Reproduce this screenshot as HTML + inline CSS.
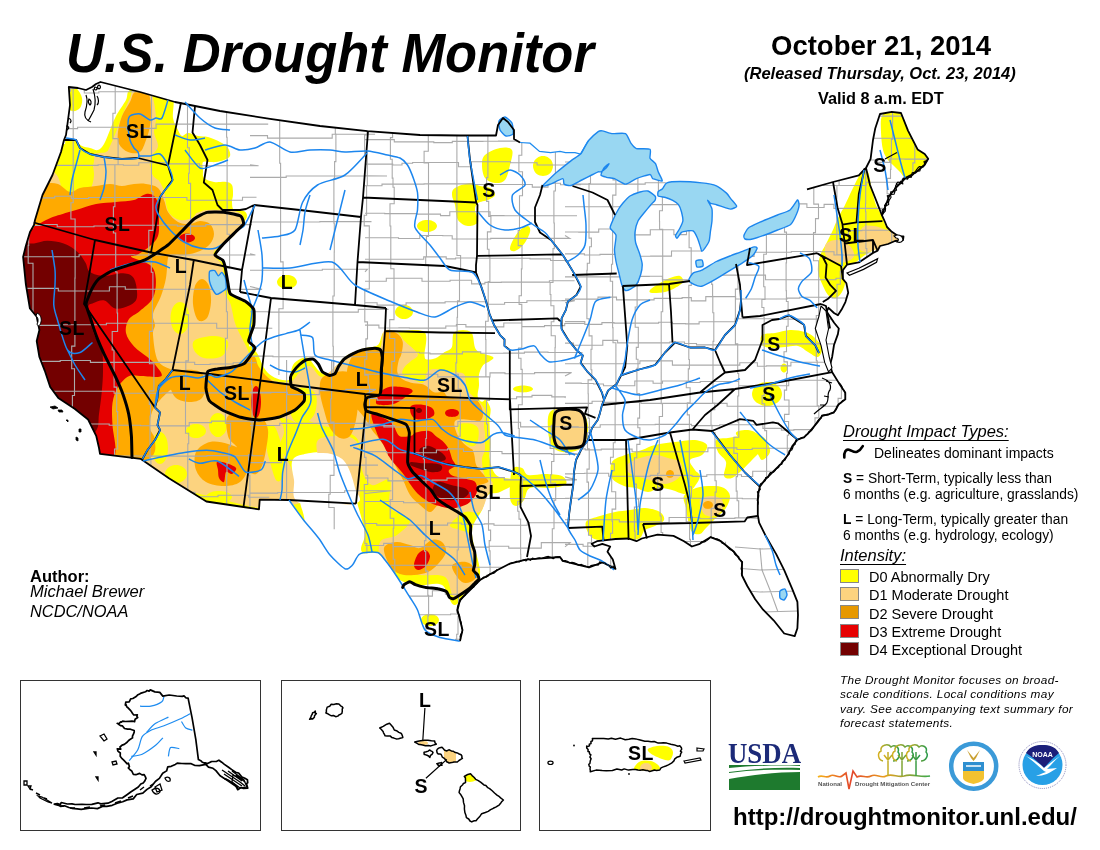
<!DOCTYPE html>
<html><head><meta charset="utf-8">
<style>
html,body{margin:0;padding:0;background:#fff;}
body{width:1100px;height:850px;position:relative;overflow:hidden;font-family:"Liberation Sans",Arial,sans-serif;color:#000;}
.map{position:absolute;left:0;top:0;}
.a{position:absolute;white-space:nowrap;}
#title{left:66px;top:24px;font-size:52.5px;font-weight:bold;font-style:italic;line-height:60px;transform:scaleY(1.064);transform-origin:0 48px;}
#date{left:771px;top:30px;font-size:27.5px;font-weight:bold;line-height:32px;}
#rel{left:744px;top:63px;font-size:16.5px;font-weight:bold;font-style:italic;line-height:20px;}
#valid{left:818px;top:88px;font-size:16.3px;font-weight:bold;line-height:20px;}
#author{left:30px;top:566px;font-size:14px;line-height:19px;}
#url{left:733px;top:802px;font-size:24px;font-weight:bold;line-height:30px;}
.box{position:absolute;border:1.5px solid #333;box-sizing:border-box;}
.lg{position:absolute;font-size:13.8px;line-height:16px;}
.sw{position:absolute;left:840px;width:19px;height:14px;box-sizing:border-box;border:1px solid #888;}
.it{font-size:14.5px;}
.pp{font-size:11.8px;line-height:14.3px;font-style:italic;letter-spacing:0.35px;}
</style></head><body>
<svg class="map" width="1100" height="850" viewBox="0 0 1100 850">
<defs><clipPath id="us"><path d="M68.8,87 78,88 86,90 92,87 96,84 100.5,82 140,92 175,102 220,111 270,118.8 320,126 367.5,131.2 420,135 460,135.5 496,135.5 498,125 503,118 508,122 514,130 514,139 520,142.5 530,143.2 539.5,151.4 550.5,152.7 560,151.4 565.5,152.7 575,152.7 580.5,154.1 584.5,147.3 588.6,140.5 598.2,131.6 602.3,130.9 611.8,133.6 625.5,133.6 630.9,143.2 636.4,148.6 650,149.3 650,158.2 655.5,163.6 658.2,171.8 660.9,177.3 665,180 666.4,184.1 666.9,182.9 680,181.5 701.8,182.9 716.4,185.8 726.5,193.1 730.9,198.9 736.7,206.2 730.9,209.1 725.1,207.6 716.4,204.7 710.5,203.3 707.6,200.4 712,209.1 712,220.7 710.5,230.9 709.1,241.1 704.7,248.4 701.8,251.3 700,258 698,265 693.1,273.1 701.8,270.2 716.4,261.5 730.9,255.6 742.5,251.3 754.2,246.9 757.1,248.4 752,243 745,239 744,235.3 748.4,228 760,222.2 777.5,215 790,210 797.5,200 800,195 805,188 807,189.4 833,182 858.8,175.3 862,172 866,168 870.6,158.8 873,140 875.3,128.2 880,114 891.8,111.8 901,113 908,130.6 917.6,149.4 924.7,154 928.2,158.8 924.7,164.7 915,173 906,177.6 896.5,187 889,196.5 884.7,208.2 882,215.3 885,222 887,227 891.8,231.8 898.8,236.5 903.5,236.5 903,240 895,241 888,244 880,246 877.6,250.6 873,253 858.8,262.4 847,264.7 843,270 842.6,278.6 846.4,283.3 848.2,292.7 845.4,302.1 841.6,309.6 837.9,315.3 834,313 828.5,307.8 826.6,311.5 834.1,322.8 838.8,328.5 837.9,334.1 834,345 832.2,356.7 830,365 832.2,372.2 838.8,382.9 845.3,392.8 845.3,399.4 838.8,404.3 833.8,412.6 828.9,414.2 822.3,415.8 817.4,422.4 809.1,432.3 804.2,437.2 797.6,439.7 792.7,445.5 787.7,455.3 781.2,463.6 772.9,471.8 764.7,480 759.8,486.6 758,495 757.8,505 757.8,514.8 759.1,522.7 765.7,535.9 776.3,554.4 784.2,570.2 792.1,588.6 797.4,601.8 798,615 797.4,628.2 794.7,636.1 784.2,633.5 773.6,620.3 763.1,609.7 755.2,599.2 747.3,586 742,575.5 742,562.3 734,551.7 720.9,541.2 710.4,537.2 699.8,543.8 691.9,546.5 684,541.2 673.5,535.9 657.6,534.6 641.8,538.5 636.5,541.2 628.6,538.5 615.5,539 597,541.2 591.7,543.8 594.4,546.5 602.3,543.8 610.2,546.5 607.5,551.7 612.8,559.6 615.5,568.9 602.3,562.3 589,567.5 578.5,564.9 562.7,561 560,557 541.6,558.3 525.8,559.6 510,563.6 497.5,570 480,580 470,590 460,600 457.5,610 462.5,630 460,641 440,637.5 425,630 417.5,610 410,597.5 397.5,577.5 385,560 377.5,552.5 360,553.8 352.5,565 345,568.8 330,555 320,540 312,530 304.3,521 296.6,510.6 289,500 259.7,499.6 259,509.3 243.5,507 206.4,501.5 169.3,478.5 140.9,458.9 100,453.8 99,448 96.2,435.8 88.1,419.5 74.6,408.7 58.3,397.9 50.2,387 44.8,370.8 39.4,357 36.7,341 39.4,330 36.7,316.7 29.9,308.5 25.8,284 23.1,257 25.8,246 30,232 34,225 35,220 42.5,195 52.5,175 61,152 64,140 66,135 70,105Z"/></clipPath></defs>
<path d="M68.8,87 78,88 86,90 92,87 96,84 100.5,82 140,92 175,102 220,111 270,118.8 320,126 367.5,131.2 420,135 460,135.5 496,135.5 498,125 503,118 508,122 514,130 514,139 520,142.5 530,143.2 539.5,151.4 550.5,152.7 560,151.4 565.5,152.7 575,152.7 580.5,154.1 584.5,147.3 588.6,140.5 598.2,131.6 602.3,130.9 611.8,133.6 625.5,133.6 630.9,143.2 636.4,148.6 650,149.3 650,158.2 655.5,163.6 658.2,171.8 660.9,177.3 665,180 666.4,184.1 666.9,182.9 680,181.5 701.8,182.9 716.4,185.8 726.5,193.1 730.9,198.9 736.7,206.2 730.9,209.1 725.1,207.6 716.4,204.7 710.5,203.3 707.6,200.4 712,209.1 712,220.7 710.5,230.9 709.1,241.1 704.7,248.4 701.8,251.3 700,258 698,265 693.1,273.1 701.8,270.2 716.4,261.5 730.9,255.6 742.5,251.3 754.2,246.9 757.1,248.4 752,243 745,239 744,235.3 748.4,228 760,222.2 777.5,215 790,210 797.5,200 800,195 805,188 807,189.4 833,182 858.8,175.3 862,172 866,168 870.6,158.8 873,140 875.3,128.2 880,114 891.8,111.8 901,113 908,130.6 917.6,149.4 924.7,154 928.2,158.8 924.7,164.7 915,173 906,177.6 896.5,187 889,196.5 884.7,208.2 882,215.3 885,222 887,227 891.8,231.8 898.8,236.5 903.5,236.5 903,240 895,241 888,244 880,246 877.6,250.6 873,253 858.8,262.4 847,264.7 843,270 842.6,278.6 846.4,283.3 848.2,292.7 845.4,302.1 841.6,309.6 837.9,315.3 834,313 828.5,307.8 826.6,311.5 834.1,322.8 838.8,328.5 837.9,334.1 834,345 832.2,356.7 830,365 832.2,372.2 838.8,382.9 845.3,392.8 845.3,399.4 838.8,404.3 833.8,412.6 828.9,414.2 822.3,415.8 817.4,422.4 809.1,432.3 804.2,437.2 797.6,439.7 792.7,445.5 787.7,455.3 781.2,463.6 772.9,471.8 764.7,480 759.8,486.6 758,495 757.8,505 757.8,514.8 759.1,522.7 765.7,535.9 776.3,554.4 784.2,570.2 792.1,588.6 797.4,601.8 798,615 797.4,628.2 794.7,636.1 784.2,633.5 773.6,620.3 763.1,609.7 755.2,599.2 747.3,586 742,575.5 742,562.3 734,551.7 720.9,541.2 710.4,537.2 699.8,543.8 691.9,546.5 684,541.2 673.5,535.9 657.6,534.6 641.8,538.5 636.5,541.2 628.6,538.5 615.5,539 597,541.2 591.7,543.8 594.4,546.5 602.3,543.8 610.2,546.5 607.5,551.7 612.8,559.6 615.5,568.9 602.3,562.3 589,567.5 578.5,564.9 562.7,561 560,557 541.6,558.3 525.8,559.6 510,563.6 497.5,570 480,580 470,590 460,600 457.5,610 462.5,630 460,641 440,637.5 425,630 417.5,610 410,597.5 397.5,577.5 385,560 377.5,552.5 360,553.8 352.5,565 345,568.8 330,555 320,540 312,530 304.3,521 296.6,510.6 289,500 259.7,499.6 259,509.3 243.5,507 206.4,501.5 169.3,478.5 140.9,458.9 100,453.8 99,448 96.2,435.8 88.1,419.5 74.6,408.7 58.3,397.9 50.2,387 44.8,370.8 39.4,357 36.7,341 39.4,330 36.7,316.7 29.9,308.5 25.8,284 23.1,257 25.8,246 30,232 34,225 35,220 42.5,195 52.5,175 61,152 64,140 66,135 70,105Z" fill="#fff" stroke="none"/>
<g clip-path="url(#us)">
<path d="M58,146C69,146 63.3,141 66,140C68.7,139 71.3,139 74,140C76.7,141 79.3,144.7 82,146C84.7,147.3 87.3,147.3 90,148C92.7,148.7 95.7,150.7 98,150C100.3,149.3 102,147.3 104,144C106,140.7 108,134.7 110,130C112,125.3 113.3,121 116,116C118.7,111 123.7,104.3 126,100C128.3,95.7 126,92 130,90C134,88 143,87.2 150,88C157,88.8 168.2,90 172,95C175.8,100 172,112.2 173,118C174,123.8 176.5,127 178,130C179.5,133 180.3,135.5 182,136C183.7,136.5 185.3,133 188,133C190.7,133 194.7,135.3 198,136C201.3,136.7 204.3,136 208,137C211.7,138 216.7,140.2 220,142C223.3,143.8 226.3,145.7 228,148C229.7,150.3 230.7,154 230,156C229.3,158 226.3,159 224,160C221.7,161 218.3,161.7 216,162C213.7,162.3 212.2,162 210,162C207.8,162 204.2,160.7 203,162C201.8,163.3 202.8,167.3 203,170C203.2,172.7 202.2,176 204,178C205.8,180 210.3,181.3 214,182C217.7,182.7 223,181.5 226,182C229,182.5 230.8,182.8 232,185C233.2,187.2 233,192.2 233,195C233,197.8 231.8,199.5 232,202C232.2,204.5 232,208.5 234,210C236,211.5 241.8,210 244,211C246.2,212 247,214.2 247,216C247,217.8 245.8,219.3 244,222C242.2,224.7 239.5,228.2 236,232C232.5,235.8 226.5,241.2 223,245C219.5,248.8 215.2,252.2 215,255C214.8,257.8 220.2,259.5 222,262C223.8,264.5 224.8,266.2 226,270C227.2,273.8 227.8,280.7 229,285C230.2,289.3 230.2,293 233,296C235.8,299 242.5,300.7 246,303C249.5,305.3 252.7,306.2 254,310C255.3,313.8 254.8,320.2 254,326C253.2,331.8 249.4,341.6 249,345C248.6,348.4 250,344.9 251.5,346.5C253,348.1 256.1,351.4 258,354.7C259.9,357.9 261.1,362.7 263,366C264.9,369.3 266.9,372.3 269.7,374.5C272.4,376.7 276.2,378.6 279.5,379.4C282.8,380.2 287.5,380.8 289.4,379.4C291.3,378 290.2,373.7 291,371C291.8,368.3 292.5,365.2 294.4,363C296.3,360.8 300.2,358.8 302.6,358C305,357.2 307.4,357.2 309,358C310.6,358.8 310.8,360.8 312.5,363C314.2,365.2 316.8,369.1 319,371C321.2,372.9 323.5,374.5 325.7,374.5C327.9,374.5 329.8,372.9 332,371C334.2,369.1 336.6,365.4 338.8,363C341,360.6 342.6,358.3 345.4,356.4C348.1,354.5 352,352.8 355.3,351.4C358.6,350 361.4,349.1 365.2,348C369,346.9 374.9,347.7 378,345C381.1,342.3 380.7,334.3 384,332C387.3,329.7 391.2,331 398,331C404.8,331 420.1,327.9 424.5,332C428.9,336.1 424,350.9 424.5,355.5C425,360.1 425.5,359.1 427.3,359.5C429.1,359.9 432.8,359.3 435.5,358.2C438.2,357.1 440.9,354.5 443.6,352.7C446.3,350.9 450,350.8 451.8,347.3C453.6,343.9 451.3,334.6 454.5,332C457.7,329.4 467.4,329 471,332C474.6,335 472.8,345.9 476.4,350C480,354.1 490.4,355 492.7,356.8C495,358.6 491.6,359.6 490,361C488.4,362.4 485,362.8 483.2,365C481.4,367.2 479.7,371.1 479,374.5C478.3,377.9 479.2,381.9 479,385.5C478.8,389.1 477.2,393.7 477.7,396.4C478.2,399.1 480.4,401.2 481.8,401.8C483.2,402.4 484.6,398.9 486,400C487.4,401.1 489.9,405.1 490.5,408.7C491.1,412.3 489.5,416 489.5,421.8C489.5,427.6 490.5,437.8 490.5,443.6C490.5,449.4 489.1,452.3 489.5,456.7C489.9,461.1 491.2,466.5 492.7,469.8C494.1,473.1 495.5,474.9 498.2,476.4C500.9,477.8 505.4,477.8 509,478.5C512.6,479.2 521.5,478.4 520,480.7C518.5,482.9 505.3,489.6 500,492C494.7,494.4 491,492 488,495C485,498 484.7,503.8 482,510C479.3,516.2 472.3,522 472,532C471.7,542 479.5,562 480,570C480.5,578 479.2,574.2 475,580C470.8,585.8 460.5,604.2 455,605C449.5,605.8 447.8,588.3 442,585C436.2,581.7 427,585.8 420,585C413,584.2 405.8,583.8 400,580C394.2,576.2 391.3,566.7 385,562C378.7,557.3 365.3,556.5 362,552C358.7,547.5 365,540.3 365,535C365,529.7 363.3,525.5 362,520C360.7,514.5 358.2,507.3 357,502C355.8,496.7 356.5,494 355,488C353.5,482 350.7,471.3 348,466C345.3,460.7 343.3,458.3 339,456C334.7,453.7 328.5,452 322,452C315.5,452 304.7,453 300,456C295.3,459 294.8,464.3 294,470C293.2,475.7 294,484.7 295,490C296,495.3 299.2,495.3 300,502C300.8,508.7 310,525.3 300,530C290,534.7 266.7,538.3 240,530C213.3,521.7 165,488.3 140,480C115,471.7 113.3,493.3 90,480C66.7,466.7 15,456.7 0,400C-15,343.3 -9.7,182.3 0,140C9.7,97.7 47,146 58,146Z M66,86C67.7,83.3 73.3,86 76,88C78.7,90 81.3,94.7 82,98C82.7,101.3 81.7,105.8 80,108C78.3,110.2 74.3,111.7 72,111C69.7,110.3 67,108.2 66,104C65,99.8 64.3,88.7 66,86Z M485,155C488,152.2 495.5,148.8 500,148C504.5,147.2 510.3,147.2 512,150C513.7,152.8 511.2,160 510,165C508.8,170 507.5,177 505,180C502.5,183 498.3,183.3 495,183C491.7,182.7 487.2,181 485,178C482.8,175 482,168.8 482,165C482,161.2 482,157.8 485,155Z M455,188C458,186 465.8,183.3 470,183C474.2,182.7 476.7,185.2 480,186C483.3,186.8 487.5,186.5 490,188C492.5,189.5 495.3,193 495,195C494.7,197 490.8,198.7 488,200C485.2,201.3 480.2,201.3 478,203C475.8,204.7 475,206.8 475,210C475,213.2 479.2,219.3 478,222C476.8,224.7 471.3,226.3 468,226C464.7,225.7 460.2,223.5 458,220C455.8,216.5 456,209.2 455,205C454,200.8 452,197.8 452,195C452,192.2 452,190 455,188Z M553,166C553,168 552.2,170.3 551.1,171.9C549.9,173.5 548,174.9 546.1,175.5C544.2,176.1 541.8,176.1 539.9,175.5C538,174.9 536.1,173.5 534.9,171.9C533.8,170.3 533,168 533,166C533,164 533.8,161.7 534.9,160.1C536.1,158.5 538,157.1 539.9,156.5C541.8,155.9 544.2,155.9 546.1,156.5C548,157.1 549.9,158.5 551.1,160.1C552.2,161.7 553,164 553,166Z M437,226C437,227.2 436.2,228.6 435.1,229.5C433.9,230.5 432,231.3 430.1,231.7C428.2,232.1 425.8,232.1 423.9,231.7C422,231.3 420.1,230.5 418.9,229.5C417.8,228.6 417,227.2 417,226C417,224.8 417.8,223.4 418.9,222.5C420.1,221.5 422,220.7 423.9,220.3C425.8,219.9 428.2,219.9 430.1,220.3C432,220.7 433.9,221.5 435.1,222.5C436.2,223.4 437,224.8 437,226Z M513,240C514.7,236.8 517.5,232.3 520,230C522.5,227.7 526.3,225.7 528,226C529.7,226.3 530.7,229 530,232C529.3,235 526.5,240.8 524,244C521.5,247.2 517.3,250.2 515,251C512.7,251.8 510.3,250.8 510,249C509.7,247.2 511.3,243.2 513,240Z M297,282C297,283.4 296.2,285 295.1,286.1C293.9,287.2 292,288.2 290.1,288.7C288.2,289.1 285.8,289.1 283.9,288.7C282,288.2 280.1,287.2 278.9,286.1C277.8,285 277,283.4 277,282C277,280.6 277.8,279 278.9,277.9C280.1,276.8 282,275.8 283.9,275.3C285.8,274.9 288.2,274.9 290.1,275.3C292,275.8 293.9,276.8 295.1,277.9C296.2,279 297,280.6 297,282Z M413,312C413,313.4 412.3,315 411.3,316.1C410.2,317.2 408.5,318.2 406.8,318.7C405.1,319.1 402.9,319.1 401.2,318.7C399.5,318.2 397.8,317.2 396.7,316.1C395.7,315 395,313.4 395,312C395,310.6 395.7,309 396.7,307.9C397.8,306.8 399.5,305.8 401.2,305.3C402.9,304.9 405.1,304.9 406.8,305.3C408.5,305.8 410.2,306.8 411.3,307.9C412.3,309 413,310.6 413,312Z M533,389C533,389.7 532.2,390.5 531.1,391.1C529.9,391.6 528,392.1 526.1,392.3C524.2,392.5 521.8,392.5 519.9,392.3C518,392.1 516.1,391.6 514.9,391.1C513.8,390.5 513,389.7 513,389C513,388.3 513.8,387.5 514.9,386.9C516.1,386.4 518,385.9 519.9,385.7C521.8,385.5 524.2,385.5 526.1,385.7C528,385.9 529.9,386.4 531.1,386.9C532.2,387.5 533,388.3 533,389Z M650,290C651.3,288.3 656.7,285 660,283C663.3,281 666.7,279.2 670,278C673.3,276.8 677.8,275.3 680,276C682.2,276.7 683.8,280 683,282C682.2,284 678,286.3 675,288C672,289.7 668.8,291.2 665,292C661.2,292.8 654.5,293.3 652,293C649.5,292.7 648.7,291.7 650,290Z M882,116C883.8,112.5 888.7,111.5 892,111C895.3,110.5 899,109.5 902,113C905,116.5 907,125.8 910,132C913,138.2 916.7,145.7 920,150C923.3,154.3 929.2,155.3 930,158C930.8,160.7 927.5,163.3 925,166C922.5,168.7 918.2,172 915,174C911.8,176 908.5,178.3 906,178C903.5,177.7 902,174 900,172C898,170 896,168 894,166C892,164 889.8,162.7 888,160C886.2,157.3 884.2,154.7 883,150C881.8,145.3 881.2,137.7 881,132C880.8,126.3 880.2,119.5 882,116Z M862,172C863.7,171 866.3,169 868,172C869.7,175 870.7,184.5 872,190C873.3,195.5 874.3,200.7 876,205C877.7,209.3 880.3,212.5 882,216C883.7,219.5 884,223 886,226C888,229 891,232 894,234C897,236 903.7,236.3 904,238C904.3,239.7 900,242.3 896,244C892,245.7 884.7,246.5 880,248C875.3,249.5 872,250.7 868,253C864,255.3 859.3,259.5 856,262C852.7,264.5 849.7,265 848,268C846.3,271 847,276 846,280C845,284 843.7,289 842,292C840.3,295 838.2,297.3 836,298C833.8,298.7 831,297.7 829,296C827,294.3 825.8,292 824,288C822.2,284 818.7,277.3 818,272C817.3,266.7 818.7,260.7 820,256C821.3,251.3 824,248 826,244C828,240 830,236.3 832,232C834,227.7 835.8,222.5 838,218C840.2,213.5 842.7,209.7 845,205C847.3,200.3 849.8,194.5 852,190C854.2,185.5 856.3,181 858,178C859.7,175 860.3,173 862,172Z M762,335C764.2,333 770.3,333.8 775,333C779.7,332.2 785,330.2 790,330C795,329.8 800.8,330.7 805,332C809.2,333.3 812.2,335.3 815,338C817.8,340.7 821.5,344.8 822,348C822.5,351.2 820.3,356.3 818,357C815.7,357.7 811.3,353.8 808,352C804.7,350.2 801.8,346.8 798,346C794.2,345.2 789.3,346.7 785,347C780.7,347.3 775.8,348.3 772,348C768.2,347.7 763.7,347.2 762,345C760.3,342.8 759.8,337 762,335Z M787.5,368C787.5,368.9 787.2,369.9 786.8,370.6C786.4,371.4 785.7,372 785.1,372.3C784.4,372.6 783.6,372.6 782.9,372.3C782.3,372 781.6,371.4 781.2,370.6C780.8,369.9 780.5,368.9 780.5,368C780.5,367.1 780.8,366.1 781.2,365.4C781.6,364.6 782.3,364 782.9,363.7C783.6,363.4 784.4,363.4 785.1,363.7C785.7,364 786.4,364.6 786.8,365.4C787.2,366.1 787.5,367.1 787.5,368Z M782,394C782,396.4 780.9,399.2 779.1,401.1C777.4,403 774.4,404.7 771.6,405.4C768.8,406.1 765.2,406.1 762.4,405.4C759.6,404.7 756.6,403 754.9,401.1C753.1,399.2 752,396.4 752,394C752,391.6 753.1,388.8 754.9,386.9C756.6,385 759.6,383.3 762.4,382.6C765.2,381.9 768.8,381.9 771.6,382.6C774.4,383.3 777.4,385 779.1,386.9C780.9,388.8 782,391.6 782,394Z M612,462C614.2,458.2 620,457 625,455C630,453 637,451.7 642,450C647,448.3 649.5,446.3 655,445C660.5,443.7 668.3,442.8 675,442C681.7,441.2 689.7,439.5 695,440C700.3,440.5 705.8,442.5 707,445C708.2,447.5 704.8,452.5 702,455C699.2,457.5 691.2,457.5 690,460C688.8,462.5 693.3,467.3 695,470C696.7,472.7 700,473.3 700,476C700,478.7 697.3,483 695,486C692.7,489 689.8,493.3 686,494C682.2,494.7 676.3,491 672,490C667.7,489 664,487.7 660,488C656,488.3 652,492 648,492C644,492 640,489 636,488C632,487 628,487.7 624,486C620,484.3 614,482 612,478C610,474 609.8,465.8 612,462Z M586,522C587.7,518.7 595.2,517.7 600,516C604.8,514.3 610,513 615,512C620,511 625,510.7 630,510C635,509.3 640,507.7 645,508C650,508.3 656.8,510 660,512C663.2,514 664.8,517.7 664,520C663.2,522.3 658.2,524.3 655,526C651.8,527.7 647.5,528 645,530C642.5,532 642.5,536.3 640,538C637.5,539.7 634.2,540 630,540C625.8,540 620,538 615,538C610,538 604.2,540.3 600,540C595.8,539.7 592.3,539 590,536C587.7,533 584.3,525.3 586,522Z M684,496C685.7,492.7 691.3,489.7 696,488C700.7,486.3 707.3,486 712,486C716.7,486 721,486.3 724,488C727,489.7 729.7,492.7 730,496C730.3,499.3 728.3,504.3 726,508C723.7,511.7 719.3,514.7 716,518C712.7,521.3 708.7,525.3 706,528C703.3,530.7 702.3,533.3 700,534C697.7,534.7 694,534.3 692,532C690,529.7 689,524 688,520C687,516 686.7,512 686,508C685.3,504 682.3,499.3 684,496Z M716,440C717.7,437.7 723.7,438.7 728,438C732.3,437.3 737.7,435.7 742,436C746.3,436.3 751,437.7 754,440C757,442.3 760.3,446.7 760,450C759.7,453.3 755,456.7 752,460C749,463.3 745.3,467 742,470C738.7,473 735,477 732,478C729,479 725,478.7 724,476C723,473.3 727,466 726,462C725,458 719.7,455.7 718,452C716.3,448.3 714.3,442.3 716,440Z M736,434C734.7,430.3 744.3,430 748,430C751.7,430 755,432.3 758,434C761,435.7 764,437 766,440C768,443 770.7,448.7 770,452C769.3,455.3 764.3,460 762,460C759.7,460 760.3,456.3 756,452C751.7,447.7 737.3,437.7 736,434Z M550,412C553,408.3 560.7,408 566,408C571.3,408 578.3,409.2 582,412C585.7,414.8 587.3,420.3 588,425C588.7,429.7 587.7,435.8 586,440C584.3,444.2 582,448 578,450C574,452 566.3,452.7 562,452C557.7,451.3 554.3,449.7 552,446C549.7,442.3 548.3,435.7 548,430C547.7,424.3 547,415.7 550,412Z M512,470C514,465 519.3,467.2 522,468C524.7,468.8 524.2,474 528,475C531.8,476 539.3,473.8 545,474C550.7,474.2 558.5,474.3 562,476C565.5,477.7 567.7,482 566,484C564.3,486 558,487.3 552,488C546,488.7 534.7,486 530,488C525.3,490 526.3,497 524,500C521.7,503 518.3,506.3 516,506C513.7,505.7 510.7,504 510,498C509.3,492 510,475 512,470Z" fill="#ffff00"/>
<path d="M20,168C27.5,168.3 39.2,169.2 45,170C50.8,170.8 52.5,171 55,173C57.5,175 58.8,178.3 60,182C61.2,185.7 60.3,192 62,195C63.7,198 67,199.5 70,200C73,200.5 76.7,199.7 80,198C83.3,196.3 87.7,193.8 90,190C92.3,186.2 93.7,180 94,175C94.3,170 92,163.5 92,160C92,156.5 91.7,155.3 94,154C96.3,152.7 103.3,153.3 106,152C108.7,150.7 108.3,149.3 110,146C111.7,142.7 114,137 116,132C118,127 119.7,121.7 122,116C124.3,110.3 128,102.3 130,98C132,93.7 130.7,91 134,90C137.3,89 146.3,87.7 150,92C153.7,96.3 155.3,109.3 156,116C156.7,122.7 153.7,127 154,132C154.3,137 158.3,142 158,146C157.7,150 153.3,152.7 152,156C150.7,159.3 149.3,162.7 150,166C150.7,169.3 154,172.7 156,176C158,179.3 160.5,182.8 162,186C163.5,189.2 164.3,192 165,195C165.7,198 165.2,200.8 166,204C166.8,207.2 167.7,211.3 170,214C172.3,216.7 176.3,219.3 180,220C183.7,220.7 188.7,219.5 192,218C195.3,216.5 194.7,212.3 200,211C205.3,209.7 217.3,209.7 224,210C230.7,210.3 236.7,211 240,213C243.3,215 244.7,218.5 244,222C243.3,225.5 239.3,230.3 236,234C232.7,237.7 227.7,241 224,244C220.3,247 215.3,249.7 214,252C212.7,254.3 214.7,255.8 216,258C217.3,260.2 220.7,261.3 222,265C223.3,268.7 223.5,275.2 224,280C224.5,284.8 223.9,290 225,294C226.1,298 228.7,298.8 230.5,304C232.3,309.2 233.1,318 235.7,325C238.3,332 243.4,340.5 246,346C248.6,351.5 249.3,354.7 251,358C252.7,361.3 254.2,363.7 256,366C257.8,368.3 259.3,369.7 262,372C264.7,374.3 267.3,378.3 272,380C276.7,381.7 285.3,383.3 290,382C294.7,380.7 296.7,374.7 300,372C303.3,369.3 306.3,365.2 310,366C313.7,366.8 317.5,377.2 322,377C326.5,376.8 332,368.7 337,365C342,361.3 347,357.2 352,355C357,352.8 362.3,353.2 367,352C371.7,350.8 377.2,351.5 380,348C382.8,344.5 381.2,333.7 384,331C386.8,328.3 393.7,330.4 397,332C400.3,333.6 400.6,336.8 404,340.5C407.4,344.2 416.5,350.6 417.7,354C418.9,357.4 413.3,358.7 411,361C408.7,363.3 405.4,365.4 404,367.7C402.6,369.9 401.5,372.7 402.7,374.5C403.9,376.3 407.6,377.2 411,378.6C414.4,380 420.3,383.8 423,382.7C425.7,381.6 425.2,374.1 427.3,371.8C429.4,369.5 432.3,369 435.5,369C438.7,369 441.9,371.1 446.4,371.8C450.9,372.5 459.5,371.8 462.7,373.2C465.9,374.6 464.6,377 465.5,380C466.4,383 466.4,387.8 468.2,391C469.9,394.2 473.9,396.8 476,399C478.1,401.2 479.5,402 481,404C482.5,406 484.5,407.5 485,411C485.5,414.5 484,418.8 484,425C484,431.2 485.3,442.2 485,448C484.7,453.8 482,455.3 482,460C482,464.7 483.2,472.6 485,476.4C486.8,480.2 492.4,479.6 492.7,483C493,486.4 489.1,492.2 487,497C484.9,501.8 483.7,509.5 480,512C476.3,514.5 470,509.8 465,512C460,514.2 450.8,522 450,525C449.2,528 456.7,528.3 460,530C463.3,531.7 467.5,530.5 470,535C472.5,539.5 473.8,549.5 475,557C476.2,564.5 480.3,573.3 477,580C473.7,586.7 460.3,597.5 455,597C449.7,596.5 450.8,580.7 445,577C439.2,573.3 427.5,576.2 420,575C412.5,573.8 406.3,571.7 400,570C393.7,568.3 385.3,569.7 382,565C378.7,560.3 377.5,547 380,542C382.5,537 392,538.7 397,535C402,531.3 411.2,524.7 410,520C408.8,515.3 393.3,513.7 390,507C386.7,500.3 393,483.7 390,480C387,476.3 376.7,486.7 372,485C367.3,483.3 364.3,477.5 362,470C359.7,462.5 361.7,446.7 358,440C354.3,433.3 346.3,432.5 340,430C333.7,427.5 326.7,426.7 320,425C313.3,423.3 305,417.5 300,420C295,422.5 292.5,431.7 290,440C287.5,448.3 287.5,460.8 285,470C282.5,479.2 277.5,488.3 275,495C272.5,501.7 292.5,512.5 270,510C247.5,507.5 170,485 140,480C110,475 113.3,493.3 90,480C66.7,466.7 15,452 0,400C-15,348 -3.3,206.7 0,168C3.3,129.3 12.5,167.7 20,168Z M555,410C557.5,407.2 563.5,407.8 568,408C572.5,408.2 579,408.3 582,411C585,413.7 585.5,419.2 586,424C586.5,428.8 586.5,436.2 585,440C583.5,443.8 581.2,445.7 577,447C572.8,448.3 563.8,449.2 560,448C556.2,446.8 555.2,443.8 554,440C552.8,436.2 552.8,430 553,425C553.2,420 552.5,412.8 555,410Z M628,464C630,461.7 635.5,459.5 640,458C644.5,456.5 650.3,455 655,455C659.7,455 663.8,456.8 668,458C672.2,459.2 677.7,459.7 680,462C682.3,464.3 682.7,469 682,472C681.3,475 679,478 676,480C673,482 668.3,484 664,484C659.7,484 654.7,481.3 650,480C645.3,478.7 639.7,477.3 636,476C632.3,474.7 629.3,474 628,472C626.7,470 626,466.3 628,464Z M700,500C701.3,497 708.3,496 712,496C715.7,496 720.3,497.7 722,500C723.7,502.3 723.3,507.3 722,510C720.7,512.7 717,515.3 714,516C711,516.7 706.3,516.7 704,514C701.7,511.3 698.7,503 700,500Z M862,228C864.7,224.7 870,225.7 874,226C878,226.3 882,228.2 886,230C890,231.8 896.7,234.7 898,237C899.3,239.3 897,242.2 894,244C891,245.8 884.7,246.7 880,248C875.3,249.3 869.7,252.3 866,252C862.3,251.7 858.7,250 858,246C857.3,242 859.3,231.3 862,228Z M826,244C828,241.3 834,239.7 838,240C842,240.3 847.3,243.3 850,246C852.7,248.7 854.7,253.3 854,256C853.3,258.7 849.3,261 846,262C842.7,263 837.3,263 834,262C830.7,261 827.3,259 826,256C824.7,253 824,246.7 826,244Z" fill="#fcd37f"/>
<path d="M62,146C63.7,142 68,145.3 72,146C76,146.7 82.3,148.3 86,150C89.7,151.7 93,152.7 94,156C95,159.3 93,165.2 92,170C91,174.8 90,180.8 88,185C86,189.2 83,193.2 80,195C77,196.8 72.7,197.2 70,196C67.3,194.8 65.3,192.3 64,188C62.7,183.7 62.3,177 62,170C61.7,163 60.3,150 62,146Z M169,168C169,170.4 168.3,173.2 167.3,175.1C166.2,177 164.5,178.7 162.8,179.4C161.1,180.1 158.9,180.1 157.2,179.4C155.5,178.7 153.8,177 152.7,175.1C151.7,173.2 151,170.4 151,168C151,165.6 151.7,162.8 152.7,160.9C153.8,159 155.5,157.3 157.2,156.6C158.9,155.9 161.1,155.9 162.8,156.6C164.5,157.3 166.2,159 167.3,160.9C168.3,162.8 169,165.6 169,168Z M170,188C172.5,185.7 180,185.7 185,186C190,186.3 195.8,187.7 200,190C204.2,192.3 209.3,196.7 210,200C210.7,203.3 207.3,207.7 204,210C200.7,212.3 194.7,213.7 190,214C185.3,214.3 179.3,214.3 176,212C172.7,209.7 171,204 170,200C169,196 167.5,190.3 170,188Z M189.5,318C189.5,321.1 188.8,324.9 187.7,327.4C186.6,329.9 184.7,332.2 182.9,333.2C181.2,334.2 178.8,334.2 177.1,333.2C175.3,332.2 173.4,329.9 172.3,327.4C171.2,324.9 170.5,321.1 170.5,318C170.5,314.9 171.2,311.1 172.3,308.6C173.4,306.1 175.3,303.8 177.1,302.8C178.8,301.8 181.2,301.8 182.9,302.8C184.7,303.8 186.6,306.1 187.7,308.6C188.8,311.1 189.5,314.9 189.5,318Z M195,340C198.5,337.7 209.5,335.7 215,336C220.5,336.3 226.8,338.7 228,342C229.2,345.3 226,353.3 222,356C218,358.7 208.7,359 204,358C199.3,357 195.5,353 194,350C192.5,347 191.5,342.3 195,340Z M227,425C227,427.4 226.3,430.2 225.3,432.1C224.2,434 222.5,435.7 220.8,436.4C219.1,437.1 216.9,437.1 215.2,436.4C213.5,435.7 211.8,434 210.7,432.1C209.7,430.2 209,427.4 209,425C209,422.6 209.7,419.8 210.7,417.9C211.8,416 213.5,414.3 215.2,413.6C216.9,412.9 219.1,412.9 220.8,413.6C222.5,414.3 224.2,416 225.3,417.9C226.3,419.8 227,422.6 227,425Z M206,431C206,432.4 205.2,434 204.1,435.1C202.9,436.2 201,437.2 199.1,437.7C197.2,438.1 194.8,438.1 192.9,437.7C191,437.2 189.1,436.2 187.9,435.1C186.8,434 186,432.4 186,431C186,429.6 186.8,428 187.9,426.9C189.1,425.8 191,424.8 192.9,424.3C194.8,423.9 197.2,423.9 199.1,424.3C201,424.8 202.9,425.8 204.1,426.9C205.2,428 206,429.6 206,431Z M168,448C168,451.1 167.4,454.9 166.5,457.4C165.6,459.9 164,462.2 162.5,463.2C161,464.2 159,464.2 157.5,463.2C156,462.2 154.4,459.9 153.5,457.4C152.6,454.9 152,451.1 152,448C152,444.9 152.6,441.1 153.5,438.6C154.4,436.1 156,433.8 157.5,432.8C159,431.8 161,431.8 162.5,432.8C164,433.8 165.6,436.1 166.5,438.6C167.4,441.1 168,444.9 168,448Z M187,474C187,475.8 186.2,477.9 184.9,479.3C183.6,480.7 181.4,482 179.4,482.6C177.3,483.1 174.7,483.1 172.6,482.6C170.6,482 168.4,480.7 167.1,479.3C165.8,477.9 165,475.8 165,474C165,472.2 165.8,470.1 167.1,468.7C168.4,467.3 170.6,466 172.6,465.4C174.7,464.9 177.3,464.9 179.4,465.4C181.4,466 183.6,467.3 184.9,468.7C186.2,470.1 187,472.2 187,474Z M232,497C232,498.2 231,499.6 229.5,500.5C228,501.5 225.4,502.3 223,502.7C220.6,503.1 217.4,503.1 215,502.7C212.6,502.3 210,501.5 208.5,500.5C207,499.6 206,498.2 206,497C206,495.8 207,494.4 208.5,493.5C210,492.5 212.6,491.7 215,491.3C217.4,490.9 220.6,490.9 223,491.3C225.4,491.7 228,492.5 229.5,493.5C231,494.4 232,495.8 232,497Z M262,425C265,419.7 274,418 280,418C286,418 293.8,420.5 298,425C302.2,429.5 304.7,437.5 305,445C305.3,452.5 302.5,462.5 300,470C297.5,477.5 294.2,485.8 290,490C285.8,494.2 279,496.7 275,495C271,493.3 268.2,487.5 266,480C263.8,472.5 262.7,459.2 262,450C261.3,440.8 259,430.3 262,425Z M292,392C294.5,388 301,387.5 305,388C309,388.5 314.5,390.5 316,395C317.5,399.5 316.7,410 314,415C311.3,420 304,425.5 300,425C296,424.5 291.3,417.5 290,412C288.7,406.5 289.5,396 292,392Z M256,382C256,383.8 255.5,385.9 254.9,387.3C254.2,388.7 253,390 251.9,390.6C250.7,391.1 249.3,391.1 248.1,390.6C247,390 245.8,388.7 245.1,387.3C244.5,385.9 244,383.8 244,382C244,380.2 244.5,378.1 245.1,376.7C245.8,375.3 247,374 248.1,373.4C249.3,372.9 250.7,372.9 251.9,373.4C253,374 254.2,375.3 254.9,376.7C255.5,378.1 256,380.2 256,382Z" fill="#ffff00"/>
<path d="M262,418C264.7,414 269,415.7 272,416C275,416.3 278,417.3 280,420C282,422.7 284,427.7 284,432C284,436.3 279.7,441.7 280,446C280.3,450.3 284,454 286,458C288,462 290.3,465.3 292,470C293.7,474.7 294.7,480.5 296,486C297.3,491.5 306.3,500.2 300,503C293.7,505.8 265.3,508.5 258,503C250.7,497.5 256.3,480.5 256,470C255.7,459.5 255,448.7 256,440C257,431.3 259.3,422 262,418Z M318,440C320.8,436.8 329.3,436.3 335,436C340.7,435.7 347.8,435.7 352,438C356.2,440.3 358.7,443.3 360,450C361.3,456.7 360.7,469.2 360,478C359.3,486.8 362.3,499.3 356,503C349.7,506.7 326.3,503.8 322,500C317.7,496.2 329.3,485.8 330,480C330.7,474.2 328,469.2 326,465C324,460.8 319.3,459.2 318,455C316.7,450.8 315.2,443.2 318,440Z" fill="#fcd37f"/>
<path d="M266,428C267.3,424.8 271.7,424 274,426C276.3,428 278.3,434.3 280,440C281.7,445.7 283.7,453.7 284,460C284.3,466.3 283.3,474.7 282,478C280.7,481.3 278,482.7 276,480C274,477.3 271.7,467.8 270,462C268.3,456.2 266.7,450.7 266,445C265.3,439.3 264.7,431.2 266,428Z" fill="#ffff00"/>
<path d="M294,458C298.7,453.5 314.5,453.2 322,453C329.5,452.8 334.7,454.7 339,457C343.3,459.3 345.3,461.8 348,467C350.7,472.2 353.7,482 355,488C356.3,494 365.2,500.5 356,503C346.8,505.5 310.3,506.8 300,503C289.7,499.2 295,487.5 294,480C293,472.5 289.3,462.5 294,458Z" fill="#ffffff"/>
<path d="M135,92C138,90.5 145.3,90 148,93C150.7,96 150.7,104.5 151,110C151.3,115.5 150.8,121 150,126C149.2,131 147.7,135.7 146,140C144.3,144.3 143,150 140,152C137,154 131.5,153.3 128,152C124.5,150.7 120.7,147.3 119,144C117.3,140.7 117.5,136.7 118,132C118.5,127.3 120,121 122,116C124,111 127.8,106 130,102C132.2,98 132,93.5 135,92Z M20,190C26.3,190.3 33.7,193 38,192C42.3,191 42.7,185.3 46,184C49.3,182.7 54,182.7 58,184C62,185.3 66.3,191.3 70,192C73.7,192.7 75.7,189 80,188C84.3,187 91,186.7 96,186C101,185.3 105.7,184 110,184C114.3,184 118,186 122,186C126,186 130,184.3 134,184C138,183.7 142,183.3 146,184C150,184.7 155,185.3 158,188C161,190.7 162.3,196 164,200C165.7,204 165.7,208.3 168,212C170.3,215.7 174.3,220 178,222C181.7,224 186.3,224.2 190,224C193.7,223.8 196.7,221 200,221C203.3,221 207.7,221.8 210,224C212.3,226.2 214,230.7 214,234C214,237.3 212.3,241.2 210,244C207.7,246.8 204.2,249.2 200,251C195.8,252.8 189.7,254.3 185,255C180.3,255.7 174.8,254.5 172,255C169.2,255.5 169,254.2 168,258C167,261.8 167.2,271.7 166,278C164.8,284.3 163.2,290 161,296C158.8,302 154,309.2 153,314C152,318.8 155,321.5 155,325C155,328.5 152.5,329 153,335C153.5,341 154.7,355 158,361C161.3,367 169.5,367.5 173,371C176.5,374.5 179.8,378.5 179,382C178.2,385.5 171.2,389 168,392C164.8,395 162.7,396.7 160,400C157.3,403.3 153.7,407.3 152,412C150.3,416.7 149.5,423.3 150,428C150.5,432.7 155,435 155,440C155,445 157.5,453 150,458C142.5,463 135,468 110,470C85,472 18.3,516.7 0,470C-18.3,423.3 -3.3,236.7 0,190C3.3,143.3 13.7,189.7 20,190Z M195,286C196.5,281.8 199.7,279 202,279C204.3,279 207.5,282.2 209,286C210.5,289.8 211.3,296.7 211,302C210.7,307.3 209.2,315 207,318C204.8,321 200.3,322.3 198,320C195.7,317.7 193.5,309.7 193,304C192.5,298.3 193.5,290.2 195,286Z M206,376C208.3,372.8 215,370.7 220,369C225,367.3 230.5,368.2 236,366C241.5,363.8 249.2,355.9 253,356C256.8,356.1 256.2,362.8 258.6,366.4C261.1,369.9 264.7,374.6 267.7,377.3C270.7,380 273.2,381.5 276.8,382.7C280.4,383.9 286.3,383.6 289.5,384.5C292.7,385.4 293.6,386.2 296,388C298.4,389.8 302.7,392.8 304,395C305.3,397.2 305.5,398.5 304,401C302.5,403.5 299.2,407.3 295,410C290.8,412.7 284.7,415.6 278.6,417.3C272.5,419 265,420 258.6,420C252.3,420 246.6,419 240.5,417.3C234.4,415.6 227.5,412.7 222.3,410C217.1,407.3 212.2,404.5 209.5,400.9C206.8,397.3 206.5,392.3 205.9,388.2C205.3,384.1 203.7,379.2 206,376Z M196,452C198.3,447.3 204.7,443.3 210,442C215.3,440.7 222.3,442.3 228,444C233.7,445.7 240.7,448 244,452C247.3,456 248.7,463 248,468C247.3,473 244,479 240,482C236,485 229.7,486 224,486C218.3,486 210.7,484.7 206,482C201.3,479.3 197.7,475 196,470C194.3,465 193.7,456.7 196,452Z M170,374C172.3,371.3 179,370.3 184,370C189,369.7 196.3,369.7 200,372C203.7,374.3 205.7,379.7 206,384C206.3,388.3 204.7,395 202,398C199.3,401 194.3,402 190,402C185.7,402 179.3,400.7 176,398C172.7,395.3 171,390 170,386C169,382 167.7,376.7 170,374Z M228,416C231.3,412.3 242.3,413.7 248,414C253.7,414.3 258.7,415.3 262,418C265.3,420.7 267.3,424.7 268,430C268.7,435.3 267,444 266,450C265,456 263.7,462 262,466C260.3,470 258.3,473.3 256,474C253.7,474.7 250,473.2 248,470C246,466.8 246,459 244,455C242,451 238.7,449.2 236,446C233.3,442.8 229.3,441 228,436C226.7,431 224.7,419.7 228,416Z M345,382C346.7,378 346.5,370.7 348,366C349.5,361.3 351.3,356.8 354,354C356.7,351.2 360.7,350 364,349C367.3,348 370.8,347.8 374,348C377.2,348.2 381.1,352.8 383,350C384.9,347.2 383.4,333.7 385.7,331C388,328.3 394.2,331.8 397,333.6C399.8,335.4 402,338.4 402.7,341.8C403.4,345.2 402.1,350.8 401.4,354C400.7,357.2 399.3,358 398.6,361C397.9,364 396.8,368.9 397.3,371.8C397.8,374.7 399.1,376.8 401.4,378.6C403.7,380.4 407.6,381.8 411,382.7C414.4,383.6 419.1,383.3 421.8,384C424.5,384.7 425.3,385.4 427.3,386.8C429.3,388.2 431.3,391.4 434,392.3C436.7,393.2 441.3,391.6 443.6,392.3C445.9,393 445,395.3 447.7,396.4C450.4,397.5 455.2,398.4 460,399C464.8,399.6 472.6,397.7 476.4,400C480.2,402.3 482.6,409.4 483,413C483.4,416.6 482.2,420.3 478.5,421.8C474.8,423.3 464.6,420.7 461,421.8C457.4,422.9 456.7,426.2 456.7,428.4C456.7,430.6 458.8,432.5 461,435C463.2,437.5 467.6,440.4 469.8,443.6C472,446.9 473.1,450.9 474.2,454.5C475.3,458.1 474.6,461.9 476.4,465.5C478.2,469.1 483.1,473.6 485,476.4C486.9,479.1 489.5,480.4 488,482C486.5,483.6 480.7,484.7 476,486C471.3,487.3 464.7,487.7 460,490C455.3,492.3 451.7,497.5 448,500C444.3,502.5 441,503 438,505C435,507 433,512 430,512C427,512 423.3,507.8 420,505C416.7,502.2 412.8,499.2 410,495C407.2,490.8 405.5,485 403,480C400.5,475 397.5,469.7 395,465C392.5,460.3 390.5,456.2 388,452C385.5,447.8 382.7,443.7 380,440C377.3,436.3 374.3,433.3 372,430C369.7,426.7 368.3,423.3 366,420C363.7,416.7 361,413.3 358,410C355,406.7 351.3,403.3 348,400C344.7,396.7 338.5,393 338,390C337.5,387 343.3,386 345,382Z M322,378C324.7,374.7 331.7,373 336,372C340.3,371 344.7,370.7 348,372C351.3,373.3 354.3,375.3 356,380C357.7,384.7 358,393.3 358,400C358,406.7 357.3,414 356,420C354.7,426 352.7,433 350,436C347.3,439 343.3,439.3 340,438C336.7,436.7 332.7,432.7 330,428C327.3,423.3 325.7,416 324,410C322.3,404 320.3,397.3 320,392C319.7,386.7 319.3,381.3 322,378Z M384,548C385,544 391.7,542.5 396,542C400.3,541.5 406,544 410,545C414,546 416.3,548.8 420,548C423.7,547.2 428.3,541 432,540C435.7,539 439.7,540 442,542C444.3,544 446.7,548.3 446,552C445.3,555.7 441,560.7 438,564C435,567.3 432,570.2 428,572C424,573.8 418.7,574.7 414,575C409.3,575.3 404,575.5 400,574C396,572.5 392.7,570.3 390,566C387.3,561.7 383,552 384,548Z M452,566C452.7,562.7 462,561.3 466,562C470,562.7 474.7,567 476,570C477.3,573 476.3,578 474,580C471.7,582 465.7,584.3 462,582C458.3,579.7 451.3,569.3 452,566Z M674,474C674,474.8 673.7,475.7 673.2,476.4C672.8,477 672,477.6 671.2,477.8C670.5,478 669.5,478 668.8,477.8C668,477.6 667.2,477 666.8,476.4C666.3,475.7 666,474.8 666,474C666,473.2 666.3,472.3 666.8,471.6C667.2,471 668,470.4 668.8,470.2C669.5,470 670.5,470 671.2,470.2C672,470.4 672.8,471 673.2,471.6C673.7,472.3 674,473.2 674,474Z M713,505C713,505.8 712.6,506.7 712,507.4C711.5,508 710.5,508.6 709.5,508.8C708.6,509 707.4,509 706.5,508.8C705.5,508.6 704.5,508 704,507.4C703.4,506.7 703,505.8 703,505C703,504.2 703.4,503.3 704,502.6C704.5,502 705.5,501.4 706.5,501.2C707.4,501 708.6,501 709.5,501.2C710.5,501.4 711.5,502 712,502.6C712.6,503.3 713,504.2 713,505Z" fill="#ffaa00"/>
<path d="M455,421C457,418.3 465.5,419.5 470,420C474.5,420.5 479.5,420.7 482,424C484.5,427.3 485.7,435.7 485,440C484.3,444.3 480.8,448.8 478,450C475.2,451.2 471.3,449.3 468,447C464.7,444.7 460.2,440.3 458,436C455.8,431.7 453,423.7 455,421Z" fill="#fcd37f"/>
<path d="M458,425C459.7,422.9 466.7,423 470,423.5C473.3,424 476.7,425.2 478,428C479.3,430.8 478.7,437 478,440C477.3,443 476,445.3 474,446C472,446.7 468.3,445.7 466,444C463.7,442.3 461.3,439.2 460,436C458.7,432.8 456.3,427.1 458,425Z M439,620C439,621.2 438.3,622.6 437.3,623.5C436.2,624.5 434.5,625.3 432.8,625.7C431.1,626.1 428.9,626.1 427.2,625.7C425.5,625.3 423.8,624.5 422.7,623.5C421.7,622.6 421,621.2 421,620C421,618.8 421.7,617.4 422.7,616.5C423.8,615.5 425.5,614.7 427.2,614.3C428.9,613.9 431.1,613.9 432.8,614.3C434.5,614.7 436.2,615.5 437.3,616.5C438.3,617.4 439,618.8 439,620Z" fill="#ffff00"/>
<path d="M0,215C5,176.3 24.2,226.2 30,228C35.8,229.8 32.3,227.3 35,226C37.7,224.7 42.5,221.7 46,220C49.5,218.3 51,217.7 56,216C61,214.3 69.3,212 76,210C82.7,208 89.3,205.3 96,204C102.7,202.7 109.7,202.7 116,202C122.3,201.3 129,201.3 134,200C139,198.7 142.7,194.7 146,194C149.3,193.3 152,194.3 154,196C156,197.7 157.2,200 158,204C158.8,208 159,214.7 159,220C159,225.3 159.5,231.7 158,236C156.5,240.3 153.5,242.8 150,246C146.5,249.2 140.1,253.2 137,255C133.9,256.8 129.2,255.3 131.4,257C133.6,258.7 146.3,261.6 150.4,265.2C154.5,268.8 155.4,273.3 155.8,278.7C156.2,284.1 155.7,292.3 153,297.7C150.3,303.1 143.7,307.6 139.6,311.2C135.5,314.8 131,315.8 128.7,319.4C126.4,323 125.1,328.4 126,332.9C126.9,337.4 130.5,342.3 134.1,346.4C137.7,350.5 144.1,354.1 147.7,357.3C151.3,360.5 153.6,362.2 155.8,365.4C158.1,368.5 163.8,374.4 161.2,376.2C158.6,378 145.4,376 140,376C134.6,376 132.4,374.4 128.7,376.2C125,378 120.7,382.5 118,387C115.3,391.5 113.4,396.7 112.5,403C111.6,409.3 112.1,416.4 112.5,425C112.9,433.6 117.1,447.3 115,454.8C112.9,462.3 119.2,469.1 100,470C80.8,470.9 16.7,502.5 0,460C-16.7,417.5 -5,253.7 0,215Z M195,238C195,238.9 194.4,239.9 193.5,240.6C192.6,241.4 191,242 189.5,242.3C188,242.6 186,242.6 184.5,242.3C183,242 181.4,241.4 180.5,240.6C179.6,239.9 179,238.9 179,238C179,237.1 179.6,236.1 180.5,235.4C181.4,234.6 183,234 184.5,233.7C186,233.4 188,233.4 189.5,233.7C191,234 192.6,234.6 193.5,235.4C194.4,236.1 195,237.1 195,238Z M261,402C261,405.1 260.6,408.9 260,411.4C259.5,413.9 258.5,416.2 257.5,417.2C256.6,418.2 255.4,418.2 254.5,417.2C253.5,416.2 252.5,413.9 252,411.4C251.4,408.9 251,405.1 251,402C251,398.9 251.4,395.1 252,392.6C252.5,390.1 253.5,387.8 254.5,386.8C255.4,385.8 256.6,385.8 257.5,386.8C258.5,387.8 259.5,390.1 260,392.6C260.6,395.1 261,398.9 261,402Z M217,462C218.3,460.8 222.8,462 226,463C229.2,464 235,466.2 236,468C237,469.8 233.7,473.3 232,474C230.3,474.7 227.3,470.7 226,472C224.7,473.3 225.2,481 224,482C222.8,483 220,480 219,478C218,476 218.3,472.7 218,470C217.7,467.3 215.7,463.2 217,462Z M383,389.8C385.7,387.6 388.7,386.8 392.8,386.5C396.9,386.2 404.4,387.3 407.7,388.1C411,388.9 412.9,390 412.6,391.4C412.3,392.8 408.2,394.8 406,396.4C403.8,398 401.9,399.9 399.4,401.3C396.9,402.7 394.8,404.1 391.2,404.6C387.6,405.2 380.5,405.4 378,404.6C375.5,403.8 375.6,402.2 376.4,399.7C377.2,397.2 380.3,392 383,389.8Z M371.4,414.5C372.2,411.5 379.4,416.2 383,417.8C386.6,419.4 390.1,421.4 392.8,424.4C395.5,427.4 396.4,434 399.4,435.9C402.4,437.8 408.2,436.4 411,435.9C413.8,435.3 412.9,433.4 415.9,432.6C418.9,431.8 425.8,430.4 429.1,431C432.4,431.6 433.5,434.3 435.7,435.9C437.9,437.5 440.1,438.6 442.3,440.8C444.5,443 447.2,446.1 448.8,449.1C450.4,452.1 451,456.2 452.1,459C453.2,461.8 455.9,463.7 455.4,465.6C454.8,467.5 449.4,468.9 448.8,470.5C448.2,472.1 449.4,474 452.1,475.4C454.9,476.8 461.5,477.6 465.3,478.7C469.1,479.8 473.3,479.8 475.2,482C477.1,484.2 477.4,488.9 476.9,491.9C476.3,494.9 473.8,497.9 471.9,500.1C470,502.3 468.6,503.7 465.3,505.1C462,506.5 457,508.4 452.1,508.4C447.2,508.4 440.1,506.5 435.7,505.1C431.3,503.7 428.8,502 425.8,500.1C422.8,498.2 420,496.1 417.5,493.6C415,491.1 413.2,488.3 411,485.3C408.8,482.3 406.9,478.7 404.4,475.4C401.9,472.1 398.6,468.6 396.1,465.6C393.6,462.6 391.7,460.9 389.5,457.3C387.3,453.7 384.9,447.7 383,444.1C381.1,440.5 379.9,440.8 378,435.9C376.1,431 370.6,417.5 371.4,414.5Z M411,406C412.7,404.4 417.5,404.3 421,404.6C424.5,404.9 429.8,406.3 432,408C434.2,409.7 435,413.2 434,415C433,416.8 429,418.3 426,419C423,419.7 418.5,419.8 416,419C413.5,418.2 411.8,416.2 411,414C410.2,411.8 409.3,407.6 411,406Z M459,413C459,413.8 458.5,414.7 457.7,415.4C456.9,416 455.5,416.6 454.2,416.8C452.9,417 451.1,417 449.8,416.8C448.5,416.6 447.1,416 446.3,415.4C445.5,414.7 445,413.8 445,413C445,412.2 445.5,411.3 446.3,410.6C447.1,410 448.5,409.4 449.8,409.2C451.1,409 452.9,409 454.2,409.2C455.5,409.4 456.9,410 457.7,410.6C458.5,411.3 459,412.2 459,413Z M394.5,453C394.5,453.9 394.2,454.9 393.8,455.6C393.4,456.4 392.7,457 392.1,457.3C391.4,457.6 390.6,457.6 389.9,457.3C389.3,457 388.6,456.4 388.2,455.6C387.8,454.9 387.5,453.9 387.5,453C387.5,452.1 387.8,451.1 388.2,450.4C388.6,449.6 389.3,449 389.9,448.7C390.6,448.4 391.4,448.4 392.1,448.7C392.7,449 393.4,449.6 393.8,450.4C394.2,451.1 394.5,452.1 394.5,453Z M418,554C419.8,551.5 423,549.7 425,550C427,550.3 429.8,553.3 430,556C430.2,558.7 428,563.7 426,566C424,568.3 420,570.2 418,570C416,569.8 414,567.7 414,565C414,562.3 416.2,556.5 418,554Z" fill="#e60000"/>
<path d="M0,243C3.7,213.5 16.3,242.9 22,243C27.7,243.1 29.8,243.9 34,243.5C38.2,243.1 42.5,240.8 47.5,240.8C52.5,240.8 58.7,241.7 63.7,243.5C68.7,245.3 73.7,248.5 77.3,251.7C80.9,254.9 83.3,259.1 85.4,262.5C87.5,265.9 86.8,269.8 90,272C93.2,274.2 98.9,275.8 104.4,276C110,276.2 118.3,272.9 123.3,273.3C128.2,273.8 131.8,274.6 134.1,278.7C136.4,282.8 137.8,293.2 136.9,297.7C136,302.2 132.3,304 128.7,305.8C125.1,307.6 119.2,309.4 115.2,308.5C111.2,307.6 108,301.3 104.4,300.4C100.8,299.5 96.2,301.8 93.5,303.1C90.8,304.5 88.1,303.5 88.1,308.5C88.1,313.5 91.2,326.1 93.5,332.9C95.8,339.7 100.1,342.8 101.7,349.1C103.3,355.4 103,363.6 103,370.8C103,378 102.4,385.3 101.7,392.5C101,399.7 99.9,407.7 99,414C98.1,420.3 99.4,426.1 96.2,430.4C93,434.7 96,441.7 80,440C64,438.3 13.3,452.8 0,420C-13.3,387.2 -3.7,272.5 0,243Z M420.7,448C422.2,446.9 425.8,445.6 428.4,445.8C430.9,446 433.5,447.6 436,449C438.5,450.4 442,452.8 443.6,454.5C445.2,456.2 446.2,457.9 445.8,459C445.4,460.1 443.7,461 441.5,461C439.3,461 435.4,459.9 432.7,459C429.9,458.1 427.2,456.7 425,455.6C422.8,454.5 420.3,453.7 419.6,452.4C418.9,451.1 419.2,449.1 420.7,448Z M411,462C412.8,461.6 418.2,463.1 421.8,463.3C425.4,463.5 429.4,462.9 432.7,463.3C436,463.7 440.2,464.2 441.5,465.5C442.8,466.8 442.2,469.9 440.4,471C438.6,472.1 434,472.4 430.5,472C427,471.6 422.9,469.8 419.6,468.7C416.4,467.6 412.4,466.6 411,465.5C409.6,464.4 409.2,462.4 411,462Z M437.3,482C440.6,480.9 447.4,484.2 452.1,485.3C456.8,486.4 462.6,487.2 465.3,488.6C468.1,490 469.2,492 468.6,493.6C468.1,495.2 465.3,497.4 462,498.5C458.7,499.6 452.6,500.4 448.8,500.1C445,499.8 441.7,498.3 439,496.9C436.3,495.5 432.7,494.4 432.4,491.9C432.1,489.4 434,483.1 437.3,482Z M422,410.5C422,411 421.8,411.6 421.4,412C421.1,412.4 420.5,412.7 419.9,412.9C419.4,413 418.6,413 418.1,412.9C417.5,412.7 416.9,412.4 416.6,412C416.2,411.6 416,411 416,410.5C416,410 416.2,409.4 416.6,409C416.9,408.6 417.5,408.3 418.1,408.1C418.6,408 419.4,408 419.9,408.1C420.5,408.3 421.1,408.6 421.4,409C421.8,409.4 422,410 422,410.5Z" fill="#730000"/>
<path d="M10,91 25,91 25,91 38.5,91 38.5,91 57.8,91 57.8,91.1 70.5,91.1 70.5,88.4 84.3,88.4 84.3,93 98.8,93 98.8,91.8 129.8,91.8 129.8,91.8 149.7,91.8 149.7,91.8 162.6,91.8 162.6,91.8 180.4,91.8 180.4,88.7 198.6,88.7 198.6,88.7 214.2,88.7 214.2,88.7 239,88.7 239,91.3 252.2,91.3 250,89.2 M10,126.9 30.6,126.9 30.6,127.4 51.6,127.4 51.6,128.6 77.6,128.6 77.6,127.3 100.1,127.3 100.1,127.3 126.7,127.3 126.7,129.7 141,129.7 141,128.4 156.1,128.4 156.1,124.1 181.5,124.1 181.5,124.1 204.9,124.1 204.9,124.1 223.2,124.1 223.2,124.1 247.1,124.1 247.1,124.1 268.2,124.1 250,124.1 M10,165.4 31.5,165.4 31.5,165.4 44.7,165.4 44.7,165.4 69.6,165.4 69.6,165.4 98.1,165.4 98.1,164.7 123.4,164.7 123.4,165.2 138.8,165.2 138.8,162.7 166.2,162.7 166.2,163.9 186,163.9 186,163.9 199.6,163.9 199.6,165.7 229.3,165.7 229.3,165.7 258.6,165.7 250,164.9 M10,197.9 39.7,197.9 39.7,197.9 54.7,197.9 54.7,196.3 71.4,196.3 71.4,198.5 88.6,198.5 88.6,197.5 108,197.5 108,197.5 139.1,197.5 139.1,197.5 161.4,197.5 161.4,197.5 186.9,197.5 186.9,200.3 214.5,200.3 214.5,200.3 242.5,200.3 242.5,197.3 256.5,197.3 250,197.3 M10,227.5 23.3,227.5 23.3,225.5 42.1,225.5 42.1,224.5 57.2,224.5 57.2,226.7 69.7,226.7 69.7,226.7 94,226.7 94,226 112.9,226 112.9,225.2 141.9,225.2 141.9,225.2 163.2,225.2 163.2,225 177.3,225 177.3,226.1 205.8,226.1 205.8,224.6 236.9,224.6 236.9,224.6 251.8,224.6 250,224.6 M10,256.7 32.6,256.7 32.6,256.7 61.8,256.7 61.8,256.7 79.1,256.7 79.1,254.7 106.5,254.7 106.5,254.7 134.1,254.7 134.1,255 162.3,255 162.3,255 191.4,255 191.4,255 219.7,255 219.7,255 236.3,255 236.3,255 255.4,255 250,253.8 M10,288.4 27.2,288.4 27.2,288.4 58.3,288.4 58.3,291 90.1,291 90.1,291 109.4,291 109.4,286.8 125.3,286.8 125.3,289.2 155.3,289.2 155.3,289.2 176.9,289.2 176.9,289.2 204.9,289.2 204.9,289.4 235.1,289.4 235.1,289.4 262.1,289.4 250,286.5 M10,325.4 28.7,325.4 28.7,325.4 60.1,325.4 60.1,324.8 91,324.8 91,324.8 106.4,324.8 106.4,323.3 136.5,323.3 136.5,323.3 151.4,323.3 151.4,323.3 183,323.3 183,323.3 202.1,323.3 202.1,323.3 216.7,323.3 216.7,328.2 241.7,328.2 241.7,328.2 272.3,328.2 250,327.6 M10,362.7 26.2,362.7 26.2,361.4 43,361.4 43,361.4 60.2,361.4 60.2,360.5 90.4,360.5 90.4,362.4 114.1,362.4 114.1,362.4 134.5,362.4 134.5,362.4 156.5,362.4 156.5,362.4 179,362.4 179,362.3 194.7,362.3 194.7,364.5 210.1,364.5 210.1,364 233.2,364 233.2,362.8 256.3,362.8 250,362.8 M10,392.7 33.2,392.7 33.2,391.3 60.7,391.3 60.7,391.3 83.9,391.3 83.9,391.3 114.1,391.3 114.1,393.3 136.2,393.3 136.2,393.3 162.1,393.3 162.1,392.9 183.7,392.9 183.7,392.9 209.6,392.9 209.6,392.9 240.5,392.9 240.5,393 271.4,393 250,393 M10,423 24.4,423 24.4,420.4 41.2,420.4 41.2,424 68.9,424 68.9,424 84,424 84,424 109.2,424 109.2,425.3 140.6,425.3 140.6,425.7 160.5,425.7 160.5,425.9 189.2,425.9 189.2,422.6 211.5,422.6 211.5,421.1 229.9,421.1 229.9,421.1 242.3,421.1 242.3,421.1 263.1,421.1 250,422 M10,458.2 32.2,458.2 32.2,461.1 60,461.1 60,461.1 74.1,461.1 74.1,455.5 101.7,455.5 101.7,456 122.1,456 122.1,456 150.5,456 150.5,456.1 180.9,456.1 180.9,456.1 206.9,456.1 206.9,455.6 232.7,455.6 232.7,455.7 263.4,455.7 250,455.7 M10,495.3 23.7,495.3 23.7,495.3 37,495.3 37,495.3 58.1,495.3 58.1,495.6 88.6,495.6 88.6,493.1 111.2,493.1 111.2,493 126.4,493 126.4,493.5 144.6,493.5 144.6,496.9 162.4,496.9 162.4,496.9 178,496.9 178,492.4 195,492.4 195,496.7 218,496.7 218,495.2 248.7,495.2 248.7,497.2 269.3,497.2 250,497.3 M30.3,80 30.3,101.9 30.3,101.9 30.3,117.9 30.3,117.9 30.3,140.1 30.3,140.1 30.3,157.2 27.6,157.2 27.6,169.6 31.7,169.6 31.7,184.2 27.8,184.2 27.8,208.7 27.8,208.7 27.8,230.3 28.7,230.3 28.7,245.4 28.2,245.4 28.2,263.2 33,263.2 33,290 33,290 33,304.3 33,304.3 33,319.8 27.3,319.8 27.3,336.5 30.3,336.5 30.3,350.1 30.3,350.1 30.3,360.4 27.8,360.4 27.8,377.4 27.4,377.4 27.4,392.7 30.8,392.7 30.8,411.9 30.8,411.9 30.8,433.3 30.8,433.3 30.8,458.4 29.2,458.4 29.2,485.4 31.6,485.4 31.6,506.5 32.3,506.5 32.3,531.9 32.3,520 M73.1,80 73.1,104 73.2,104 73.2,122.8 73.2,122.8 73.2,146.7 73.2,146.7 73.2,166.8 73.2,166.8 73.2,188.6 73.2,188.6 73.2,202.7 70.9,202.7 70.9,219 75.1,219 75.1,238.7 75.1,238.7 75.1,259.6 75.1,259.6 75.1,278.1 74.9,278.1 74.9,301 74.9,301 74.9,320.3 74.9,320.3 74.9,331.6 74.9,331.6 74.9,346.1 71.7,346.1 71.7,368.7 74.5,368.7 74.5,395.5 72.4,395.5 72.4,413.9 72.4,413.9 72.4,437.1 72.4,437.1 72.4,458.2 71,458.2 71,472.7 71,472.7 71,488.1 71,488.1 71,498.5 71.7,498.5 71.7,520.2 71.7,520 M115.2,80 115.2,95.1 115.2,95.1 115.2,113.2 112.9,113.2 112.9,138.6 118.1,138.6 118.1,164.8 114.9,164.8 114.9,188.9 114.9,188.9 114.9,206.7 113.4,206.7 113.4,233 115.7,233 115.7,245.6 115.7,245.6 115.7,272 117.1,272 117.1,290.9 117.1,290.9 117.1,313 117.6,313 117.6,331.5 112.2,331.5 112.2,350 114,350 114,362.6 114.1,362.6 114.1,387.1 116.7,387.1 116.7,411.6 117.7,411.6 117.7,433.9 117.7,433.9 117.7,449 114.5,449 114.5,476.2 114.5,476.2 114.5,492.5 113.8,492.5 113.8,503.6 117.2,503.6 117.2,518.6 117.2,518.6 117.2,533.1 115.2,520 M151.5,80 151.5,96.5 151.5,96.5 151.5,121.8 151.5,121.8 151.5,142.7 151.5,142.7 151.5,168.9 151.5,168.9 151.5,191.3 152.9,191.3 152.9,209.2 152.9,209.2 152.9,230.4 148.8,230.4 148.8,256.3 151.3,256.3 151.3,272.3 152.9,272.3 152.9,299.1 152.4,299.1 152.4,314.5 152.4,314.5 152.4,331.4 149.4,331.4 149.4,345.1 149.4,345.1 149.4,363.7 153.9,363.7 153.9,390.9 149.3,390.9 149.3,404.4 150.5,404.4 150.5,416.1 150,416.1 150,436 150,436 150,458.9 150.9,458.9 150.9,478 150.5,478 150.5,489.3 154.3,489.3 154.3,501.6 154.3,501.6 154.3,522.5 154.3,520 M188.1,80 188.1,94.8 187.5,94.8 187.5,112.6 187.5,112.6 187.5,137.2 187.5,137.2 187.5,147.8 189.3,147.8 189.3,173.2 188.6,173.2 188.6,183.4 190.6,183.4 190.6,207.7 190.6,207.7 190.6,234.4 185.7,234.4 185.7,247.2 185.7,247.2 185.7,269 185.7,269 185.7,291.5 185.7,291.5 185.7,314.7 188.4,314.7 188.4,325.5 188.4,325.5 188.4,339.7 188.4,339.7 188.4,360.9 185.8,360.9 185.8,375.3 185.8,375.3 185.8,397.4 185.5,397.4 185.5,416.5 185.5,416.5 185.5,433.3 188.7,433.3 188.7,443.7 187.8,443.7 187.8,470.2 187.8,470.2 187.8,495.4 186.5,495.4 186.5,509.8 186.5,509.8 186.5,532 185.2,520 M228,80 228,101.7 226.6,101.7 226.6,123.2 226.6,123.2 226.6,137.3 227.1,137.3 227.1,154.6 227.1,154.6 227.1,168.2 227.1,168.2 227.1,190.9 227.1,190.9 227.1,204.6 227.1,204.6 227.1,220.1 227.1,220.1 227.1,234.3 229.6,234.3 229.6,249.5 229.6,249.5 229.6,268.1 226.4,268.1 226.4,285.4 226.4,285.4 226.4,311.7 227.4,311.7 227.4,325.5 227.4,325.5 227.4,338.2 225.4,338.2 225.4,355 225.4,355 225.4,380.3 225.4,380.3 225.4,407.4 225.4,407.4 225.4,423.2 230.6,423.2 230.6,446.1 229,446.1 229,462.7 227,462.7 227,475.8 226.7,475.8 226.7,492 226.7,492 226.7,504.3 226.7,504.3 226.7,518 230,518 230,542.2 225.3,520 M250,96.8 291.8,96.8 291.8,96 333,96 333,96.2 371.8,96.2 365,96.2 M250,135.6 267.5,135.6 267.5,138.1 291,138.1 291,138.1 332.2,138.1 332.2,134.2 375.1,134.2 365,134.2 M250,177.4 286.2,177.4 286.2,176 302.8,176 302.8,176 344.5,176 344.5,176 387,176 365,175.8 M250,222 292.8,222 292.8,222 319.9,222 319.9,221.6 350,221.6 350,221.6 371.5,221.6 365,221.6 M250,270.2 289.1,270.2 289.1,270.2 322.3,270.2 322.3,269.2 348.8,269.2 348.8,269.2 367.4,269.2 365,271.8 M250,311.8 268.3,311.8 268.3,312.1 293.7,312.1 293.7,312.1 334.5,312.1 334.5,312.1 358.3,312.1 358.3,309.4 388.5,309.4 365,309.4 M250,356.1 272.9,356.1 272.9,356.8 308,356.8 308,356.8 347.8,356.8 347.8,356.8 367.6,356.8 365,356.8 M281.2,80 281.2,101.9 281.2,101.9 281.2,119.9 279.7,119.9 279.7,136.8 279.7,136.8 279.7,163.3 280.6,163.3 280.6,199.2 280.6,199.2 280.6,217.9 280.6,217.9 280.6,246.1 280.6,246.1 280.6,261.9 283.1,261.9 283.1,294.3 283.1,294.3 283.1,308.7 278.9,308.7 278.9,326.5 278.9,326.5 278.9,353.1 278.9,353.1 278.9,375 278.9,360 M335.3,80 335.3,99.3 335.3,99.3 335.3,134.1 335.9,134.1 335.9,161.6 334.6,161.6 334.6,178.3 333.9,178.3 333.9,205.2 333.9,205.2 333.9,223.3 334.3,223.3 334.3,252.1 334.2,252.1 334.2,270.2 334.2,270.2 334.2,296 332.9,296 332.9,318.4 332.9,318.4 332.9,346.3 333.3,346.3 333.3,375.4 334,360 M250,392.4 268.2,392.4 268.2,392.4 287.4,392.4 287.4,394.6 319.3,394.6 319.3,390.6 345.9,390.6 345.9,389.4 375.9,389.4 365,394.3 M250,425.5 279.7,425.5 279.7,423.4 292,423.4 292,423.4 316.8,423.4 316.8,423.4 330.5,423.4 330.5,423.4 350,423.4 350,423.4 364.9,423.4 364.9,425.6 395.4,425.6 365,425.4 M250,462.6 281.3,462.6 281.3,460.3 312.2,460.3 312.2,460.3 333.9,460.3 333.9,465.1 353.6,465.1 353.6,465.1 378,465.1 365,465.1 M250,493.1 277.7,493.1 277.7,492.5 306.6,492.5 306.6,492.5 322.3,492.5 322.3,492.5 344.7,492.5 344.7,490.8 361.6,490.8 361.6,490.8 391.5,490.8 365,493.5 M251.5,360 251.5,384.4 252.1,384.4 252.1,404 252.1,404 252.1,419.4 252,419.4 252,436.8 252,436.8 252,454.6 248.7,454.6 248.7,475.4 249.9,475.4 249.9,498.5 249.9,498.5 249.9,516.5 251.4,516.5 251.4,528.6 251.1,520 M286.6,360 286.6,377.7 286.6,377.7 286.6,388.6 286.6,388.6 286.6,400.2 286.6,400.2 286.6,423.6 286.6,423.6 286.6,434.7 286.6,434.7 286.6,451.4 286.6,451.4 286.6,463.9 286.6,463.9 286.6,491 286.6,491 286.6,515.1 289.5,515.1 289.5,533.6 289.5,520 M331.6,360 331.6,373 331.6,373 331.6,399 330.7,399 330.7,422.1 334,422.1 334,437 334,437 334,449.6 334,449.6 334,475.4 330.2,475.4 330.2,494.2 328.8,494.2 328.8,507.5 334.2,507.5 334.2,529.3 334.2,520 M365,139.6 375.7,139.6 375.7,139.6 394.3,139.6 394.3,141.9 411.6,141.9 411.6,141.9 433.8,141.9 433.8,142.6 452.3,142.6 452.3,141.4 465.3,141.4 465.3,141.4 482.9,141.4 482.9,141.2 498.5,141.2 498.5,141.1 508.3,141.1 508.3,141.1 521.1,141.1 521.1,141.1 544.8,141.1 544.8,141.1 563.8,141.1 563.8,136.6 573.3,136.6 565,140.3 M365,164.1 381.7,164.1 381.7,164.1 392.7,164.1 392.7,165 402,165 402,163.2 412.6,163.2 412.6,162.5 430.4,162.5 430.4,162.5 442.4,162.5 442.4,162.5 458.5,162.5 458.5,166.7 471.2,166.7 471.2,161.7 489.8,161.7 489.8,161.7 510.5,161.7 510.5,162.7 519.7,162.7 519.7,162.7 537.1,162.7 537.1,165 552.8,165 552.8,165 572.8,165 565,166.5 M365,185.7 382,185.7 382,184.1 391.8,184.1 391.8,184.1 401,184.1 401,184.1 424.1,184.1 424.1,183.9 442.3,183.9 442.3,183.9 460.9,183.9 460.9,183.9 472.5,183.9 472.5,184.5 482.2,184.5 482.2,184.5 503,184.5 503,184.5 512.1,184.5 512.1,184.5 532.3,184.5 532.3,187.1 548,187.1 548,183.3 560.5,183.3 560.5,184.7 580.8,184.7 565,184.7 M365,213.3 384.7,213.3 384.7,213.6 400.2,213.6 400.2,213.6 417.1,213.6 417.1,214.1 440.5,214.1 440.5,215.6 449.8,215.6 449.8,211.7 469.9,211.7 469.9,211.7 490.1,211.7 490.1,215.6 504,215.6 504,215.7 522.5,215.7 522.5,215.7 541.5,215.7 541.5,215.7 557.5,215.7 557.5,215.7 577,215.7 565,215.7 M365,237.8 384.9,237.8 384.9,237.8 398.5,237.8 398.5,238.5 408.7,238.5 408.7,238.5 419.8,238.5 419.8,235.5 442.8,235.5 442.8,235.7 452.2,235.7 452.2,239 470.7,239 470.7,239 490.7,239 490.7,238.4 505.2,238.4 505.2,238.4 526.5,238.4 526.5,238.4 536.5,238.4 536.5,238.4 559.2,238.4 559.2,238.4 569.8,238.4 565,235.5 M365,259.3 386.7,259.3 386.7,259.3 405.2,259.3 405.2,259.3 423.7,259.3 423.7,256.9 434.2,256.9 434.2,256.9 446.2,256.9 446.2,258.9 455.6,258.9 455.6,258 475.3,258 475.3,258.2 498.8,258.2 498.8,258.2 520.5,258.2 520.5,258.2 530,258.2 530,258.9 550.6,258.9 550.6,260.5 567.7,260.5 565,261.5 M365,281.3 386.3,281.3 386.3,278.3 398.3,278.3 398.3,278.3 422,278.3 422,281.2 438.4,281.2 438.4,281.2 450.1,281.2 450.1,280.3 471.6,280.3 471.6,283.9 484.9,283.9 484.9,282.4 501.3,282.4 501.3,282.1 511.6,282.1 511.6,282.1 531,282.1 531,282.1 549.4,282.1 549.4,280.7 564.4,280.7 564.4,280.7 574.6,280.7 565,280.7 M365,302.7 377.1,302.7 377.1,305.1 393.6,305.1 393.6,305 406.1,305 406.1,302.9 426.4,302.9 426.4,302.9 445.1,302.9 445.1,301.7 456.5,301.7 456.5,301.7 475.4,301.7 475.4,301.7 486.9,301.7 486.9,304.3 504.6,304.3 504.6,302.5 526.9,302.5 526.9,300.8 540.4,300.8 540.4,300.8 562.1,300.8 562.1,300.6 574.8,300.6 565,302.8 M365,325.1 378.9,325.1 378.9,328 398.9,328 398.9,327.9 409.4,327.9 409.4,328.1 430.3,328.1 430.3,328.1 445.8,328.1 445.8,326 456.4,326 456.4,324.5 465.9,324.5 465.9,326.9 485.3,326.9 485.3,326.9 503.8,326.9 503.8,323 521.9,323 521.9,326.6 544.5,326.6 544.5,325.6 564.7,325.6 564.7,323.5 584.6,323.5 565,323.5 M365,352.2 384.5,352.2 384.5,352.2 403.7,352.2 403.7,352.2 419.5,352.2 419.5,353 430,353 430,353.9 449.7,353.9 449.7,353.9 462.4,353.9 462.4,351.9 480.7,351.9 480.7,353.3 503.7,353.3 503.7,353.1 524.4,353.1 524.4,352.1 548,352.1 548,352.5 559.4,352.5 559.4,352.5 582.5,352.5 565,352.5 M365,374.2 382.6,374.2 382.6,374.2 402.4,374.2 402.4,374.2 421,374.2 421,374.2 437.8,374.2 437.8,376.9 449.9,376.9 449.9,376.9 464.8,376.9 464.8,376.9 475.7,376.9 475.7,376.9 490,376.9 490,372.9 505,372.9 505,373.7 520.3,373.7 520.3,373.7 534.6,373.7 534.6,372.6 554.7,372.6 554.7,372.6 571.6,372.6 565,376 M365,398.4 377.2,398.4 377.2,400.1 398.3,400.1 398.3,400.1 414.4,400.1 414.4,400.1 426.8,400.1 426.8,400.1 441,400.1 441,400.1 462.3,400.1 462.3,400.1 478.4,400.1 478.4,398.7 489.2,398.7 489.2,398.7 503.5,398.7 503.5,398.7 516.6,398.7 516.6,396.9 532,396.9 532,395.4 551.8,395.4 551.8,396.9 565.3,396.9 565,398 M365,424.4 383.9,424.4 383.9,427 405.7,427 405.7,426.4 428.3,426.4 428.3,426.4 439.4,426.4 439.4,426.4 457.9,426.4 457.9,421.5 481.2,421.5 481.2,421.5 493.9,421.5 493.9,422.3 506.4,422.3 506.4,422.3 520.6,422.3 520.6,426.9 541.5,426.9 541.5,426.8 559.6,426.8 559.6,426.8 578.7,426.8 565,426.8 M365,451.6 386.6,451.6 386.6,452.7 403.5,452.7 403.5,452.7 419.1,452.7 419.1,452.7 436.4,452.7 436.4,450 447.5,450 447.5,448.9 463.5,448.9 463.5,451.5 480,451.5 480,451.5 502,451.5 502,453.6 518,453.6 518,453.6 537,453.6 537,453.6 551.6,453.6 551.6,454.4 561.7,454.4 561.7,454.4 580.3,454.4 565,452.2 M365,478 388,478 388,480.9 404.6,480.9 404.6,480.3 414.1,480.3 414.1,480.3 432.5,480.3 432.5,480.1 447,480.1 447,478.1 467.6,478.1 467.6,477.6 482.9,477.6 482.9,477.6 504.3,477.6 504.3,479.9 519.4,479.9 519.4,479.9 532.4,479.9 532.4,479.9 556.1,479.9 556.1,479.9 576.9,479.9 565,476.9 M365,501.5 382.8,501.5 382.8,501.5 403.6,501.5 403.6,502.8 425.8,502.8 425.8,502.8 435.6,502.8 435.6,498.5 447.4,498.5 447.4,498.5 465.6,498.5 465.6,498.5 486.4,498.5 486.4,498.5 504.6,498.5 504.6,498.5 523,498.5 523,498.5 540.9,498.5 540.9,498.5 553.1,498.5 553.1,498.5 569,498.5 565,498.5 M365,523.5 376.7,523.5 376.7,525.1 399.4,525.1 399.4,525.1 414,525.1 414,525.1 434.8,525.1 434.8,525.1 447.6,525.1 447.6,523 461.4,523 461.4,524.3 484.4,524.3 484.4,523.9 494,523.9 494,525.3 511.6,525.3 511.6,525.3 527.3,525.3 527.3,522.8 545.2,522.8 545.2,522.8 568.9,522.8 565,522.9 M365,545.5 383.7,545.5 383.7,543.4 392.9,543.4 392.9,546.6 403.7,546.6 403.7,546.6 414,546.6 414,546.6 425,546.6 425,546.8 437.6,546.8 437.6,546.8 449.4,546.8 449.4,547.1 469.1,547.1 469.1,547.1 489.1,547.1 489.1,546.3 508.7,546.3 508.7,548.1 521.5,548.1 521.5,548.1 541.3,548.1 541.3,542.6 560,542.6 560,542.6 570.2,542.6 565,546.9 M365,568 386.9,568 386.9,565.3 401.4,565.3 401.4,565.3 417,565.3 417,565.3 428.2,565.3 428.2,565.3 442.6,565.3 442.6,565.3 461.1,565.3 461.1,567.3 481.9,567.3 481.9,567.3 502.6,567.3 502.6,567.3 516,567.3 516,570.8 535.6,570.8 535.6,570.8 549.6,570.8 549.6,570.8 573.2,570.8 565,570.8 M365,593.7 378.6,593.7 378.6,596.1 393.3,596.1 393.3,596.1 411.3,596.1 411.3,596.1 432.4,596.1 432.4,590.7 445.4,590.7 445.4,594.3 466.6,594.3 466.6,594.3 476.2,594.3 476.2,594.3 497.4,594.3 497.4,594.3 515,594.3 515,595.8 536.1,595.8 536.1,595.8 558.8,595.8 558.8,591.2 576.1,591.2 565,591.2 M365,616.5 385.3,616.5 385.3,616.5 397.8,616.5 397.8,616.5 416.9,616.5 416.9,614.7 429.7,614.7 429.7,614.7 450.6,614.7 450.6,614 471.7,614 471.7,614 484.2,614 484.2,614 506.7,614 506.7,614 523.5,614 523.5,617 535.3,617 535.3,614.6 554.9,614.6 554.9,616.9 569.9,616.9 565,616.9 M365,638.9 374.7,638.9 374.7,638.9 389.3,638.9 389.3,639.7 410.1,639.7 410.1,639.4 424.3,639.4 424.3,639.4 433.6,639.4 433.6,641.8 455.6,641.8 455.6,639.3 468.5,639.3 468.5,639.3 483.9,639.3 483.9,639.3 504.4,639.3 504.4,639.3 527.8,639.3 527.8,636.1 539.9,636.1 539.9,636.4 549.6,636.4 549.6,636.4 571.7,636.4 565,641.5 M366.9,120 366.9,135 364.6,135 364.6,154.5 367.3,154.5 367.3,170 367.3,170 367.3,185.8 366.6,185.8 366.6,195.3 366.6,195.3 366.6,215.2 364.2,215.2 364.2,225.9 369.3,225.9 369.3,244.7 369.3,244.7 369.3,252.8 369.3,252.8 369.3,269.2 369.3,269.2 369.3,289 364.8,289 364.8,306 364.8,306 364.8,321.9 367.5,321.9 367.5,338.9 365.9,338.9 365.9,349.6 366.8,349.6 366.8,359.2 364.8,359.2 364.8,375.2 368.2,375.2 368.2,385.1 369.5,385.1 369.5,395.4 369.5,395.4 369.5,413.7 369.5,413.7 369.5,423 364.5,423 364.5,442.1 364.5,442.1 364.5,457.4 366,457.4 366,475.2 367.7,475.2 367.7,484.5 364.3,484.5 364.3,500.9 364.3,500.9 364.3,510.2 364.3,510.2 364.3,521.1 364.9,521.1 364.9,531.9 364.9,531.9 364.9,543.6 366.9,543.6 366.9,555.1 366.9,555.1 366.9,564 366.9,564 366.9,572.2 366.9,572.2 366.9,588.1 366.8,588.1 366.8,599.2 365.1,599.2 365.1,611.2 365.1,611.2 365.1,631.2 365.1,631.2 365.1,639.9 369.3,639.9 369.3,648.1 369.3,648.1 369.3,659.3 369.3,650 M392.6,120 392.6,137.6 390.4,137.6 390.4,145.1 390.4,145.1 390.4,159.2 392.2,159.2 392.2,178.1 393,178.1 393,187.3 394.2,187.3 394.2,203.7 390,203.7 390,212.3 390,212.3 390,226 390.8,226 390.8,241.2 390.8,241.2 390.8,258.8 390.8,258.8 390.8,268.8 394,268.8 394,281.4 394,281.4 394,289.6 394,289.6 394,301.3 394,301.3 394,319.6 389.7,319.6 389.7,338.5 394.8,338.5 394.8,349.3 394.6,349.3 394.6,361.4 391.8,361.4 391.8,376.4 392.7,376.4 392.7,389.4 392.7,389.4 392.7,398.4 392.7,398.4 392.7,416.1 392.7,416.1 392.7,427.7 392.7,427.7 392.7,439.9 392.7,439.9 392.7,448.2 392.7,448.2 392.7,467.6 392.6,467.6 392.6,481.7 392.6,481.7 392.6,489.5 392.6,489.5 392.6,499.8 390.2,499.8 390.2,510.4 390.2,510.4 390.2,518.3 393.8,518.3 393.8,528.2 393.2,528.2 393.2,542.9 393.2,542.9 393.2,559.2 394.8,559.2 394.8,575.7 390.3,575.7 390.3,589.4 390.3,589.4 390.3,600.4 392,600.4 392,609.6 392,609.6 392,627.8 393,627.8 393,644.7 394.5,644.7 394.5,663.9 392.1,650 M425.6,120 425.6,134.1 428.3,134.1 428.3,151.3 424.1,151.3 424.1,163 428.5,163 428.5,180.5 428.5,180.5 428.5,198.2 428.5,198.2 428.5,206.4 428.5,206.4 428.5,225.9 428.5,225.9 428.5,236.5 426.4,236.5 426.4,248.5 426.4,248.5 426.4,256.9 425.7,256.9 425.7,264.7 428.4,264.7 428.4,281.9 428.4,281.9 428.4,297.3 428.4,297.3 428.4,315.8 428.4,315.8 428.4,323.8 428.4,323.8 428.4,334.6 428.4,334.6 428.4,345.5 428.4,345.5 428.4,364.6 428.4,364.6 428.4,375.2 428.4,375.2 428.4,388.1 428.4,388.1 428.4,399.2 426.5,399.2 426.5,408.2 426.5,408.2 426.5,427.7 426.5,427.7 426.5,438.5 425.8,438.5 425.8,447.9 423.4,447.9 423.4,459 424.4,459 424.4,469.6 425.9,469.6 425.9,487.6 425.9,487.6 425.9,502.2 425.9,502.2 425.9,512.2 425.9,512.2 425.9,525.5 425.9,525.5 425.9,540.6 424.5,540.6 424.5,551.2 425.7,551.2 425.7,563.5 425.7,563.5 425.7,571.1 427.8,571.1 427.8,581.6 427.8,581.6 427.8,595.2 428.6,595.2 428.6,606.4 428.6,606.4 428.6,615.9 427.9,615.9 427.9,628.9 425,628.9 425,641.9 425,641.9 425,650.8 428.4,650 M457.8,120 457.8,129.4 456.9,129.4 456.9,145.4 456.9,145.4 456.9,163.5 456.9,163.5 456.9,177.5 456.9,177.5 456.9,194.3 456.9,194.3 456.9,207.7 456.9,207.7 456.9,224.1 456.9,224.1 456.9,233.1 456.9,233.1 456.9,240.7 456.9,240.7 456.9,255.5 460.6,255.5 460.6,270.2 459.5,270.2 459.5,288.6 459.5,288.6 459.5,300.8 457.5,300.8 457.5,317.4 457.1,317.4 457.1,331.8 456.7,331.8 456.7,349.1 456.7,349.1 456.7,362.9 455.9,362.9 455.9,374.2 458.2,374.2 458.2,389 460.3,389 460.3,400.5 460.3,400.5 460.3,418.5 460.3,418.5 460.3,428.5 460.2,428.5 460.2,436.2 458.2,436.2 458.2,449.9 458.2,449.9 458.2,467.1 458.2,467.1 458.2,487 458.2,487 458.2,501 458.2,501 458.2,513.4 458.3,513.4 458.3,525.3 458.3,525.3 458.3,541.2 458.3,541.2 458.3,550 457.2,550 457.2,564.5 457.2,564.5 457.2,583 457.2,583 457.2,596.6 458.5,596.6 458.5,616.5 458,616.5 458,634.2 456.7,634.2 456.7,653.9 456.7,650 M487.9,120 487.9,128.9 487.9,128.9 487.9,145 487.9,145 487.9,164.9 487.9,164.9 487.9,177.6 486.6,177.6 486.6,191.5 486.6,191.5 486.6,201.4 488.7,201.4 488.7,216.4 490.9,216.4 490.9,231.9 487.4,231.9 487.4,249.2 489,249.2 489,256.8 489.9,256.8 489.9,271.6 489.9,271.6 489.9,281.6 488.2,281.6 488.2,292.4 488.2,292.4 488.2,306.5 488.2,306.5 488.2,321.2 485.6,321.2 485.6,330.7 485.6,330.7 485.6,339.5 485.9,339.5 485.9,353.5 485.9,353.5 485.9,368.7 485.9,368.7 485.9,377 489.5,377 489.5,388.5 489.5,388.5 489.5,400.4 486.5,400.4 486.5,409.2 486.5,409.2 486.5,424 487.6,424 487.6,436.3 490.2,436.3 490.2,451.1 490.2,451.1 490.2,464.1 490.2,464.1 490.2,474.7 490.5,474.7 490.5,492.9 490.3,492.9 490.3,510.6 488.5,510.6 488.5,530.1 490.6,530.1 490.6,540.6 489.2,540.6 489.2,550.9 490.1,550.9 490.1,564.4 490.1,564.4 490.1,575 487,575 487,584.8 487,584.8 487,595.9 487,595.9 487,604.9 487,604.9 487,617.2 485.3,617.2 485.3,626.2 485.3,626.2 485.3,638.1 486,638.1 486,649.2 485.1,649.2 485.1,665 485.8,650 M519.7,120 519.7,128.7 521.8,128.7 521.8,137.8 521.8,137.8 521.8,155.3 518.9,155.3 518.9,171.8 522.5,171.8 522.5,181.9 522.5,181.9 522.5,195.8 519.5,195.8 519.5,204.9 519.5,204.9 519.5,215.7 519.5,215.7 519.5,230.5 518.2,230.5 518.2,245.6 522,245.6 522,254.6 522,254.6 522,268.9 521.4,268.9 521.4,281.2 521.4,281.2 521.4,295.8 519.1,295.8 519.1,304.4 521.8,304.4 521.8,315.9 521.8,315.9 521.8,324.8 521.8,324.8 521.8,336.8 521.8,336.8 521.8,348 518.6,348 518.6,358.3 521,358.3 521,369.4 522.2,369.4 522.2,386.6 522.2,386.6 522.2,404.8 518.4,404.8 518.4,412.7 518.4,412.7 518.4,428.5 519.2,428.5 519.2,444.2 519.2,444.2 519.2,454.8 519.2,454.8 519.2,466.7 519.2,466.7 519.2,476.5 522.2,476.5 522.2,493.2 522.2,493.2 522.2,501.2 517.7,501.2 517.7,511.2 519,511.2 519,519.1 520.6,519.1 520.6,528.9 520.6,528.9 520.6,543.5 520.6,543.5 520.6,554.2 520.8,554.2 520.8,566.1 521.7,566.1 521.7,583.3 517,583.3 517,601.5 517,601.5 517,609.5 517.4,609.5 517.4,626.9 522.2,626.9 522.2,643.8 520.9,643.8 520.9,656.2 520.9,650 M552.7,120 552.7,131 555.4,131 555.4,143.8 555.4,143.8 555.4,160 555.4,160 555.4,177.8 555.4,177.8 555.4,191 553.9,191 553.9,203.8 553.9,203.8 553.9,223 554.3,223 554.3,231 554.3,231 554.3,248.6 553,248.6 553,268.2 553,268.2 553,282.5 550.1,282.5 550.1,294.5 550.9,294.5 550.9,305.8 553.9,305.8 553.9,321.7 551.2,321.7 551.2,335.7 555.3,335.7 555.3,347.6 555,347.6 555,356.8 555,356.8 555,368.5 555,368.5 555,382.9 555,382.9 555,392.5 555,392.5 555,407.4 554.3,407.4 554.3,425.3 551.4,425.3 551.4,437.3 550.1,437.3 550.1,448.4 553.9,448.4 553.9,461.5 551.6,461.5 551.6,474.8 550.7,474.8 550.7,483.2 555.7,483.2 555.7,500.1 554,500.1 554,519.8 554,519.8 554,528.7 552.3,528.7 552.3,538.6 552.3,538.6 552.3,546.2 552.3,546.2 552.3,561.7 552.3,561.7 552.3,580.9 552.3,580.9 552.3,591.6 550.5,591.6 550.5,599.4 550.5,599.4 550.5,617.4 550.8,617.4 550.8,632.9 550.8,632.9 550.8,652 554.4,650 M565,116.3 577,116.3 577,118.3 589,118.3 589,116.6 601.6,116.6 601.6,116.6 612.5,116.6 612.5,116.7 628.5,116.7 628.5,116.7 645.5,116.7 645.5,116.7 665.5,116.7 665.5,116.3 675.4,116.3 675.4,116.8 684.2,116.8 684.2,116.8 694.2,116.8 694.2,119.1 703.1,119.1 703.1,116 713.4,116 713.4,116 721.2,116 721.2,116 740.2,116 740.2,116 753.5,116 753.5,117.3 768,117.3 768,115.4 781.5,115.4 781.5,115.4 800,115.4 800,115.4 810,115.4 810,116 825.1,116 825.1,114.5 834,114.5 834,116.1 854.4,116.1 854.4,116.1 873.5,116.1 873.5,116.1 893.8,116.1 893.8,116.1 912.1,116.1 912.1,117.4 927.8,117.4 927.8,116.8 948,116.8 940,117.2 M565,137 577.3,137 577.3,137 585.4,137 585.4,138.1 599,138.1 599,138 611.7,138 611.7,138 624.9,138 624.9,138 640,138 640,134.7 650.2,134.7 650.2,134.7 665.1,134.7 665.1,139.2 676.2,139.2 676.2,137.2 687.3,137.2 687.3,137.3 698,137.3 698,137.3 707.3,137.3 707.3,137.3 722.7,137.3 722.7,136.5 731.5,136.5 731.5,139.2 746.4,139.2 746.4,139.2 764.1,139.2 764.1,140 781.3,140 781.3,139 794.2,139 794.2,139.8 809.3,139.8 809.3,139.8 818.9,139.8 818.9,139.8 827.4,139.8 827.4,136.2 835.4,136.2 835.4,136.2 846,136.2 846,138.3 859.3,138.3 859.3,138.3 875.2,138.3 875.2,138.3 890.3,138.3 890.3,138.3 909.4,138.3 909.4,138.5 921.7,138.5 921.7,138.5 938.3,138.5 938.3,138.5 947.7,138.5 940,138.4 M565,162 582.2,162 582.2,162.6 591.3,162.6 591.3,162.6 609.5,162.6 609.5,164.5 626.1,164.5 626.1,160.1 639.7,160.1 639.7,160.1 655.1,160.1 655.1,159.1 664.3,159.1 664.3,159.1 674.5,159.1 674.5,159.1 686.1,159.1 686.1,159.1 698.8,159.1 698.8,164.2 713.6,164.2 713.6,164.2 731.9,164.2 731.9,164.2 739.9,164.2 739.9,159.9 754.2,159.9 754.2,159.9 772.4,159.9 772.4,160.1 790.9,160.1 790.9,160.1 803.8,160.1 803.8,159.9 822.6,159.9 822.6,164.2 838.3,164.2 838.3,160.9 848.9,160.9 848.9,160.9 864.4,160.9 864.4,160 876.9,160 876.9,162.4 889.7,162.4 889.7,159 905,159 905,159.1 918.8,159.1 918.8,159.1 927.2,159.1 927.2,163 938.6,163 938.6,162 949.8,162 940,162 M565,184.1 585.2,184.1 585.2,184.1 593.5,184.1 593.5,184.1 611.3,184.1 611.3,184.1 629.2,184.1 629.2,184.1 645.2,184.1 645.2,182.8 663.4,182.8 663.4,182.8 683.4,182.8 683.4,182.8 695.1,182.8 695.1,182.8 712.5,182.8 712.5,182.8 728.6,182.8 728.6,184.5 741.7,184.5 741.7,183.2 753.7,183.2 753.7,183.2 767.7,183.2 767.7,182.6 778.6,182.6 778.6,182 786.5,182 786.5,182 800.2,182 800.2,184.6 811.9,184.6 811.9,181.5 823.6,181.5 823.6,185.5 838.6,185.5 838.6,185.5 850.8,185.5 850.8,185.5 866.2,185.5 866.2,182.2 881.5,182.2 881.5,182.2 894,182.2 894,182.2 907.3,182.2 907.3,182.2 916,182.2 916,186.5 927.4,186.5 927.4,181.3 937.3,181.3 937.3,185.4 948,185.4 940,182.4 M565,206.8 584,206.8 584,206.8 594.4,206.8 594.4,206.8 614.7,206.8 614.7,206.8 623.5,206.8 623.5,206.8 642.7,206.8 642.7,204.6 653,204.6 653,204.6 672.2,204.6 672.2,204.6 691.9,204.6 691.9,205.8 709.5,205.8 709.5,205.8 722.6,205.8 722.6,205.8 734.7,205.8 734.7,206.3 743.1,206.3 743.1,206.3 755.3,206.3 755.3,207.4 766.4,207.4 766.4,203.9 786.3,203.9 786.3,203.9 806.9,203.9 806.9,207.5 824.1,207.5 824.1,204.4 833.9,204.4 833.9,208.4 842.9,208.4 842.9,208.4 856.2,208.4 856.2,208.4 871.7,208.4 871.7,208.4 888,208.4 888,208.4 900.1,208.4 900.1,208.4 911.3,208.4 911.3,208.4 929,208.4 929,208.4 940.8,208.4 940,208.4 M565,232 578.7,232 578.7,232.1 598.7,232.1 598.7,229 612.7,229 612.7,229 630.6,229 630.6,234.9 641.3,234.9 641.3,234.9 650.3,234.9 650.3,229.8 658.9,229.8 658.9,229.8 673.9,229.8 673.9,234.6 686.5,234.6 686.5,230 703.9,230 703.9,230 713.8,230 713.8,233.6 724.7,233.6 724.7,233.6 739,233.6 739,233.6 751.3,233.6 751.3,233.6 765.1,233.6 765.1,234.4 774.3,234.4 774.3,234.4 782.9,234.4 782.9,234.4 795.9,234.4 795.9,234.4 804.5,234.4 804.5,234.4 817.6,234.4 817.6,234.4 837.7,234.4 837.7,234.4 848.4,234.4 848.4,230.6 861.9,230.6 861.9,230.2 879.5,230.2 879.5,230.2 891.2,230.2 891.2,230.2 901.8,230.2 901.8,230.2 911.7,230.2 911.7,230.2 930.8,230.2 930.8,233.5 949.3,233.5 940,231 M565,253.9 584.4,253.9 584.4,255 600,255 600,254.4 619.2,254.4 619.2,256.2 631.7,256.2 631.7,256.2 650.7,256.2 650.7,256.1 671.5,256.1 671.5,251 680.7,251 680.7,251 688.6,251 688.6,251 698.4,251 698.4,251 707.5,251 707.5,255 716.4,255 716.4,256.4 733.6,256.4 733.6,256.4 754.1,256.4 754.1,252.3 772.2,252.3 772.2,252.3 780.5,252.3 780.5,252.3 791.3,252.3 791.3,251.5 799.4,251.5 799.4,251.5 811.3,251.5 811.3,251.5 820.6,251.5 820.6,251.7 834,251.7 834,255 843.7,255 843.7,255 858,255 858,253 872.3,253 872.3,253 884.6,253 884.6,256.7 903.9,256.7 903.9,256.7 915.3,256.7 915.3,252.5 924,252.5 924,253.9 937.1,253.9 937.1,253.9 949.6,253.9 940,255 M565,276.9 579.9,276.9 579.9,276.9 596.6,276.9 596.6,276.9 615.8,276.9 615.8,276.9 628.8,276.9 628.8,276.4 649.2,276.4 649.2,276.2 662.4,276.2 662.4,279.9 670.2,279.9 670.2,279.9 690.1,279.9 690.1,277.6 702.8,277.6 702.8,275.1 712.1,275.1 712.1,275.1 730.1,275.1 730.1,275.1 738.5,275.1 738.5,275.1 750.5,275.1 750.5,275.1 765.5,275.1 765.5,279.7 773.3,279.7 773.3,279.7 792.2,279.7 792.2,279.7 807.7,279.7 807.7,279.7 818.5,279.7 818.5,279.7 836,279.7 836,278.2 848.9,278.2 848.9,278.2 864.7,278.2 864.7,278.2 876.7,278.2 876.7,278.2 891.5,278.2 891.5,277.6 902.8,277.6 902.8,277.6 916.7,277.6 916.7,277.6 931.3,277.6 931.3,275.2 941,275.2 940,275.2 M565,299.1 579.6,299.1 579.6,299.1 598,299.1 598,297.1 616.5,297.1 616.5,299.9 635,299.9 635,299.9 654.1,299.9 654.1,298.4 672.7,298.4 672.7,298.4 682.1,298.4 682.1,297.6 691.3,297.6 691.3,300.9 705.8,300.9 705.8,296.6 718.8,296.6 718.8,296.6 735.6,296.6 735.6,299 753.8,299 753.8,299 763.5,299 763.5,299 776.1,299 776.1,299 787,299 787,298.1 799.8,298.1 799.8,297.3 815,297.3 815,297.2 832.1,297.2 832.1,298 843.1,298 843.1,298 852,298 852,298 871,298 871,298.6 889.1,298.6 889.1,298.6 901.7,298.6 901.7,298.7 914.3,298.7 914.3,298.7 925.9,298.7 925.9,300 944.3,300 940,298.4 M565,321.6 584.8,321.6 584.8,324.4 601.9,324.4 601.9,322.6 614,322.6 614,323.1 626.7,323.1 626.7,323.1 640.9,323.1 640.9,323.1 658.6,323.1 658.6,322.2 672.4,322.2 672.4,323.6 685.6,323.6 685.6,323.9 699.1,323.9 699.1,321.7 717.6,321.7 717.6,321.7 735.1,321.7 735.1,318.8 751.7,318.8 751.7,318.8 769.5,318.8 769.5,318.8 778.8,318.8 778.8,319.1 797.3,319.1 797.3,319.1 814.9,319.1 814.9,319.1 823.4,319.1 823.4,319.1 840.4,319.1 840.4,318.9 857.2,318.9 857.2,322.1 878,322.1 878,322.1 897.1,322.1 897.1,320.6 911.6,320.6 911.6,324.5 923,324.5 923,320.5 934.1,320.5 934.1,320.5 949.2,320.5 940,320.5 M565,343.1 573.5,343.1 573.5,345.3 591.7,345.3 591.7,345.3 602.8,345.3 602.8,340.4 617.6,340.4 617.6,342.9 631.8,342.9 631.8,342.9 644.3,342.9 644.3,342.9 654.7,342.9 654.7,342.9 669.8,342.9 669.8,342 684.5,342 684.5,343.5 696.5,343.5 696.5,344.9 708.1,344.9 708.1,344.9 726.3,344.9 726.3,344.9 740,344.9 740,344.9 753.6,344.9 753.6,344.9 762.2,344.9 762.2,343.9 770.6,343.9 770.6,343.9 779.3,343.9 779.3,343.9 789.5,343.9 789.5,343.9 804.6,343.9 804.6,343.9 818.8,343.9 818.8,343.9 835.4,343.9 835.4,341.3 854.1,341.3 854.1,345.6 864.6,345.6 864.6,340.6 882.6,340.6 882.6,340.6 895.8,340.6 895.8,340.6 906.9,340.6 906.9,340.6 923.7,340.6 923.7,340.4 940.5,340.4 940,345.1 M565,363.7 575.8,363.7 575.8,363.7 587.8,363.7 587.8,363.7 597.6,363.7 597.6,363.7 609.6,363.7 609.6,363.7 619.4,363.7 619.4,363.7 639.9,363.7 639.9,360.9 652.6,360.9 652.6,360.9 663.3,360.9 663.3,360.9 672.4,360.9 672.4,365.1 685.8,365.1 685.8,365.1 695,365.1 695,365.1 704.4,365.1 704.4,365.1 725.2,365.1 725.2,365.1 739.8,365.1 739.8,362.8 757.4,362.8 757.4,366.3 766.4,366.3 766.4,365.9 782,365.9 782,365.9 790.9,365.9 790.9,362.3 810.3,362.3 810.3,362.3 821.1,362.3 821.1,362.3 829.3,362.3 829.3,362.3 849.7,362.3 849.7,366.4 866,366.4 866,362.7 879.6,362.7 879.6,365.2 889.8,365.2 889.8,365.2 901.4,365.2 901.4,364.1 910.5,364.1 910.5,364.1 928.5,364.1 928.5,364.1 942.3,364.1 940,363.8 M565,383.1 581.2,383.1 581.2,383.5 593.6,383.5 593.6,384 603.5,384 603.5,385.7 615.6,385.7 615.6,385.7 634.8,385.7 634.8,381 643.8,381 643.8,381 653.1,381 653.1,383.3 662.5,383.3 662.5,381 677.2,381 677.2,381 689.8,381 689.8,382.5 700.2,382.5 700.2,381.5 719.4,381.5 719.4,381.5 738.7,381.5 738.7,385.7 752.9,385.7 752.9,385.7 768.1,385.7 768.1,385.7 778.9,385.7 778.9,385.7 788.7,385.7 788.7,380.2 801.6,380.2 801.6,380.2 813.2,380.2 813.2,380.2 822.1,380.2 822.1,380.2 832.9,380.2 832.9,380.2 850.9,380.2 850.9,380.2 859.5,380.2 859.5,383.7 880.1,383.7 880.1,383.8 896.9,383.8 896.9,383.8 909.2,383.8 909.2,383.8 923,383.8 923,383.8 930.9,383.8 930.9,383.8 944.1,383.8 940,380.6 M565,403.4 582.3,403.4 582.3,403.4 592.1,403.4 592.1,401.2 602.5,401.2 602.5,402.4 623,402.4 623,402.4 641.1,402.4 641.1,403.4 659,403.4 659,403.4 676.6,403.4 676.6,403.4 686.9,403.4 686.9,403.4 705.7,403.4 705.7,403.4 714.7,403.4 714.7,403.4 727.1,403.4 727.1,406.2 743.6,406.2 743.6,406.2 753.2,406.2 753.2,406.2 773.2,406.2 773.2,406.2 790.6,406.2 790.6,406.2 808.9,406.2 808.9,406.2 822.3,406.2 822.3,406.2 840.3,406.2 840.3,406.2 852,406.2 852,406.2 866.7,406.2 866.7,406.2 876,406.2 876,406.2 894.1,406.2 894.1,405.4 904.9,405.4 904.9,403.1 915.8,403.1 915.8,405.8 932.5,405.8 932.5,405.8 945.4,405.8 940,405.8 M565,427.3 581.7,427.3 581.7,427.3 600.2,427.3 600.2,424.8 616.5,424.8 616.5,424.8 628.7,424.8 628.7,424.8 647.4,424.8 647.4,424.8 655.2,424.8 655.2,424.4 664.5,424.4 664.5,424.4 677.7,424.4 677.7,424.4 691.5,424.4 691.5,425.6 703.9,425.6 703.9,425.6 719.7,425.6 719.7,424.8 731,424.8 731,424.8 744.6,424.8 744.6,424.8 762.9,424.8 762.9,428.4 771.2,428.4 771.2,428.4 781.4,428.4 781.4,430.1 793.9,430.1 793.9,429.6 809.7,429.6 809.7,429.6 822.6,429.6 822.6,430 837,430 837,430 847.2,430 847.2,430 857.1,430 857.1,430 864.9,430 864.9,430 878.7,430 878.7,430 889.7,430 889.7,424.9 904.7,424.9 904.7,424.9 919.2,424.9 919.2,429.9 938.6,429.9 938.6,429.9 947.4,429.9 940,429.9 M565,448.9 585.3,448.9 585.3,449.9 601.3,449.9 601.3,449.1 617.9,449.1 617.9,449.1 632.1,449.1 632.1,451.8 640.7,451.8 640.7,451.8 657.4,451.8 657.4,451.8 671,451.8 671,451.8 690.4,451.8 690.4,451.8 707.9,451.8 707.9,447.9 717.5,447.9 717.5,447.9 736.9,447.9 736.9,449.5 752.2,449.5 752.2,448.3 769.7,448.3 769.7,448.3 781.2,448.3 781.2,448.3 792.7,448.3 792.7,448.3 806,448.3 806,448.3 822.2,448.3 822.2,448.3 838.8,448.3 838.8,451.7 855.9,451.7 855.9,451.7 867.3,451.7 867.3,449.4 885.8,449.4 885.8,449.4 898.1,449.4 898.1,449 917.3,449 917.3,450.4 927.3,450.4 927.3,446.3 939,446.3 939,451.7 959.3,451.7 940,447.8 M565,473.9 575.4,473.9 575.4,473.5 584.6,473.5 584.6,473.2 597.4,473.2 597.4,473.2 608.7,473.2 608.7,476.3 622.3,476.3 622.3,476.3 638.4,476.3 638.4,476.3 650.3,476.3 650.3,475.4 664.2,475.4 664.2,475.4 680.7,475.4 680.7,475.4 692.1,475.4 692.1,476.4 706.8,476.4 706.8,474.7 718,474.7 718,474.7 726.3,474.7 726.3,474.7 741.5,474.7 741.5,476.5 752.7,476.5 752.7,471.3 767.6,471.3 767.6,471.3 784.3,471.3 784.3,475.7 793.5,475.7 793.5,474.7 813.9,474.7 813.9,474.7 830.7,474.7 830.7,474.7 843.6,474.7 843.6,474.7 861,474.7 861,473.2 879.3,473.2 879.3,472 898.5,472 898.5,472 913,472 913,472 932.5,472 932.5,472.9 941.2,472.9 940,473.9 M565,498.2 581.5,498.2 581.5,498.2 594.5,498.2 594.5,498.2 605.9,498.2 605.9,498.2 623.9,498.2 623.9,498.2 633.7,498.2 633.7,498.2 651.3,498.2 651.3,498.2 670.8,498.2 670.8,498.2 688.2,498.2 688.2,498.2 704.5,498.2 704.5,498.2 714,498.2 714,498.2 730.9,498.2 730.9,498.2 742.3,498.2 742.3,498.8 760.8,498.8 760.8,496.5 771.5,496.5 771.5,499.2 792,499.2 792,499.2 804.5,499.2 804.5,499.2 813.2,499.2 813.2,499.2 825.3,499.2 825.3,499 834.9,499 834.9,495.5 848.4,495.5 848.4,495.5 866.7,495.5 866.7,500.2 876,500.2 876,499 888.2,499 888.2,498.6 898.8,498.6 898.8,498.6 909.4,498.6 909.4,498.6 927.7,498.6 927.7,498.6 935.9,498.6 935.9,498.6 944,498.6 940,498.6 M565,519.7 573.6,519.7 573.6,519.7 590.8,519.7 590.8,519.7 603.8,519.7 603.8,519.7 619.3,519.7 619.3,521.9 640,521.9 640,521.9 660.3,521.9 660.3,522.6 669.1,522.6 669.1,517.5 682.8,517.5 682.8,517.5 699.8,517.5 699.8,518.7 710,518.7 710,518.4 720.4,518.4 720.4,518.4 734.9,518.4 734.9,517.9 751.8,517.9 751.8,518.3 766.9,518.3 766.9,518.3 787.4,518.3 787.4,518.3 807.5,518.3 807.5,518.3 824.7,518.3 824.7,518.3 833.3,518.3 833.3,516.8 852.3,516.8 852.3,516.8 868.3,516.8 868.3,518.8 878.2,518.8 878.2,518.8 898.9,518.8 898.9,517 909,517 909,522.1 927.3,522.1 927.3,517.3 936.5,517.3 936.5,521.4 950.4,521.4 940,521.4 M565,544.4 583.1,544.4 583.1,546.3 592.6,546.3 592.6,544.8 607,544.8 607,542.9 615.1,542.9 615.1,542.9 632.1,542.9 632.1,542.9 652.7,542.9 652.7,545.8 665.5,545.8 665.5,545.8 684.2,545.8 684.2,541.5 694.8,541.5 694.8,541.5 707.5,541.5 707.5,546.4 725.5,546.4 725.5,541.7 M565,568.5 581,568.5 581,568.5 589.3,568.5 589.3,571.4 607.6,571.4 607.6,565.8 618.5,565.8 618.5,565.8 629.2,565.8 629.2,565.8 649,565.8 649,565.8 668.8,565.8 668.8,566.5 676.8,566.5 676.8,566.5 686,566.5 686,566.5 703,566.5 703,570.4 712.9,570.4 712.9,570.4 722.1,570.4 722.1,570.4 M565,593.7 582.8,593.7 582.8,591.2 592.1,591.2 592.1,591.2 607.7,591.2 607.7,591.2 621.4,591.2 621.4,594.4 637.6,594.4 637.6,594.4 654.9,594.4 654.9,594.4 674.6,594.4 674.6,594.4 691.7,594.4 691.7,594.8 710.6,594.8 710.6,596 720.7,596 720.7,596 734.2,596 734.2,596 M565,618.8 574.9,618.8 574.9,618.8 591.1,618.8 591.1,618.8 611.1,618.8 611.1,621.3 627.9,621.3 627.9,621.3 636.9,621.3 636.9,617.5 656.5,617.5 656.5,617.3 673.6,617.3 673.6,617.3 683.7,617.3 683.7,619.9 700.4,619.9 700.4,619.9 718,619.9 718,617.3 726.2,617.3 726.2,617.3 M565,643.4 574.9,643.4 574.9,643.4 590.3,643.4 590.3,643.4 600.4,643.4 600.4,641 621,641 621,644.4 636.2,644.4 636.2,640.8 644.2,640.8 644.2,640.8 653.7,640.8 653.7,640.8 666.2,640.8 666.2,640.8 675.8,640.8 675.8,640.8 686.9,640.8 686.9,643.6 696.1,643.6 696.1,645.2 707.7,645.2 707.7,645 718.4,645 718.4,641.8 731.2,641.8 731.2,644.3 M589,100 589,111.7 589,111.7 589,119.1 587.9,119.1 587.9,127.9 587.9,127.9 587.9,138.5 591.9,138.5 591.9,150.4 586.1,150.4 586.1,164.2 586.1,164.2 586.1,171.1 590.5,171.1 590.5,183.6 589,183.6 589,196.8 589,196.8 589,205 589,205 589,222 589,222 589,238.1 591.4,238.1 591.4,246.7 589.6,246.7 589.6,263.2 587.3,263.2 587.3,270.2 586.9,270.2 586.9,278.9 586.9,278.9 586.9,291.9 586.9,291.9 586.9,302.9 586.9,302.9 586.9,309.7 586.9,309.7 586.9,318.8 589.1,318.8 589.1,335.9 592,335.9 592,349.3 591,349.3 591,358.1 591,358.1 591,369.7 591.8,369.7 591.8,379.9 588.1,379.9 588.1,393.8 588.3,393.8 588.3,402.2 588.3,402.2 588.3,408.8 588.3,408.8 588.3,418.2 589.4,418.2 589.4,432.7 587.5,432.7 587.5,440.6 587.5,440.6 587.5,448.8 589.2,448.8 589.2,461.8 589.2,461.8 589.2,469.1 587,469.1 587,482.1 588.5,482.1 588.5,498.5 588.5,498.5 588.5,514.5 588.5,514.5 588.5,524.1 588.5,524.1 588.5,535.2 591.5,535.2 591.5,542.9 587.8,542.9 587.8,552.7 587.8,552.7 587.8,568.9 589.2,568.9 589.2,584.8 589.2,584.8 589.2,598.6 589.2,598.6 589.2,606.5 590,606.5 590,619.5 590,619.5 590,636 590,636 590,644.7 591.4,644.7 591.4,657.6 590.2,650 M613.1,100 613.1,109.2 613.3,109.2 613.3,123.3 614.6,123.3 614.6,136.7 614.2,136.7 614.2,152.1 613,152.1 613,166.2 613,166.2 613,179.9 615.9,179.9 615.9,195.1 612.7,195.1 612.7,212.3 612.6,212.3 612.6,229.5 612.6,229.5 612.6,238.6 612.6,238.6 612.6,249.2 612.6,249.2 612.6,264.2 611.5,264.2 611.5,273.2 610.3,273.2 610.3,281.3 612.6,281.3 612.6,288.7 612.6,288.7 612.6,305.7 612.6,305.7 612.6,316.2 612.6,316.2 612.6,327.6 613,327.6 613,334.4 613,334.4 613,342.8 615.9,342.8 615.9,357.8 615.9,357.8 615.9,371.5 615.9,371.5 615.9,385.8 615.9,385.8 615.9,394.6 615.9,394.6 615.9,404.5 615.1,404.5 615.1,417.7 615.1,417.7 615.1,433.9 615.1,433.9 615.1,442.7 613.3,442.7 613.3,457.3 610.5,457.3 610.5,463.9 614.3,463.9 614.3,470.6 611.7,470.6 611.7,485 611.7,485 611.7,491.8 615.7,491.8 615.7,509.1 612.1,509.1 612.1,521.4 612.6,521.4 612.6,533.3 610.5,533.3 610.5,540.8 610.7,540.8 610.7,554.3 610.7,554.3 610.7,563.8 610.7,563.8 610.7,578.4 613.1,578.4 613.1,587.1 613.1,587.1 613.1,599.8 611,599.8 611,614.1 614.4,614.1 614.4,623.2 614.4,623.2 614.4,638.6 613.6,638.6 613.6,647.3 613.6,647.3 613.6,662.8 613.6,650 M637,100 637,107.6 637,107.6 637,120.4 635.2,120.4 635.2,133.4 637.8,133.4 637.8,142.7 636.6,142.7 636.6,155.2 636.6,155.2 636.6,162.1 636.6,162.1 636.6,171.1 637.9,171.1 637.9,185.3 637.9,185.3 637.9,201.9 635.9,201.9 635.9,215.7 635,215.7 635,224.8 635,224.8 635,240.5 635,240.5 635,257.7 635,257.7 635,267.7 638.4,267.7 638.4,274.9 638.4,274.9 638.4,282.5 637.1,282.5 637.1,290.7 637.1,290.7 637.1,307 635.2,307 635.2,314.9 635.2,314.9 635.2,327.2 638.3,327.2 638.3,339.7 638.3,339.7 638.3,347.4 636.3,347.4 636.3,359.3 638,359.3 638,368.4 636.9,368.4 636.9,382.8 636.9,382.8 636.9,393.5 639.6,393.5 639.6,410.4 639.6,410.4 639.6,418.1 637.8,418.1 637.8,427.8 639.9,427.8 639.9,444.4 636.8,444.4 636.8,457.8 634.4,457.8 634.4,472.7 634.4,472.7 634.4,484.1 636.4,484.1 636.4,491.7 636.4,491.7 636.4,498.9 638.6,498.9 638.6,507 634.4,507 634.4,515.4 634.4,515.4 634.4,531.1 635.1,531.1 635.1,546.2 636.1,546.2 636.1,554.1 639.9,554.1 639.9,562 638.5,562 638.5,578.4 638.5,578.4 638.5,590.2 638.5,590.2 638.5,603.5 636.8,603.5 636.8,617.9 636.8,617.9 636.8,626 639.8,626 639.8,633.7 639.8,633.7 639.8,644.1 635.6,644.1 635.6,655.8 635.6,650 M660.3,100 660.3,116 658.3,116 658.3,130.8 658.4,130.8 658.4,142 658.4,142 658.4,158.1 658.4,158.1 658.4,164.8 658.4,164.8 658.4,178.1 658.4,178.1 658.4,195.1 662.4,195.1 662.4,210.8 659.5,210.8 659.5,221.5 659.6,221.5 659.6,229.3 662.7,229.3 662.7,240.4 662.7,240.4 662.7,256.8 662.7,256.8 662.7,266.1 662.7,266.1 662.7,281.5 662.7,281.5 662.7,296.1 662.7,296.1 662.7,311.7 661.2,311.7 661.2,322.4 661.2,322.4 661.2,330.5 661.2,330.5 661.2,340.8 661.2,340.8 661.2,351.2 661.2,351.2 661.2,367.1 661.2,367.1 661.2,375.3 661.2,375.3 661.2,390 661.2,390 661.2,403.8 662.5,403.8 662.5,416.5 659.3,416.5 659.3,431.7 659.3,431.7 659.3,447.8 659.3,447.8 659.3,457.2 659.2,457.2 659.2,464.1 659.2,464.1 659.2,473.2 657.7,473.2 657.7,487.9 660.1,487.9 660.1,498.9 660.1,498.9 660.1,516 661.1,516 661.1,532.5 662.7,532.5 662.7,547.1 662.5,547.1 662.5,560 660.8,560 660.8,575.8 660.8,575.8 660.8,587.7 662.6,587.7 662.6,601.6 659.5,601.6 659.5,612.2 659.5,612.2 659.5,626.5 662.8,626.5 662.8,633.4 662.8,633.4 662.8,644.8 662.8,644.8 662.8,656.1 660.4,650 M688.8,100 688.8,115.3 687.1,115.3 687.1,130.1 687.1,130.1 687.1,139.1 687.1,139.1 687.1,156.6 688.1,156.6 688.1,171 688.1,171 688.1,179.8 687.8,179.8 687.8,194.5 689.1,194.5 689.1,206.6 689.1,206.6 689.1,214.8 689.1,214.8 689.1,232.4 689.1,232.4 689.1,247.7 691.2,247.7 691.2,260.4 691.2,260.4 691.2,276.5 691.3,276.5 691.3,285.4 688.8,285.4 688.8,301.9 688.8,301.9 688.8,319 688.8,319 688.8,335.9 688.8,335.9 688.8,344 688.8,344 688.8,359.5 689.4,359.5 689.4,368.9 688.3,368.9 688.3,381.2 686.3,381.2 686.3,387.8 690.1,387.8 690.1,402.7 687.3,402.7 687.3,414.9 689.4,414.9 689.4,431.5 689.3,431.5 689.3,446 689.3,446 689.3,460.5 689.3,460.5 689.3,470 689.3,470 689.3,486.8 691.4,486.8 691.4,498.3 686.2,498.3 686.2,513.7 686.2,513.7 686.2,521.8 689.6,521.8 689.6,539.4 690.4,539.4 690.4,548.7 686.7,548.7 686.7,559.8 686.7,559.8 686.7,569.7 687.1,569.7 687.1,577.3 687.7,577.3 687.7,589.4 688.7,589.4 688.7,600.9 688.7,600.9 688.7,612.8 688.7,612.8 688.7,624.6 689.3,624.6 689.3,632.8 686.2,632.8 686.2,647.1 686.2,647.1 686.2,658.1 688.3,650 M713.6,100 713.6,114.2 711.5,114.2 711.5,130.3 711.5,130.3 711.5,137 711.5,137 711.5,151.6 714.4,151.6 714.4,168.3 713.2,168.3 713.2,178.2 713.2,178.2 713.2,192.1 713.2,192.1 713.2,209.1 712.8,209.1 712.8,225.1 712.8,225.1 712.8,238.2 712.8,238.2 712.8,248.5 712.8,248.5 712.8,261.2 711.7,261.2 711.7,269 711.7,269 711.7,284.4 712.6,284.4 712.6,296.3 712.8,296.3 712.8,312.8 713.8,312.8 713.8,329.6 713.8,329.6 713.8,341.4 713,341.4 713,354.7 713,354.7 713,364.2 713,364.2 713,374.8 713,374.8 713,387.3 712.6,387.3 712.6,403 714.8,403 714.8,409.8 711,409.8 711,425.3 712,425.3 712,432.5 715,432.5 715,447 715,447 715,464 715,464 715,480.8 716.2,480.8 716.2,492.1 715.1,492.1 715.1,508.2 711.2,508.2 711.2,524.4 711.2,524.4 711.2,537.6 711.2,537.6 711.2,544.6 711.4,544.6 711.4,551.4 711.4,551.4 711.4,564.9 711.6,564.9 711.6,573.5 711.6,573.5 711.6,587.5 711.6,587.5 711.6,598.1 711.6,598.1 711.6,609.5 712.1,609.5 712.1,618.6 712.1,618.6 712.1,636.2 712.1,636.2 712.1,644.7 711.5,644.7 711.5,655.2 711.5,650 M736.2,100 736.2,112.4 736.2,112.4 736.2,119.4 737.9,119.4 737.9,132.3 738.5,132.3 738.5,145.5 735.6,145.5 735.6,162.5 735.6,162.5 735.6,179.2 735.6,179.2 735.6,187.4 735.5,187.4 735.5,201.5 738,201.5 738,216.8 738,216.8 738,223.5 738,223.5 738,234.6 738,234.6 738,247.5 738,247.5 738,258.6 738,258.6 738,275.7 738,275.7 738,289.1 735.4,289.1 735.4,298.6 735.4,298.6 735.4,313.9 735.4,313.9 735.4,329.6 735.4,329.6 735.4,343.7 737.7,343.7 737.7,353.2 737.7,353.2 737.7,361.6 737.7,361.6 737.7,373.5 738.7,373.5 738.7,381 738.7,381 738.7,396 737.8,396 737.8,408.9 737.8,408.9 737.8,421.9 738.8,421.9 738.8,429.5 738.8,429.5 738.8,437.2 733.9,437.2 733.9,453.4 737.5,453.4 737.5,462.8 737.5,462.8 737.5,476.6 736.2,476.6 736.2,491.1 737.1,491.1 737.1,500.8 738.7,500.8 738.7,517.7 738.7,517.7 M733.7,632.6 733.7,648.6 733.7,648.6 733.7,655.6 M763.9,100 763.9,114.6 766.5,114.6 766.5,123.3 765.8,123.3 765.8,131.2 763.9,131.2 763.9,141.5 766.5,141.5 766.5,153.3 766.5,153.3 766.5,162.6 766.5,162.6 766.5,171.7 766.5,171.7 766.5,185 766.5,185 766.5,200.1 766.5,200.1 766.5,212.6 766.5,212.6 766.5,224 766.4,224 766.4,239.5 766.4,239.5 766.4,254.3 763.7,254.3 763.7,269.9 763.7,269.9 763.7,286.7 765,286.7 765,299.4 761.9,299.4 761.9,307.5 763.9,307.5 763.9,317.1 764.2,317.1 764.2,332 764.2,332 764.2,340.4 764.2,340.4 764.2,351.1 764.2,351.1 764.2,368.5 764.4,368.5 764.4,385.7 764.2,385.7 764.2,395.7 762.1,395.7 762.1,403.7 764.7,403.7 764.7,416.5 764.7,416.5 764.7,430.6 766.6,430.6 766.6,444.2 766.6,444.2 766.6,460.3 766.6,460.3 766.6,470.9 766.6,470.9 766.6,480.8 766.6,480.8 766.6,490.1 766.6,490.1 766.6,497.4 764.2,497.4 764.2,506.2 764.2,506.2 764.2,514.1 764.2,514.1 M786.5,100 786.5,115.7 786.5,115.7 786.5,123.6 786.5,123.6 786.5,133.1 785.7,133.1 785.7,147 785.7,147 785.7,164.5 785.7,164.5 785.7,178 785.7,178 785.7,186.4 785.7,186.4 785.7,199 788.9,199 788.9,208.4 784.5,208.4 784.5,216.7 784.5,216.7 784.5,232.1 786.5,232.1 786.5,245 786.5,245 786.5,256.1 786.5,256.1 786.5,262.9 786.1,262.9 786.1,272.1 786.1,272.1 786.1,281.4 786.1,281.4 786.1,290.6 786.4,290.6 786.4,301.5 788.1,301.5 788.1,310.5 788.1,310.5 788.1,326.3 786.5,326.3 786.5,343.1 786.5,343.1 786.5,351.7 784,351.7 784,361.9 787.4,361.9 787.4,373.2 786.6,373.2 786.6,390.1 784.4,390.1 784.4,400 789,400 789,414.4 784.5,414.4 784.5,421.5 788.6,421.5 788.6,435.2 787.3,435.2 787.3,442.5 787.3,442.5 787.3,452.8 788,452.8 788,467.3 788,467.3 788,475.7 788,475.7 788,487.1 788,487.1 788,494.7 788,494.7 788,501.3 785.9,501.3 785.9,510.1 787.6,510.1 787.6,527.6 785.1,527.6 M816.2,100 816.2,107.1 816.2,107.1 816.2,122.5 815.2,122.5 815.2,129.7 815.2,129.7 815.2,144.3 817.4,144.3 817.4,154.9 817.4,154.9 817.4,164.5 817.4,164.5 817.4,175.9 813.8,175.9 813.8,190.5 813.8,190.5 813.8,204.1 818.5,204.1 818.5,218.6 815.5,218.6 815.5,232.6 813.5,232.6 813.5,243.1 813.5,243.1 813.5,260.7 818.7,260.7 818.7,275.9 818.7,275.9 818.7,289 818.7,289 818.7,302.7 818.7,302.7 818.7,315.5 816.3,315.5 816.3,327.4 815.5,327.4 815.5,339.6 815.5,339.6 815.5,348.7 816.3,348.7 816.3,360.8 817.2,360.8 817.2,369.4 817.2,369.4 817.2,379.1 817.2,379.1 817.2,393.4 817.2,393.4 817.2,405.7 818.8,405.7 818.8,417.9 815,417.9 815,429 815,429 815,444.6 817.6,444.6 817.6,453.5 815.4,453.5 815.4,463.5 817.8,463.5 817.8,478.1 814.6,478.1 814.6,493.4 814.6,493.4 814.6,507.4 814.6,507.4 814.6,521.6 813.6,521.6 M839.8,100 839.8,108.3 842.3,108.3 842.3,124.3 841.9,124.3 841.9,140.7 837.9,140.7 837.9,155.8 837.5,155.8 837.5,172.3 839.1,172.3 839.1,185.5 836.9,185.5 836.9,196.4 836.8,196.4 836.8,207.1 836.8,207.1 836.8,217.3 836.8,217.3 836.8,230.8 836.9,230.8 836.9,244.8 836.9,244.8 836.9,254.7 841.9,254.7 841.9,271.3 840.3,271.3 840.3,284.2 837,284.2 837,294.4 837,294.4 837,307.6 837,307.6 837,315.5 838.6,315.5 838.6,326.7 842.2,326.7 842.2,334.6 842.2,334.6 842.2,343.8 842.2,343.8 842.2,353.1 842.2,353.1 842.2,363.9 841.5,363.9 841.5,379.4 841.4,379.4 841.4,391.2 841.4,391.2 841.4,398.4 838.1,398.4 838.1,411.9 838.1,411.9 838.1,427.8 838.1,427.8 838.1,438.6 838.1,438.6 838.1,446.4 841.3,446.4 841.3,457.8 841.3,457.8 841.3,465.4 838,465.4 838,472.1 837.3,472.1 837.3,482.7 839.8,482.7 839.8,492.5 839.8,492.5 839.8,504.8 839.8,504.8 839.8,513.2 839.8,513.2 839.8,525.3 841.9,525.3 M864.8,100 864.8,114.7 863.1,114.7 863.1,131.8 863.1,131.8 863.1,145.9 864.6,145.9 864.6,154.6 865.7,154.6 865.7,168.9 865.7,168.9 865.7,177 865.7,177 865.7,185.5 865.7,185.5 865.7,195.5 865.7,195.5 865.7,203.6 865.5,203.6 865.5,211.7 865.9,211.7 865.9,224.3 865.9,224.3 865.9,239.5 865.9,239.5 865.9,248.5 866.8,248.5 866.8,261.3 866.8,261.3 866.8,271.9 867.6,271.9 867.6,287.6 867.6,287.6 867.6,295.4 867.6,295.4 867.6,302.3 867.6,302.3 867.6,319.6 867.6,319.6 867.6,329.2 867.6,329.2 867.6,337.7 867.6,337.7 867.6,350 867.1,350 867.1,361.5 867.1,361.5 867.1,375.6 867.1,375.6 867.1,391.7 867.2,391.7 867.2,402.1 863.8,402.1 863.8,409.4 865.5,409.4 865.5,417.3 863.5,417.3 863.5,427 863.5,427 863.5,443.5 863.5,443.5 863.5,461 866.6,461 866.6,470.7 866.6,470.7 866.6,486.2 866.6,486.2 866.6,495.3 867.3,495.3 867.3,508 867.3,508 867.3,524.1 866,524.1 M890.1,100 890.1,112.4 892.6,112.4 892.6,124.2 892.6,124.2 892.6,139.4 891.4,139.4 891.4,149.9 891.4,149.9 891.4,157.5 890.9,157.5 890.9,169.4 890.5,169.4 890.5,178.4 887.1,178.4 887.1,193.8 892,193.8 892,206.5 892,206.5 892,220 891.7,220 891.7,229.8 891.7,229.8 891.7,245.1 891.7,245.1 891.7,260.6 891.1,260.6 891.1,277.7 887.7,277.7 887.7,288.8 887.7,288.8 887.7,297.1 892.3,297.1 892.3,307.9 888.2,307.9 888.2,320.9 889.9,320.9 889.9,333.4 890.1,333.4 890.1,349.2 892.6,349.2 892.6,358 891.7,358 891.7,370.9 891.7,370.9 891.7,379.9 891.7,379.9 891.7,389.8 891.7,389.8 891.7,398.9 891.7,398.9 891.7,412.7 889.9,412.7 889.9,420 889.9,420 889.9,434.2 890.4,434.2 890.4,448.9 892.1,448.9 892.1,465 888.5,465 888.5,472.6 887.6,472.6 887.6,484.5 888.9,484.5 888.9,496.2 891.8,496.2 891.8,510.8 888.4,510.8 888.4,517.5 887.7,517.5 M914.1,100 914.1,112.7 914.1,112.7 914.1,120.2 916.4,120.2 916.4,137.6 914.8,137.6 914.8,151.1 914.8,151.1 914.8,162.9 912.9,162.9 912.9,177.3 912.9,177.3 912.9,186.2 912.9,186.2 912.9,200 912.9,200 912.9,206.8 913,206.8 913,220 911.8,220 911.8,234 915.8,234 915.8,244 915.8,244 915.8,259.4 915.5,259.4 915.5,266.8 915.5,266.8 915.5,273.7 915.5,273.7 915.5,284.3 913.4,284.3 913.4,296.4 911.8,296.4 911.8,308.8 916.9,308.8 916.9,319.6 912.4,319.6 912.4,336.9 914.9,336.9 914.9,352.6 915.6,352.6 915.6,362.3 911.3,362.3 911.3,373.8 911.3,373.8 911.3,382.7 915.6,382.7 915.6,392.3 914.2,392.3 914.2,403.6 914.2,403.6 914.2,420 914.4,420 914.4,431.2 913.7,431.2 913.7,447.9 914.6,447.9 914.6,462.3 916.6,462.3 916.6,470.1 915.4,470.1 915.4,476.9 911.8,476.9 911.8,488.7 912,488.7 912,497.8 911.6,497.8 911.6,506.5 911.6,506.5 911.6,514.6 911.6,514.6 911.6,525.8 912.5,525.8 M735,547 760,549 800,548 M735,568 760,570 800,569 M735,590 760,592 800,591 M735,610 760,612 800,611 M760,548 762,570 770,590 778,612" fill="none" stroke="#ababab" stroke-width="1.1"/>
</g>
<path d="M542.3,186.1C543,184.9 554.4,174.3 557.3,171.8C560.2,169.3 568.6,162.7 570.9,160.9C573.2,159.1 579.1,155.5 580.5,154.1C581.9,152.7 583.7,148.7 584.5,147.3C585.3,145.9 587.2,142.1 588.6,140.5C590,138.9 596.8,132.6 598.2,131.6C599.6,130.6 600.9,130.7 602.3,130.9C603.7,131.1 609.5,133.3 611.8,133.6C614.1,133.9 623.6,132.6 625.5,133.6C627.4,134.6 629.8,141.7 630.9,143.2C632,144.7 634.5,148 636.4,148.6C638.3,149.2 648.6,148.3 650,149.3C651.4,150.3 649.5,156.8 650,158.2C650.5,159.6 654.7,162.2 655.5,163.6C656.3,165 657.7,170.4 658.2,171.8C658.7,173.2 660.5,176.4 660.9,177.3C661.3,178.2 662.8,180.9 662,181C661.2,181.1 653.9,179.2 652.7,178.6C651.5,177.9 651.6,174.5 650,174.5C648.4,174.5 638.9,177.6 636.4,178.6C633.9,179.6 627.7,184.1 625.5,184.1C623.3,184.1 616.4,179.3 614.5,178.6C612.6,177.9 607.8,177.7 606.4,177.3C605,176.9 601.2,175.9 601,175C600.8,174.1 603.2,169.1 604,168C604.8,166.9 608.8,163.6 609,163.6C609.2,163.6 607.2,166.9 606.4,167.7C605.6,168.5 601.7,171.4 600.9,171.8C600.1,172.2 599,171.5 598.2,171.8C597.4,172.1 594.3,173.7 592.7,174.5C591.1,175.3 584,178.9 581.8,180C579.6,181.1 572.7,185.1 570.9,185.5C569.1,185.9 564.9,184.8 564.1,184.1C563.3,183.4 564.1,178.6 562.7,178.6C561.3,178.6 552.5,183.3 550.5,184.1C548.5,184.8 541.6,187.3 542.3,186.1Z M610.2,228C609.9,226.5 612.2,221.8 613,220C613.8,218.2 617,211.7 618,210C619,208.3 621.8,204.4 623,203C624.2,201.6 628.3,197.1 630,196C631.7,194.9 638.2,192.5 640,192C641.8,191.5 646.5,190.6 648,191C649.5,191.4 654.3,195.1 655,196C655.7,196.9 655.4,199.5 655,200.4C654.6,201.3 652,203.4 650.9,204.7C649.8,206 645.3,211.4 644,213C642.7,214.6 638.9,219.1 638,221C637.1,222.9 635.2,229.8 635,232C634.8,234.2 635.2,240.4 635.6,242.5C636,244.6 638.6,250.5 639.3,252.7C640,254.9 642.1,262.2 642.2,264.4C642.3,266.6 641.3,272.5 640.7,274.5C640.1,276.5 637.4,283.2 636.4,284.7C635.4,286.2 631.6,288.5 630.5,289.1C629.4,289.7 626.4,290.9 625.5,290.5C624.6,290.1 622.5,286.4 621.8,284.7C621.1,283 619.5,275.4 618.9,273.1C618.3,270.8 616.4,263.8 616,261.5C615.6,259.2 614.5,252.4 614.5,249.8C614.5,247.2 616.4,237.5 616,235.3C615.6,233.1 610.5,229.5 610.2,228Z M658.2,191.6C658.6,190.9 661.6,189.6 662.5,188.7C663.4,187.8 665.1,183.6 666.9,182.9C668.6,182.2 676.5,181.5 680,181.5C683.5,181.5 698.2,182.5 701.8,182.9C705.4,183.3 713.9,184.8 716.4,185.8C718.9,186.8 725,191.8 726.5,193.1C728,194.4 729.9,197.6 730.9,198.9C731.9,200.2 736.7,205.2 736.7,206.2C736.7,207.2 732.1,209 730.9,209.1C729.7,209.2 726.6,208 725.1,207.6C723.6,207.2 717.9,205.1 716.4,204.7C714.9,204.3 711.4,203.7 710.5,203.3C709.6,202.9 707.5,199.8 707.6,200.4C707.8,201 711.6,207.1 712,209.1C712.4,211.1 712.1,218.5 712,220.7C711.9,222.9 710.8,228.9 710.5,230.9C710.2,232.9 709.7,239.3 709.1,241.1C708.5,242.8 705.4,247.4 704.7,248.4C704,249.4 702.2,251.5 701.8,251.3C701.4,251.2 700.8,248.2 700.4,246.9C700,245.6 698.2,239.8 697.5,238.2C696.8,236.6 694.1,231.6 693.1,230.9C692.1,230.2 688.5,230.8 687.3,230.9C686.1,231.1 682.5,231.7 681.5,232.4C680.5,233.1 677.7,237.9 677.1,238.2C676.5,238.5 675.3,236.3 675.6,235.3C675.9,234.3 679.3,229.5 680,228C680.7,226.5 682.8,222.3 682.9,220.7C683,219.1 681.9,213.6 681.5,212C681.1,210.4 679.4,205.9 678.5,204.7C677.6,203.5 674,201.1 672.7,200.4C671.4,199.7 667,197.9 665.5,197.5C664,197.1 658.9,196.6 658.2,196C657.5,195.4 657.8,192.3 658.2,191.6Z M688.7,280.4C688.6,279.2 691.8,274.1 693.1,273.1C694.4,272.1 699.5,271.4 701.8,270.2C704.1,269 713.5,263 716.4,261.5C719.3,260 728.3,256.6 730.9,255.6C733.5,254.6 740.2,252.2 742.5,251.3C744.8,250.4 752.7,247.2 754.2,246.9C755.7,246.6 757.2,247.5 757.1,248.4C757,249.3 754.2,254.2 752.7,255.6C751.2,257.1 745,261.3 742.5,262.9C740,264.5 730.9,269.9 728,271.6C725.1,273.4 716.1,278.9 713.5,280.4C710.9,281.9 703.7,285.8 701.8,286.2C699.9,286.6 695.8,285.3 694.5,284.7C693.2,284.1 688.8,281.6 688.7,280.4Z M696,261C696.5,260.3 701.3,259.5 702,260C702.7,260.5 703.5,265.3 703,266C702.5,266.7 697.7,267.5 697,267C696.3,266.5 695.5,261.7 696,261Z M744,235.3C744.3,234.2 746.8,229.3 748.4,228C750,226.7 757.1,223.5 760,222.2C762.9,220.9 774.5,216.2 777.5,215C780.5,213.8 788,211.5 790,210C792,208.5 796.6,200.4 797.5,200C798.4,199.6 799.2,204.2 799,206C798.8,207.8 795.9,215.6 795,217.5C794.1,219.4 791.8,223.8 790,225C788.2,226.2 780,229 777.5,230C775,231 767.5,234.1 765,235C762.5,235.9 754.5,238.6 752.5,239C750.5,239.4 745.9,239.4 745,239C744.1,238.6 743.7,236.4 744,235.3Z M209.5,271.5C210,270.4 213.9,270.2 214.8,270.6C215.7,271 217.6,275.7 218.3,275.9C219,276.1 221.1,272.2 221.8,272.4C222.5,272.6 224.9,276.1 225.3,277.7C225.7,279.3 226.5,286.9 226.2,288.3C225.8,289.7 222.8,291.2 221.8,291.8C220.8,292.4 217.5,294.8 216.5,294.4C215.5,294 212.8,289.6 212.1,288.3C211.4,287 209.8,282.9 209.5,281.2C209.2,279.5 209,272.6 209.5,271.5Z M780,591C780.5,590.1 784.3,588.6 785,589C785.7,589.4 787.1,593.9 787,595C786.9,596.1 784.7,599.7 784,600C783.3,600.3 780.4,598.9 780,598C779.6,597.1 779.5,591.9 780,591Z M499,121C499.5,119.7 503.7,116.8 505,117C506.3,117.2 511.2,121.3 512,123C512.8,124.7 513.6,132.7 513,134C512.4,135.3 507.3,136.4 506,136C504.7,135.6 500.7,131.5 500,130C499.3,128.5 498.5,122.3 499,121Z" fill="#99d7f2" stroke="#1c86ee" stroke-width="1.4"/>
<path d="M64,140 76,140 80,148 90,154 104,157 122,159 138,158 168,165.5 M181,102.5 168,165.5 M168,165.5 172.5,180 165,190 160,197 158,212 155,230 151,252.5 M33.8,222.5 95,240 151,252.5 193.8,260 242,270 M95,240 90,270 86,292 84,304 155,407.5 M193.8,260 190,285 172.5,370 M172.5,370 165,380 158.8,386 157.5,397.5 155,407.5 M155,407.5 160,412.5 157.5,425 160,430 155,440 147.5,450 142.5,459 M195,106 192.5,132.5 200,145 207.5,160 203.8,182.5 212.5,190 217.5,205 222.5,210 240,210 246,209 254,205 M254,205 242,270 240,292 M240,292 271,298 320,302 355,305 386,308 M254,205 300,210 361,217 M368,131.2 363,197.5 361,217 357.5,262 355,305 M271,298 260.5,380.5 243.5,507 M172.5,370 210,374 260.5,380.5 300,386 340,391 365,394 M386,308 385,331 380,395 M385,331 440,332.5 495,333.2 M380,395 365,394 366,407 356,503.6 M289,500 356,503.6 M380,395 440,397 510,399.3 M366,407 414.5,408.2 414.5,454 415.9,454 429.1,459 445.5,463.9 465.3,467.2 481.8,468.8 498.3,467.2 514.7,472.1 521,475 M510,399.3 511,420 514,475 M521,475 520.5,486 520.5,507 528.5,522.7 531,536 527,557 M520.5,486 573.3,484.5 M509.8,350.1 509.8,409.4 587.1,407.3 585,413.6 595.5,417.9 M476,272.5 481.2,286.6 485.4,299.3 489.6,314.1 493.9,324.7 500.2,335.3 504.5,339.5 504.5,345.9 509.8,350.1 M491.8,320.5 557.4,318.4 559.5,320.5 561.6,321.5 M477,255.9 559.5,254.4 562.7,254.8 M477,255.9 476,265 476,272.5 M357.5,262 445,266 460,269 476,272.5 M363,197.5 420,200 476.2,202.5 M467.5,136 470,160 476.2,202.5 477.5,205 477,255.9 M542.5,185 540,195 535,207.5 535,222 540,232.5 551,240 555,245 562.7,254.8 568,263.3 574.4,273.9 580.7,286.6 576.5,295 568,301.4 565.9,309.9 561.6,318.4 561.6,328.9 568,339.5 576.5,350.1 582.8,355.4 580.7,362.8 587.1,371.3 595.5,379.8 601.9,392.5 604,400 602,405 599.8,413.6 597.7,420 592,428 588,440 582,448 576,460 574,472 573.3,484.5 571,500 569,515 568,528 M568,528 602.3,526.7 603.6,541.2 M572.2,275 616.7,273.5 M572.5,186 592.5,192.5 607.5,200 612.5,210 615,215 M622.5,286 623,287.6 627.3,345.9 625.2,367 621,375.5 M622.5,286 669,284 690,281 M669,284 671,312 672.5,342.5 M736,264 740,285 741,300 742.5,317.5 M750,248 747,265 817.2,253.2 M741,300 740,310 735,325 725,335 715,350 705,347.5 690,347.5 675,342.5 665,352.5 655,365 637.5,370 621,375.5 616.7,384 608.2,390.4 604,400 M602,405 650,400 700,392.5 735,389 780,382 832.2,372.2 M715,350 720,362 725,372.5 715,380 700,392.5 M725,372.5 745,370 755,360 762.5,340 762.5,325 772,320 779.5,319 M742.5,317.5 760,316 821,304 M779.5,319 789,315.3 804,324.7 805.9,336 815.3,345.4 819,353 M587.5,440 626,440 670,432.5 692.5,429.5 712,431 M692.5,429.5 705,415 717.5,405 735,389 M712,431 740,419.1 753.2,420.8 756.5,424.9 772.9,422.4 777.9,423.3 797.6,439.7 M712,431 730,455 745,472.5 759.8,486.6 M626,440 628.6,539.9 M670,432.5 685,485 690,505 692,523 M643,524 692,523 744.6,521.4 747.3,517.5 757.8,516 M643,524 647,538.5 M817.2,253.2 822.8,257 826.6,264.5 825.6,277.6 830.4,285.2 836,290.8 828.5,298.4 822.8,302.1 M817.2,253.2 841,266 843,279 M821,304 826,306 830,328.5 M833,182 837.6,208 842.4,224 844.7,243.5 847,264.7 M864.7,168.2 862,180 858.8,194 856.5,222.4 M842.4,224.7 856.5,222.4 882.4,221.2 M844.7,243.5 873,240 877.6,250.6 M873,240 873,253 M866,168 870,185 876,200 882,215.3" fill="none" stroke="#000" stroke-width="1.8" stroke-linejoin="round"/>
<path d="M807,189.4 833,182 858.8,175.3 862,172 866,168 870.6,158.8 873,140 875.3,128.2 880,114 891.8,111.8 901,113 908,130.6 917.6,149.4 924.7,154 928.2,158.8 924.7,164.7 915,173 906,177.6 896.5,187 889,196.5 884.7,208.2 882,215.3 885,222 887,227 891.8,231.8 898.8,236.5 903.5,236.5 903,240 895,241 888,244 880,246 877.6,250.6 873,253 858.8,262.4 847,264.7 843,270 842.6,278.6 846.4,283.3 848.2,292.7 845.4,302.1 841.6,309.6 837.9,315.3 834,313 828.5,307.8 826.6,311.5 834.1,322.8 838.8,328.5 837.9,334.1 834,345 832.2,356.7 830,365 832.2,372.2 838.8,382.9 845.3,392.8 845.3,399.4 838.8,404.3 833.8,412.6 828.9,414.2 822.3,415.8 817.4,422.4 809.1,432.3 804.2,437.2 797.6,439.7 792.7,445.5 787.7,455.3 781.2,463.6 772.9,471.8 764.7,480 759.8,486.6 758,495 757.8,505 757.8,514.8 759.1,522.7 765.7,535.9 776.3,554.4 784.2,570.2 792.1,588.6 797.4,601.8 798,615 797.4,628.2 794.7,636.1 784.2,633.5 773.6,620.3 763.1,609.7 755.2,599.2 747.3,586 742,575.5 742,562.3 734,551.7 720.9,541.2 710.4,537.2 699.8,543.8 691.9,546.5 684,541.2 673.5,535.9 657.6,534.6 641.8,538.5 636.5,541.2 628.6,538.5 615.5,539 597,541.2 591.7,543.8 594.4,546.5 602.3,543.8 610.2,546.5 607.5,551.7 612.8,559.6 615.5,568.9 602.3,562.3 589,567.5 578.5,564.9 562.7,561 560,557 541.6,558.3 525.8,559.6 510,563.6 497.5,570 480,580 470,590 460,600 457.5,610 462.5,630 460,641 M289,500 259.7,499.6 259,509.3 243.5,507 206.4,501.5 169.3,478.5 140.9,458.9 100,453.8 99,448 96.2,435.8 88.1,419.5 74.6,408.7 58.3,397.9 50.2,387 44.8,370.8 39.4,357 36.7,341 39.4,330 36.7,316.7 29.9,308.5 25.8,284 23.1,257 25.8,246 30,232 34,225 35,220 42.5,195 52.5,175 61,152 64,140 66,135 70,105 68.8,87 78,88 86,90 92,87 96,84 100.5,82 140,92 175,102 220,111 270,118.8 320,126 367.5,131.2 420,135 460,135.5 496,135.5 498,125 503,118 508,122 514,130 514,139 520,142.5 " fill="none" stroke="#000" stroke-width="1.8" stroke-linejoin="round"/>
<path d="M520,142.5 530,143.2 539.5,151.4 550.5,152.7 560,151.4 565.5,152.7 575,152.7 580.5,154.1 584.5,147.3 588.6,140.5" fill="none" stroke="#1e8cf0" stroke-width="1.2"/>
<path d="M460,641C457.3,640.5 444.7,639 440,637.5C435.3,636 428,633.7 425,630C422,626.3 419.5,614.3 417.5,610C415.5,605.7 412.7,601.8 410,597.5C407.3,593.2 400.8,582.5 397.5,577.5C394.2,572.5 387.7,563.3 385,560C382.3,556.7 380.8,553.3 377.5,552.5C374.2,551.7 363.3,552.1 360,553.8C356.7,555.4 354.5,563 352.5,565C350.5,567 348,570.1 345,568.8C342,567.4 333.3,558.8 330,555C326.7,551.2 322.4,543.3 320,540C317.6,536.7 314.1,532.5 312,530C309.9,527.5 306.4,523.6 304.3,521C302.2,518.4 298.6,513.4 296.6,510.6C294.6,507.8 290,501.4 289,500 M172.5,370C171.5,371.3 166.8,377.9 165,380C163.2,382.1 159.8,383.7 158.8,386C157.8,388.3 158,394.6 157.5,397.5C157,400.4 154.7,405.5 155,407.5C155.3,409.5 159.7,410.2 160,412.5C160.3,414.8 157.5,422.7 157.5,425C157.5,427.3 160.3,428 160,430C159.7,432 156.7,437.3 155,440C153.3,442.7 149.2,447.5 147.5,450C145.8,452.5 143.2,457.8 142.5,459 M168,100C167.2,102.4 163.6,115.6 162,118C160.4,120.4 157.6,117.7 156,118C154.4,118.3 152.1,120.5 150,120C147.9,119.5 142.7,114.5 140,114C137.3,113.5 131.6,114.7 130,116C128.4,117.3 128,120.8 128,124C128,127.2 129.2,136.8 130,140C130.8,143.2 132.9,146.4 134,148C135.1,149.6 137.5,150.7 138,152C138.5,153.3 140.1,157.1 138,158C135.9,158.9 126.5,159.1 122,159C117.5,158.9 108.3,157.7 104,157C99.7,156.3 93.2,155.2 90,154C86.8,152.8 81.9,149.9 80,148C78.1,146.1 77.9,141.3 76,140C74.1,138.7 67.3,138.3 66,138 M138,156C139.6,156 147.1,156.3 150,156C152.9,155.7 157.6,152.7 160,154C162.4,155.3 166.3,162 168,165.5C169.7,169 172.9,176.7 172.5,180C172.1,183.3 166.7,187.7 165,190C163.3,192.3 161.2,194.9 160,197C158.8,199.1 156.3,203.7 156,206C155.7,208.3 156.1,210.8 158,214C159.9,217.2 166.5,226.3 170,230C173.5,233.7 180,239.6 184,242C188,244.4 195.7,247.2 200,248C204.3,248.8 212,249.3 216,248C220,246.7 227.1,240.4 230,238C232.9,235.6 236.1,231.6 238,230C239.9,228.4 242.4,228 244,226C245.6,224 248.5,217.8 250,215C251.5,212.2 254.3,206.3 255,205 M80,150C79.5,152 77.1,161 76,165C74.9,169 72.8,176 72,180C71.2,184 70.3,193 70,195 M104,157C104.3,159 106,167.9 106,172C106,176.1 104.8,184.3 104,188C103.2,191.7 100.5,198.4 100,200 M205,150C207.7,149.3 220.3,145 225,145C229.7,145 236,149.6 240,150C244,150.4 251,149.1 255,148C259,146.9 265.3,141.5 270,142C274.7,142.5 284.7,150.9 290,152C295.3,153.1 304.7,150.3 310,150C315.3,149.7 325.3,149.7 330,150C334.7,150.3 340,151.9 345,152C350,152.1 361.8,150.6 367.5,151C373.2,151.4 383.2,154.1 387.5,155C391.8,155.9 397.3,156.7 400,158C402.7,159.3 405.6,162.1 407.5,165C409.4,167.9 412.7,176.3 414,180C415.3,183.7 417,188.5 417.5,192.5C418,196.5 417.8,205.3 417.5,210C417.2,214.7 413.3,222.8 415,227.5C416.7,232.2 426.7,240.9 430,245C433.3,249.1 437.3,254.7 440,258C442.7,261.3 445.7,268.1 450,270C454.3,271.9 468.3,270.3 472.5,272.5C476.7,274.7 479.5,283 481.2,286.6C482.9,290.2 484.3,295.6 485.4,299.3C486.5,303 488.5,310.7 489.6,314.1C490.7,317.5 492.5,321.9 493.9,324.7C495.3,327.5 498.8,333.3 500.2,335.3C501.6,337.3 503.9,338.1 504.5,339.5C505.1,340.9 503.7,344.5 504.5,345.9C505.3,347.3 508.5,349.7 510.8,350.1C513.1,350.5 518.3,349.7 521.4,349.1C524.5,348.5 531.6,345.2 534.1,345.9C536.6,346.6 538.5,352.3 540.5,354.4C542.5,356.5 546.1,361 548.9,361.8C551.7,362.6 558.2,361.3 561.6,360.7C565,360.1 571.7,358.3 574.4,357.5C577.1,356.7 580.8,354.8 581.8,354.4 M262,238C264.4,237.7 275.6,237.1 280,236C284.4,234.9 292,234.5 295,230C298,225.5 299.5,208.5 302.5,202.5C305.5,196.5 311.8,188.7 317.5,185C323.2,181.3 338.3,179.3 345,175C351.7,170.7 364.5,155.5 367.5,152.5 M262,268C265.7,268 280.7,268.8 290,268C299.3,267.2 323.3,259.7 332,262C340.7,264.3 347,279.7 355,285C363,290.3 383.7,298.4 392,302C400.3,305.6 411.3,310 417,312C422.7,314 429.9,317.7 435,317C440.1,316.3 450.3,309 455,307C459.7,305 466,302 470,302C474,302 483,306.3 485,307 M300,335C301.7,335.3 310.5,334.8 312.5,337.5C314.5,340.2 312.7,352 315,355C317.3,358 325.3,358.7 330,360C334.7,361.3 343.3,363.3 350,365C356.7,366.7 372.7,370.8 380,372.5C387.3,374.2 399,376.5 405,377.5C411,378.5 420.3,381 425,380C429.7,379 436,370.7 440,370C444,369.3 451.7,373 455,375C458.3,377 463,381.7 465,385C467,388.3 468,396.7 470,400C472,403.3 476.3,406.7 480,410C483.7,413.3 494.2,421.7 497.5,425C500.8,428.3 502.3,433.3 505,435C507.7,436.7 513.5,436.8 517.5,437.5C521.5,438.2 530,438.7 535,440C540,441.3 549.7,445 555,447C560.3,449 572.3,453.9 575,455 M350,429.3C352.2,429.1 362.1,428.4 366.5,427.7C370.9,427 378.6,425.5 383,424.4C387.4,423.3 395,419.9 399.4,419.4C403.8,418.9 411.5,421 415.9,421C420.3,421 428.9,418.3 432.4,419.4C435.9,420.5 439.7,427.1 442.3,429.3C444.9,431.5 449,434.4 452.1,435.9C455.2,437.4 461.3,439.9 465.3,440.8C469.3,441.7 478.1,443.4 481.8,442.5C485.5,441.6 490.7,435.6 493.3,434.3C495.9,433 498.7,432.4 501.6,432.6C504.5,432.8 513,435.5 514.7,435.9 M350,445.8C354.4,444.9 376.4,438.8 383,439.2C389.6,439.6 395,447.1 399.4,449.1C403.8,451.1 411.9,452.7 415.9,454C419.9,455.3 425.2,457.7 429.1,459C433,460.3 440.7,462.8 445.5,463.9C450.3,465 460.5,466.5 465.3,467.2C470.1,467.9 477.4,468.8 481.8,468.8C486.2,468.8 493.9,466.8 498.3,467.2C502.7,467.6 511.1,470.7 514.7,472.1C518.3,473.5 521.6,475.3 525,478C528.4,480.7 536,487.7 540,492C544,496.3 551.3,505.2 555,510C558.7,514.8 566.3,525.6 568,528 M353.3,447.4C356.2,448.5 369.4,452.8 374.7,455.7C380,458.6 388.4,465.7 392.8,468.8C397.2,471.9 404,477.8 407.7,478.7C411.4,479.6 417.5,475 420.8,475.4C424.1,475.8 428.7,479.8 432.4,482C436.1,484.2 445.3,488.8 448.8,491.9C452.3,495 456.7,501.4 458.7,505.1C460.7,508.8 462.8,515.3 464,520C465.2,524.7 466.9,534.7 468,540C469.1,545.3 470.9,554.9 472,560C473.1,565.1 475.5,575.6 476,578 M470,492C470.5,494.4 472.4,505.6 474,510C475.6,514.4 480.5,520.3 482,525C483.5,529.7 483.9,539.7 485,545C486.1,550.3 489.3,562.3 490,565 M380,500C382,501.3 391,507.3 395,510C399,512.7 406,516.7 410,520C414,523.3 421,531.3 425,535C429,538.7 436,544.7 440,548C444,551.3 451.7,556.4 455,560C458.3,563.6 463.7,573 465,575 M300,330C300.7,334 303.5,350.7 305,360C306.5,369.3 311.4,392.3 311,400C310.6,407.7 304,413.1 302,417.5C300,421.9 298,427.8 296,432.7C294,437.6 288.8,449.3 287,454.5C285.2,459.7 283.4,467.3 282.7,472C282,476.7 282.4,486.3 282,490C281.6,493.7 280.3,498.7 280,500 M317.6,413C318.2,415 319.9,423.1 322,428C324.1,432.9 330.7,444.1 333,450C335.3,455.9 337.5,466.2 339.5,472C341.5,477.8 345.9,488.3 348.2,493.8C350.5,499.3 354.4,508 357,513.5C359.6,519 366,529.9 368,535C370,540.1 371.5,549.7 372,552 M155,407C155.4,404.7 156,393.9 158,390C160,386.1 166.4,379.9 170,378C173.6,376.1 181.3,376 185,376C188.7,376 194.7,378.1 198,378C201.3,377.9 207.5,375.1 210,375C212.5,374.9 213.9,377.7 216.8,377.3C219.7,376.9 228,374 231.4,371.8C234.8,369.6 239.4,363.9 242.3,361C245.2,358.1 250.3,352.7 253.2,350C256.1,347.3 261.4,342.6 264.1,340.9C266.8,339.2 270.3,338.3 273.2,337.3C276.1,336.3 282.6,334.6 286,333.6C289.4,332.6 295.4,331.5 298.6,330C301.8,328.5 308.5,323.1 310,322 M253.2,350C252.8,347.3 250.2,335.3 250,330C249.8,324.7 252.3,314.7 252,310C251.7,305.3 249.1,299 248,295C246.9,291 244.5,282 244,280 M143,461C145.6,460.4 157.2,457.8 162.7,456.7C168.2,455.6 178.7,453.3 184.5,452.4C190.3,451.5 201.5,450.2 206.4,450.2C211.3,450.2 217.8,451.5 221.6,452.4C225.4,453.3 231.5,454.1 234.7,456.7C237.9,459.3 242.1,470.3 245.6,472C249.1,473.7 258.4,471.3 261,469.8C263.6,468.3 264.7,462.2 265.3,461 M188.9,459C190.4,459.6 196,463 199.8,463.3C203.6,463.6 212.1,459.3 217.3,461C222.5,462.7 236.1,474.3 239,476.4 M205,378C207,379.9 216,388.8 220,392C224,395.2 231,399.6 235,402C239,404.4 248,408.9 250,410 M52,250C52.4,252.7 54.6,265.3 55,270C55.4,274.7 55.2,280.3 55,285C54.8,289.7 53.4,300.3 53.8,305C54.1,309.7 55.7,314 57.5,320C59.3,326 64.5,345.7 67.5,350C70.5,354.3 76.7,353.5 80,352.5C83.3,351.5 90.8,343.8 92.5,342.5 M67.5,350C68.5,352 72.7,361 75,365C77.3,369 83.7,378 85,380 M110,270C112,269.3 121,266.1 125,265C129,263.9 136,262.4 140,262C144,261.6 151,261.2 155,262C159,262.8 168,267.2 170,268 M500,175C501.3,174.3 507.3,170 510,170C512.7,170 518,173 520,175C522,177 526,182.3 525,185C524,187.7 513.8,191.7 512.5,195C511.2,198.3 512.7,206.3 515,210C517.3,213.7 526,219.5 530,222.5C534,225.5 542.2,230.2 545,232.5C547.8,234.8 549.7,238.3 551,240C552.3,241.7 553.4,243 555,245C556.6,247 561,252.4 562.7,254.8C564.4,257.2 566.4,260.8 568,263.3C569.6,265.8 572.7,270.8 574.4,273.9C576.1,277 580.4,283.8 580.7,286.6C581,289.4 578.2,293 576.5,295C574.8,297 569.4,299.4 568,301.4C566.6,303.4 566.8,307.6 565.9,309.9C565,312.2 562.2,315.9 561.6,318.4C561,320.9 560.7,326.1 561.6,328.9C562.5,331.7 566,336.7 568,339.5C570,342.3 574.5,348 576.5,350.1C578.5,352.2 582.2,353.7 582.8,355.4C583.4,357.1 580.1,360.7 580.7,362.8C581.3,364.9 585.1,369 587.1,371.3C589.1,373.6 593.5,377 595.5,379.8C597.5,382.6 600.8,389.8 601.9,392.5C603,395.2 604,398.3 604,400C604,401.7 602.6,403.2 602,405C601.4,406.8 600.4,411.6 599.8,413.6C599.2,415.6 598.7,418.1 597.7,420C596.7,421.9 593.3,425.3 592,428C590.7,430.7 589.3,437.3 588,440C586.7,442.7 583.6,445.3 582,448C580.4,450.7 577.1,456.8 576,460C574.9,463.2 574.4,468.7 574,472C573.6,475.3 573.7,480.8 573.3,484.5C572.9,488.2 571.6,495.9 571,500C570.4,504.1 569.4,511.3 569,515C568.6,518.7 567.2,524.7 568,528C568.8,531.3 573.4,537.1 575,540C576.6,542.9 578,547.9 580,550C582,552.1 587.3,554.7 590,556C592.7,557.3 597.6,558.8 600,560C602.4,561.2 606.1,563.7 608,565C609.9,566.3 613.2,569.3 614,570 M741,290C741,291.3 741.1,297.3 741,300C740.9,302.7 740.8,306.7 740,310C739.2,313.3 737,321.7 735,325C733,328.3 727.7,331.7 725,335C722.3,338.3 717.7,348.3 715,350C712.3,351.7 708.3,347.8 705,347.5C701.7,347.2 694,348.2 690,347.5C686,346.8 678.3,341.8 675,342.5C671.7,343.2 667.7,349.5 665,352.5C662.3,355.5 658.7,362.7 655,365C651.3,367.3 642,368.6 637.5,370C633,371.4 623.8,373.6 621,375.5C618.2,377.4 618.4,382 616.7,384C615,386 609.9,388.3 608.2,390.4C606.5,392.5 604.6,398.7 604,400 M615,385C616.3,387 624,396 625,400C626,404 622.5,411 622.5,415C622.5,419 623,427 625,430C627,433 634.2,436.2 637.5,437.5C640.8,438.8 646.3,440.3 650,440C653.7,439.7 661.7,437 665,435C668.3,433 672.3,428 675,425C677.7,422 682.3,415.5 685,412.5C687.7,409.5 692.3,405.2 695,402.5C697.7,399.8 702,394.8 705,392.5C708,390.2 714.2,386.3 717.5,385C720.8,383.7 727,383.3 730,382.5C733,381.7 738.7,379.2 740,378.8 M612,388C613.7,388.5 621.3,391.1 625,392C628.7,392.9 635.3,395.3 640,395C644.7,394.7 654.7,391.3 660,390C665.3,388.7 674.7,386.6 680,385C685.3,383.4 697.3,378.9 700,378 M574.4,358.6C575.1,356.8 577.9,350.1 580,345C582.1,339.9 587.9,325.8 590,320C592.1,314.2 592.8,304.4 595.5,301.4C598.2,298.4 608.4,297.8 610.4,297.2 M621,375.5C621.5,373.4 624.2,364.1 625,360C625.8,355.9 626.1,350.3 627,345C627.9,339.7 630.3,325.3 632,320C633.7,314.7 637.6,307.7 640,305C642.4,302.3 648.7,300.7 650,300 M467.5,136C467.8,139.2 468.7,151.5 470,160C471.3,168.5 476.5,194.7 477.5,200 M478,212C479.6,213.7 486.4,222.6 490,225C493.6,227.4 501,229.6 505,230C509,230.4 516.4,228.9 520,228C523.6,227.1 530.4,223.7 532,223 M567,262C568.5,261.1 575.6,257.3 578,255C580.4,252.7 583.9,249 585,245C586.1,241 586.1,230.3 586,225C585.9,219.7 584.4,209 584,205C583.6,201 583.1,196.3 583,195 M800,253C801.3,253.8 808.1,256.3 809.6,258.8C811.1,261.3 812.5,269 811.5,272C810.5,275 803.7,279.1 802,281.4C800.3,283.7 798.4,287 798.4,289C798.4,291 800.5,295 802,296.5C803.5,298 807.6,298.7 809.6,300.2C811.6,301.7 816.2,306.8 817.2,307.8 M748.5,262.6C749.9,263.1 757.9,264.4 758.8,266.4C759.7,268.4 756,274.6 755,277.6C754,280.6 752.6,286.2 751.3,289C750,291.8 746.4,297.1 745.6,298.4 M834,195C834.4,197.7 836.2,209.7 837,215C837.8,220.3 839.3,229.7 840,235C840.7,240.3 841.7,250.9 842,255C842.3,259.1 842,264.5 842,266 M864,170C863.5,173.3 860.8,188.1 860,195C859.2,201.9 858.3,215.3 858,222C857.7,228.7 857.7,239.7 858,245C858.3,250.3 859.7,259.7 860,262 M890,120C890.7,122.7 893.7,134.7 895,140C896.3,145.3 898.7,154.9 900,160C901.3,165.1 904.3,175.6 905,178 M880,150C880.7,152.7 883.9,164.7 885,170C886.1,175.3 887.6,187.3 888,190 M779.5,319C780.8,318.5 785.7,314.5 789,315.3C792.3,316.1 801.7,321.9 804,324.7C806.3,327.5 804.4,333.2 805.9,336C807.4,338.8 813.6,343.1 815.3,345.4C817,347.7 818.5,352 819,353 M762,350C764.4,350.8 774.9,354.4 780,356C785.1,357.6 794.7,360.7 800,362C805.3,363.3 817.3,365.5 820,366 M750,388C752.7,387.5 764.7,385.3 770,384C775.3,382.7 784.7,379.3 790,378C795.3,376.7 807.3,374.5 810,374 M712,432C714.4,435.1 725.6,449.6 730,455C734.4,460.4 741,468.4 745,472.5C749,476.6 758,484.2 760,486 M740,412C742,414.4 751,425.6 755,430C759,434.4 766,441.7 770,445C774,448.3 783,453.7 785,455 M770,395C771.3,397.7 777.3,410.1 780,415C782.7,419.9 787.6,428.7 790,432C792.4,435.3 796.9,438.9 798,440 M680,440C680.5,442.7 682.9,454.7 684,460C685.1,465.3 687.2,474.7 688,480C688.8,485.3 689.5,494.3 690,500C690.5,505.7 691.6,517.7 692,523C692.4,528.3 692.9,537.7 693,540 M700,470C700.4,473.3 703.3,488.3 703,495C702.7,501.7 699.3,514.7 698,520C696.7,525.3 693.7,533 693,535 M658,440C656.9,442.7 651.7,454.7 650,460C648.3,465.3 646.3,474 645,480C643.7,486 640.9,497.7 640,505C639.1,512.3 638.3,531 638,535 M628,440C628.5,444 630.9,462 632,470C633.1,478 635.2,492 636,500C636.8,508 637.7,526 638,530 M612,470C611.2,474 607.2,490.5 606,500C604.8,509.5 603.4,535.5 603,541 M590,430C590.7,432.7 593.9,444.7 595,450C596.1,455.3 598.7,464.7 598,470C597.3,475.3 592.7,486 590,490C587.3,494 579.6,498.7 578,500 M765,535C765.9,537 770.5,546 772,550C773.5,554 774.9,561.7 776,565C777.1,568.3 779.5,573.7 780,575 M540,460C540.7,462.7 543.4,474.7 545,480C546.6,485.3 550,495.3 552,500C554,504.7 558.9,513 560,515 M530,420C532,421.3 541,427.3 545,430C549,432.7 556.7,436.7 560,440C563.3,443.3 568.7,453 570,455 M300,245C300.4,243 302.3,234.4 303,230C303.7,225.6 304.1,216.7 305,212C305.9,207.3 309.3,197.3 310,195 M330,250C330.7,247.3 333.7,235.3 335,230C336.3,224.7 338.7,215.3 340,210C341.3,204.7 344.3,192.7 345,190 M258,230C258.5,233.3 261.5,248.3 262,255C262.5,261.7 262.5,274.7 262,280C261.5,285.3 259.3,291 258,295C256.7,299 252.8,308 252,310 M185,150C187,152.4 196,166 200,168C204,170 211.3,166.1 215,165C218.7,163.9 226.3,160.7 228,160 M175,135C177,135.7 186,139.6 190,140C194,140.4 203,138.3 205,138 M185,102C187,104.1 196,114.5 200,118C204,121.5 211,126.4 215,128C219,129.6 228,129.7 230,130 M270,365C271.3,365.7 276.7,369.1 280,370C283.3,370.9 291.7,372.3 295,372C298.3,371.7 303.7,368.5 305,368" fill="none" stroke="#1c86ee" stroke-width="1.5" stroke-linejoin="round"/>
<path d="M928.4,158.9 926.8,160.6 924,161.6 924.8,164.8 922.7,166.3 920.5,167.7 919.9,170.9 916.9,171.3 914.7,172.4 912.1,172.8 911.5,177.2 908.7,177.4 907.5,179.1 903.3,178 902.1,180 902.9,184 897.9,182.1 896.4,183.7 895.9,186.5 894.5,188.5 894.9,191.9 894,194.3 890.4,194.5 891.1,197.3 889.7,199.4 888.5,201.6 888.7,204.4 885.7,205.9 885,208.3 882.1,209.9 882.8,212.9 882,215.3 M927.7,158.5 927,160.8 925.3,162.4 924.8,164.8 923.3,167 919.5,166.5 917.6,168.2 916.1,170.3 914.6,172.3 913.1,174.8 911,176.3 908.6,177.2 907.2,178.8 903.7,178.4 903.1,181 900.3,181.3 900,184.2 896.8,184.1 895.4,186.1 896.6,190.1 894.4,191.5 890.7,191.7 890.6,194.7 887.2,195.8 888.5,199 888.9,201.8 885.9,203.3 884.5,205.5 885.6,208.5 885.3,211.2 883.5,213.2 882,215.3 M796.6,438.9 795.4,441.2 795.2,444.3 793.3,445.8 792.7,448 791.8,450 789,451 789.5,453.8 787.6,455.2 786.2,457.5 785.1,460 782.3,461.1 781.9,464.3 779.3,465 778.6,467.6 776.4,468.7 775.1,470.7 773.4,472.3 770.3,472.5 769,474.5 768.4,477.1 765.6,477.6 765.4,480.5 763.3,482.4 760.6,483.8 759.4,486.5 760.3,489.6 757.3,491.9 758.8,495 758.6,497.5 757.1,500 758.3,502.5 757.8,505 M839.1,382.7 840.7,384.5 841.9,386.5 842.6,388.9 844.3,390.6 845.1,392.8 845.5,396.1 845.3,399.5 842.7,400.4 841,402.7 838.7,404.2 837,406.1 836.7,408.7 835.5,410.8 833.6,412 831.2,412.9 829,414.6 826.8,415.2 824.4,414.9 821.7,415.4 821.1,418.3 818.5,419.8 816.9,422 815.6,424.3 814.2,426.4 812.9,428.7 811.3,430.8 808.6,431.8 807.8,434.2 805.6,435.3 804.3,437.6 801.8,437.5 799.7,438.7 797.6,439.7 M741.6,575.5 741.4,573.3 742.4,571.1 741.1,568.9 741.5,566.7 742.1,564.5 742.6,561.9 740.8,560.4 739,559 738.7,556.5 736.2,555.6 734.6,554 733.7,552.1 732.1,550.3 729.7,549.4 728,547.7 726.4,545.9 724.7,544.1 722.3,543.3 720.8,541.5 719.1,539.7 717,538.7 714.7,538.5 712.6,537.6 710.3,537.1 708.7,539.1 706.7,540.6 704.5,542 701.5,541.8 699.8,543.8 M615.8,568.4 613.9,566.6 610.5,567.9 609.1,565.3 606.7,564.5 604.8,562.8 602.5,562.8 599.6,561.9 598.3,565.1 595.6,564.8 593.2,565.1 590.8,565.6 589.2,566.9 586.5,566.3 583.9,565.4 581.4,564.4 578.4,565.3 576.4,563.8 574.3,562.7 572,562.2 569.4,562.9 567.4,561.3 565.2,560.6 562.9,560.9 561.6,558.8 560,557.3 557.7,556.9 555.4,557 553.2,558.7 550.8,557.3 548.4,556.4 546.1,556.9 543.9,557.5 541.6,558.6 539.3,557.8 537.1,558.4 534.8,559 532.5,558.1 530.4,560.4 528,558.7 526.1,560.9 523.5,559.9 521.3,560.8 519.2,562 516.6,561.3 514.5,562.5 512.2,562.7 510,563.6 M497.1,569.3 495.8,571.5 494.1,573.1 491.9,573.7 489.5,574.1 488.1,576.1 486.2,577.2 483.5,577.1 481.8,578.6 480.1,580.1 477.8,581.1 476.9,583.6 474.8,584.8 473.8,587.1 471.8,588.4 469.6,589.6 467.7,591.1 466.1,592.8 465.2,595.2 463.2,596.5 461.9,598.6 460.7,600.2 459.4,602.5 458.1,604.8 457.4,607.3 457.1,610.1 457.2,612.4 459,614.3 459.8,616.5 459.8,618.9 460.7,621 461.4,623.2 461.6,625.5 461.7,627.8 462.5,630 462.4,632.3 460.8,634.2 460.1,636.4 460.6,638.8 460,641" fill="none" stroke="#000" stroke-width="1.1" stroke-linejoin="round"/>
<path d="M132,457.5C131.9,455.7 131.7,439.4 131.4,435.8C131.1,432.2 129.4,417.5 128.7,414.1C128,410.7 124.4,398.4 123.3,395.2C122.2,392 116.8,379.6 115.2,376.2C113.6,372.8 106,358 104.4,354.6C102.8,351.2 97.3,338.5 96.2,335.6C95.1,332.7 91.8,322.6 91,320C90.2,317.4 86.2,306.4 86,304.5C85.8,302.6 87.6,299.1 88.1,297.7C88.6,296.3 91.3,289.8 92.2,288.2C93.1,286.6 97.3,280.2 99,278.7C100.7,277.2 110,271.7 112.5,270.6C115,269.5 126,266.1 128.7,265.2C131.4,264.3 142.6,260.9 145,259.8C147.4,258.7 156.1,253.3 158,252C159.9,250.7 166.5,246.4 168.4,244.7C170.3,243 179.1,234 181.3,231.8C183.5,229.6 192.1,220.4 194.3,218.8C196.5,217.2 204.6,212.9 207.2,212.4C209.8,211.9 222.5,212.1 225.3,212.4C228.1,212.7 239.4,215.2 240.9,216.2C242.4,217.2 243.9,222.7 243.5,224C243.1,225.3 237.4,230.1 235.7,231.8C234,233.5 224.5,242.8 222.8,244.7C221.1,246.6 215,253.7 215,255C215,256.3 221.9,259.2 222.8,260.3C223.7,261.4 224.9,266.1 225.3,268C225.7,269.9 227.6,281.4 228,283.6C228.4,285.8 229,292.5 230.5,294C232,295.5 244.1,300.4 246,301.7C247.9,303 253.2,307.6 253.8,309.5C254.5,311.4 254.2,322.4 253.8,325C253.4,327.6 248.5,339.1 248.6,341C248.7,342.9 255.4,346.3 255,348.2C254.6,350.1 246.1,362 244.1,363.6C242.1,365.2 233.7,366.8 231.4,367.3C229.1,367.8 218.8,368.7 216.8,369.1C214.8,369.5 208.6,370.2 207.7,371.8C206.8,373.4 205.8,385.8 205.9,388.2C206.1,390.6 208.1,399.1 209.5,400.9C210.9,402.7 219.7,408.6 222.3,410C224.9,411.4 237.5,416.5 240.5,417.3C243.5,418.1 255.4,420 258.6,420C261.8,420 275.6,418.1 278.6,417.3C281.6,416.5 292.9,411.4 295,410C297.1,408.6 303.3,402.3 304.1,400.9C304.9,399.5 304.6,394.5 304.1,393.6C303.6,392.7 299.7,390.6 298.6,390C297.5,389.4 292.1,387.5 291.4,386.4C290.7,385.3 290.4,378.5 290.5,377.3C290.6,376.1 292.4,372.9 293.2,371.8C293.9,370.7 298.4,365.5 299.5,364.5C300.6,363.5 304.8,360.4 305.9,360C307,359.6 312.1,358.7 313.2,359.1C314.3,359.5 317.8,363.4 318.6,364.5C319.4,365.6 321.4,370.9 322.3,371.8C323.2,372.7 328.4,375.4 329.5,375.5C330.6,375.6 334.2,374.4 335,373.6C335.8,372.8 337.8,367.6 338.6,366.4C339.4,365.2 342.9,360.2 344.1,359.1C345.3,358 351.7,354.4 353.2,353.6C354.7,352.8 360.5,350.4 362.3,350C364.1,349.6 373.5,348.2 375,348.2C376.5,348.2 379.9,349.2 380.5,350C381.1,350.8 382.2,355.6 382.3,357.3C382.4,359 381.4,367.6 381.3,370C381.2,372.4 381.4,384.4 381.3,386.5C381.2,388.6 380.4,393.9 379.6,394.7C378.8,395.5 372.5,396.1 371.4,396.4C370.3,396.7 367.1,397.3 366.5,398C365.9,398.7 364.8,403.5 364.8,404.6C364.8,405.7 365.4,410.2 366.5,411C367.6,411.8 375.8,413.8 378,414.5C380.2,415.2 390.5,418.6 392.8,419.4C395.1,420.2 404.6,423.3 406,424.4C407.4,425.5 409.1,431 409.3,432.6C409.5,434.2 408.6,441.5 408.5,444C408.4,446.5 407.4,460 407.7,462.3C408,464.6 411.4,470.4 412.6,472C413.8,473.6 421,480.5 422.5,482C424,483.5 429.8,488.6 431,490C432.2,491.4 435.3,497.2 436.6,498.5C437.9,499.8 444.9,504.4 446.5,505.5C448.1,506.6 454.9,510.3 456.4,511.2C457.9,512.1 463.6,515.6 464.8,516.8C466,518 470,523.9 470.5,525.3C471,526.7 470.4,532.3 470.5,533.8C470.6,535.3 471.5,542.1 471.9,543.6C472.2,545.1 474.5,550.3 474.7,552.1C474.9,553.9 474.8,563.3 474.7,564.8C474.6,566.3 473.1,569.7 473.3,570.5C473.5,571.3 477,574 477.5,574.7C478,575.4 479.1,578.3 478.9,579C478.7,579.7 475.5,582.4 474.7,583.2C473.9,584 470.3,587.9 469.1,588.8C467.9,589.7 461.9,593.7 460.6,594.5C459.3,595.3 454.4,598.5 453.5,598.7C452.6,598.9 449.9,597.9 449.3,597.3C448.7,596.7 447.4,592.3 446.5,591.6C445.6,590.9 439.8,589.1 438,588.8C436.2,588.4 427.2,587.8 425.3,587.4C423.4,587 416.7,585.1 415.4,584.6C414.1,584.1 410.7,581.8 409.8,581.8C408.9,581.8 404.7,584.1 404.1,584.6C403.5,585.1 402.8,587.2 402.7,587.4 M556,412C558.3,409.8 564,409.2 568,409C572,408.8 577.2,409.2 580,411C582.8,412.8 584.2,415.5 585,420C585.8,424.5 585.5,433.7 585,438C584.5,442.3 584.5,444.3 582,446C579.5,447.7 574,447.8 570,448C566,448.2 560.7,448.7 558,447C555.3,445.3 554.7,442.2 554,438C553.3,433.8 553.7,426.3 554,422C554.3,417.7 553.7,414.2 556,412Z" fill="none" stroke="#000" stroke-width="3" stroke-linejoin="round" stroke-linecap="round"/>
<g font-family="Liberation Sans, Arial, sans-serif" font-weight="bold" font-size="19.5" letter-spacing="0.6" text-anchor="middle" fill="#000">
<text x="139" y="138.2">SL</text>
<text x="117.5" y="231.2">SL</text>
<text x="72" y="335.2">SL</text>
<text x="181" y="273.2">L</text>
<text x="287" y="289.2">L</text>
<text x="185" y="390.2">L</text>
<text x="237" y="400.2">SL</text>
<text x="362" y="386.2">L</text>
<text x="450" y="392.2">SL</text>
<text x="283" y="461.2">L</text>
<text x="488" y="499.2">SL</text>
<text x="435" y="535.2">L</text>
<text x="437" y="636.2">SL</text>
<text x="489" y="197.2">S</text>
<text x="566" y="430.2">S</text>
<text x="774" y="351.2">S</text>
<text x="769" y="401.2">S</text>
<text x="658" y="491.2">S</text>
<text x="720" y="517.2">S</text>
<text x="880" y="172.2">S</text>
<text x="852" y="242.2">SL</text>
</g>
<path d="M50,407 l5,-1 l3,2 l-5,1Z M58,410 l4,0 l1,2 l-4,0Z M79,429 l2,0 l0,3 l-2,0Z M76,437 l2,1 l0,3 l-2,-1Z M66,420 l2,0 l0,2Z" fill="#000" stroke="#000" stroke-width="0.8"/>
<path d="M37,313 C40,314 42,318 41,322 C40,326 38,327 37,324 C39,321 38,317 36,316Z" fill="#fff" stroke="#000" stroke-width="1"/>
<path d="M847,273 L858.8,268.2 L870.6,262.4 L877.6,258.8 L876.5,262.4 L863.5,269.4 L849.4,275.3Z" fill="#fff" stroke="#000" stroke-width="1.2"/>
<path d="M894,236 C898,234 902,235 903,239 C903,242 900,243 897,242 C899,240 899,238 896,238Z" fill="#fff" stroke="#000" stroke-width="1.2"/>
<path d="M93,89 C95,95 96,103 94,110 C92,114 90,118 88,121 M86,95 C88,100 87,106 85,112 C84,116 86,120 91,122 M99,85 c2,1 2,3 0,4 c-2,-1 -2,-3 0,-4Z M95,87 c2,0 3,2 1,3 c-2,0 -2,-2 -1,-3Z M89,99 c2,1 3,4 1,6 c-2,-2 -2,-4 -1,-6Z M97,96 c2,3 2,7 0,9 M68,118 c3,1 4,3 2,5 M66,126 c3,0 4,2 1,4" fill="none" stroke="#000" stroke-width="1.2"/>
<path d="M821,306 L826,311 L828.5,329 L826,340 L829,356 L832,368 L828.5,371.8 L824.7,362.4 L821,345.4 L815.3,328.5 L819,316Z" fill="#fff" stroke="#000" stroke-width="1.1" stroke-linejoin="round"/>
<path d="M822,378 C828,380 832,384 830,390 C826,394 830,400 826,404 C822,408 818,410 814,414 M826,381 l6,2 M824,396 l5,1 M820,405 l6,0" fill="none" stroke="#000" stroke-width="1.2"/>
<path d="M885,159 L897,152.5" stroke="#000" stroke-width="1.2"/>
<g fill="none" stroke="#1e8cf0" stroke-width="1.2"><path d="M129.1,760.7C130.3,759.2 136.1,753 137.8,749.8C139.5,746.6 140.5,739.3 142.2,736.7C143.9,734.1 148,731.7 150.9,730.2C153.8,728.7 160.2,727.3 164,725.8C167.8,724.3 175.8,720.9 179.3,719.3C182.8,717.7 188.7,714.5 190.2,713.8"/><path d="M146.5,732.4C147.7,731.2 152.4,725.6 155.3,723.6C158.2,721.6 166.7,718 168.4,717.1"/><path d="M131.3,756.4C132.8,756.1 139,755.7 142.2,754.2C145.4,752.7 152.5,747.7 155.3,745.5C158.1,743.3 161.9,738.8 162.9,737.8"/><path d="M140,706.2C141.5,706.2 148,706.8 150.9,706.2C153.8,705.6 160.1,703.1 161.8,701.8C163.5,700.5 163.7,697.1 164,696.4"/><path d="M168.4,756.4C168.7,755.2 169.1,748.6 170.6,747.6C172.1,746.6 178.1,748.6 179.3,748.7"/><path d="M181.5,721.5C182.1,722.4 184.3,726.8 185.8,728C187.3,729.2 191.5,729.9 192.4,730.2"/></g>
<path d="M150.3,689.9 154.9,691.9 159.8,692.4 162.8,696.1 169.2,695 176.7,696 182.3,696.3 184,695.9 186.1,698 188.1,698.1 192,717.3 195.8,739.4 198.4,759.6 201.2,761 202.3,762.3 203.8,762.8 205.2,762.9 207.5,763.6 210.7,761.9 211.8,761.5 216.7,761.3 218.9,760.2 221.7,762.2 224.4,764.4 228.2,767 231.8,769.6 235.6,772.3 238.6,773 241.9,777.1 244.9,778.3 247.4,779.7 247.7,782.7 246.4,783.6 247.7,788.1 243,788.3 240.9,787.5 237.7,789.7 235.5,785.1 231.3,782.3 227.8,780 224.6,778.6 220.1,775.8 215.9,770.6 213,768.3 208.5,767.1 205.8,764.3 199.4,765.6 195,765.5 191.2,763.7 185.8,763.7 181.9,763.5 177.2,763.2 175.3,764.4 171.2,766.3 167.8,766.8 166.6,770.9 162.7,773.3 159.4,778.4 155.6,781.3 154.2,782.9 151.2,786.8 147,789.4 142.8,793.2 136.7,794.5 133.2,798.9 127.1,799.9 122.7,801.8 117.2,803.2 112.2,805.3 106.8,806.3 102.9,806.2 97.4,808.6 91.5,808 87.7,808.4 81.2,809.3 77.2,808.8 71.9,808.3 68.9,807.5 64.5,805.8 60.4,806.4 58.8,805.4 54.3,804.1 57.4,803.6 60.4,804.5 61.2,802.5 67.4,804 72,803.9 75.1,804.5 82,804.3 86.2,804.5 91.8,804.3 98,802.8 100.7,803.9 107.9,803.2 111.8,801.4 117.9,798 122.6,797.8 127,794.7 130.7,792 135.3,789 138.3,787 140.8,784 143.2,783 144.6,781.3 146,778.4 145.3,776.6 144.3,774.8 144.1,774.6 142,774.9 139.6,773.4 135.9,774.7 133.4,774.5 131.7,770.9 130.7,770.3 128.3,768 129.4,766.6 128.4,763.2 127.2,763.8 123.7,760.2 122.1,758.7 120.2,756.3 120.3,753 117.9,751.1 117.3,748.8 120.8,749.2 120,747 122.1,745.1 124.3,744.4 127.1,742.3 128.4,740.7 129.6,739.8 132.5,737.9 132.5,735.9 133.2,734.8 134.2,732.1 134.2,730.5 130.4,729.2 127.7,729.2 124.5,728.5 122.5,725.9 120.5,725.6 117.2,723.4 118.7,723.8 120.7,721.9 121.4,722.2 122.7,721.1 125.2,721.5 129.5,721.3 131.9,721.2 134,721.3 134.6,721.7 135.1,719.2 137.7,717.5 136.8,716.1 137.3,714.9 133.8,715 132.6,713.5 131.7,712.1 130.2,710.1 127.6,707.3 126.8,707 126,704.6 125.3,705 125.8,702.1 129.2,701.9 130.7,698.8 132.8,698.5 136.2,696.5 137.5,695.1 139.6,694 141.2,693.1 145.5,691.8 147.1,690.5 149.1,691.2Z" fill="none" stroke="#000" stroke-width="1.7" stroke-linejoin="round"/>
<path d="M100,736 104,734 107,739 104,741Z M112,762 116,761 117,764 113,765Z M52,803 48,802 44,800 40,798 38,796 42,797 47,800Z M24,781 27,781 27,785 24,785Z M28,786 31,786 30,789Z M155,787 160,784 162,790 157,792Z M233,775 244,780 247,787 240,788 232,782Z M94,752 96,752 96,755Z M96,777 98,777 98,780Z" fill="none" stroke="#000" stroke-width="1.3"/>
<path d="M222,770 l18,12 M224,774 l18,12 M222,777 l16,11 M228,771 l14,10 M232,771 l12,9 M236,775 l9,7 M226,779 l12,8 M240,782 l5,4" stroke="#000" stroke-width="1.3"/>
<path d="M30,789 l3,1 M36,793 l4,2 M44,798 l3,1 M60,806 l4,0 M70,808 l5,0 M84,808 l6,-1 M100,806 l5,-1 M115,803 l6,-2 M128,798 l5,-2 M140,790 l4,-3 M150,786 l3,-2" stroke="#000" stroke-width="1.4"/>
<path d="M152,790 c4,-3 8,-2 8,2 c-2,3 -6,3 -8,-2Z M165,778 c3,-2 6,0 5,3 c-2,1 -4,0 -5,-3Z" fill="none" stroke="#000" stroke-width="1.3"/>
<clipPath id="mau"><path d="M437,749C437.7,748.2 440.8,746.7 442,747C443.2,747.3 445.1,750.6 446,751C446.9,751.4 447.8,749.9 449,750C450.2,750.1 453.4,751.3 455,752C456.6,752.7 460,754.2 461,755C462,755.8 463,757.1 462.5,758C462,758.9 458.8,760.8 457,761.5C455.2,762.2 450.5,763.6 449,763.5C447.5,763.4 447.1,761.6 446,760.5C444.9,759.4 442.2,756 441,755C439.8,754 437.5,753.8 437,753C436.5,752.2 436.3,749.8 437,749Z"/></clipPath>
<clipPath id="mol"><path d="M415,742.5C415.5,741.8 421.3,740.1 424,740C426.7,739.9 433.4,740.9 435,741.5C436.6,742.1 436.9,743.9 436,744.5C435.1,745.1 430.1,745.9 428,746C425.9,746.1 421.7,745.5 420,745C418.3,744.5 414.5,743.2 415,742.5Z"/></clipPath>
<clipPath id="big"><path d="M464.6,776C465.2,774.9 468.5,773.6 470,774C471.5,774.4 474.1,777.6 476,779C477.9,780.4 482.1,783.2 484,784.5C485.9,785.8 488.3,787.1 490,788.5C491.7,789.9 495.3,793.5 497,795C498.7,796.5 502.7,798.7 503,800C503.3,801.3 500.6,803.7 499,805C497.4,806.3 493.3,808.3 491,809.5C488.7,810.7 484,812.5 482,814C480,815.5 477.3,819.4 476,820.5C474.7,821.6 473.3,822.3 472,822C470.7,821.7 467.5,819.7 466.5,818C465.5,816.3 465,812 464.6,809.5C464.2,807 464.2,801.2 463.5,799C462.8,796.8 459.9,794.7 459.5,793C459.1,791.3 459.7,787.9 460.5,786.5C461.3,785.1 465.1,783.9 465.6,782.5C466.1,781.1 464,777.1 464.6,776Z"/></clipPath>
<path d="M444,748 L456,750 L456,763 L444,763Z" fill="#fcd37f" clip-path="url(#mau)"/>
<ellipse cx="423" cy="743" rx="5" ry="2" fill="#fcd37f" clip-path="url(#mol)"/>
<ellipse cx="470" cy="777" rx="8" ry="5" fill="#ffff00" clip-path="url(#big)"/>
<path d="M309.6,719.3 310.9,717.1 311.3,715.6 312.2,714.3 312.6,712.7 314.3,712.3 315.3,711 315.3,712.6 315.4,713.6 316.4,713.5 314.5,715.7 314.4,717.2 312.7,718.9 311.5,718.7 310.9,719Z M326.5,709.4 327.2,707.1 329.7,706.2 331.2,704.3 333.8,704.4 336.4,703.8 338.9,703.9 340.6,705.8 342.1,706.7 342.9,707.8 342.2,709.2 342.3,711.2 341.9,713.4 340.7,714.2 339.1,714.9 337.8,716.1 335.7,716.7 333.5,715.5 331.4,715.8 329.6,714.9 327.9,713.8 325.9,713 326.5,711 326.3,710.4Z M379.7,728 383.2,726.4 386.8,724.2 389.5,723.3 391.1,725.1 393.2,727.6 394.3,730 396.5,730.7 398.8,732.4 401,733.2 401.8,734.2 402.6,736.4 402.8,737.5 401,738.1 398.6,738.7 396.2,738.9 393.9,738.1 391.9,737.6 390.4,736.1 388,736.1 387.1,736.1 385.1,735.8 384.3,734.2 383.5,732.8 383.1,731.4 382.2,730.4 381.4,729.5Z M414.7,742.1 417.9,741.3 420.6,740.7 424.4,740.3 427.9,740.2 431.4,740.8 434.7,741.1 435,742.9 436,743.8 436.3,744.2 433.1,745.1 430.9,745.9 428.4,745.6 425.4,745.8 422.7,745 420,744.6 418.8,744.5 416.7,743.1Z M424.1,752.2 426.3,751.8 428.2,751.1 429.5,750 431.4,751.1 432.4,751.6 433,752.7 432,754.4 430.5,755.4 429.8,757.4 428.6,756 427,755.3 425.1,754.6 424.2,754.4 424,752.7Z M437.3,749.3 438.7,748.1 439.8,747.8 442,747.3 443.2,748.6 444.4,750 446.2,750.9 447,750.8 447.7,750.4 449.3,749.8 451.3,750.9 453.3,751.2 454.6,752.3 457.3,752.9 458.6,753.7 461.1,754.8 462,756.1 461.7,757.2 462.4,758.4 461.1,759.2 459,760.5 457.3,762 453.9,762 451.8,762.6 449.1,763.1 448.4,762.5 446.6,761.7 445.8,760.2 444.3,758.3 442.4,757.2 441.2,754.5 439.9,753.9 438.2,754.1 437.1,752.8 436.9,751.6 436.6,750.8Z M436.8,763.7 438.8,763.1 440.4,762.9 441.6,762.5 441.5,763.3 441.6,763.8 441.9,765.3 440.3,765 439.5,765.9 438.1,765.6 438.1,764.7 437.7,764.4Z M464.3,776.5 466,775.5 467.8,774.4 470.5,773.7 472.1,775.6 474,777.3 475.7,779.3 478.3,780.6 480.9,782.4 483.9,784.9 485.9,785.4 487.8,787.7 489.6,788.6 492.2,790.8 494.5,793 497,795.1 499.4,796.7 500.6,797.9 503.4,800 501.4,802.1 500.4,803.6 499.4,804.8 496.2,806.9 493.3,808.3 490.6,809.7 488.2,811.4 485.3,812.5 481.7,813.7 480,816.2 477.6,818.7 476,820.7 474.4,820.7 472.8,821.3 471.8,821.9 470,821 468.7,819 466.4,817.7 466,815.6 464.9,812.6 464.4,809 464.5,805.8 463.5,802.4 463.2,798.9 462.1,796.9 460.9,794.8 459.1,792.6 459.4,790.9 460,789 460.5,786.7 462.7,784.7 463.4,783.5 465.5,782.6 465.5,780.2 465.4,777.7Z" fill="none" stroke="#000" stroke-width="1.5" stroke-linejoin="round"/>
<path d="M424.9,708 L422.8,740.6 M425.9,778.3 L446.8,759.4" stroke="#000" stroke-width="1.2"/>
<g font-family="Liberation Sans, Arial, sans-serif" font-weight="bold" font-size="19.5" text-anchor="middle"><text x="425" y="707">L</text><text x="421" y="793">S</text></g>
<clipPath id="pr"><path d="M592.5,738.5 612,738.5 632.7,739.3 648,741 663.6,743.2 680.6,746.3 681.4,754 671.4,763.3 659,769.5 648.2,771 635.8,769.5 617.3,769.5 591,771 589.5,764.8 591,755.5 586.4,747.8 591,743.2Z"/></clipPath>
<g clip-path="url(#pr)"><path d="M648,749C649.2,747.9 653.7,746.4 657,746C660.3,745.6 665.3,745.5 668,746.5C670.7,747.5 672.7,749.8 673,752C673.3,754.2 671.8,758.8 670,760C668.2,761.2 664.7,759.8 662,759C659.3,758.2 656.1,756.6 654,755.5C651.9,754.4 650.5,753.6 649.5,752.5C648.5,751.4 646.8,750.1 648,749Z" fill="#ffff00"/><path d="M634,768C634.7,766.2 637.2,762.7 640,761.5C642.8,760.3 647.8,760.2 651,761C654.2,761.8 657.8,764.2 659,766C660.2,767.8 661.8,771 658,772C654.2,773 640,772.7 636,772C632,771.3 633.3,769.8 634,768Z" fill="#ffff00"/><ellipse cx="646" cy="768" rx="6" ry="5" fill="#fcd37f"/></g>
<path d="M592.4,738.6 597.1,738.4 600.3,738.6 603.7,738.5 608.3,739 611.4,738.2 615.5,739.2 620.6,738.1 625.2,739.7 628.8,739.3 632.2,738.5 635.8,738.9 638.3,739.6 641.1,740.3 644.8,741.2 648,741.2 651.1,741.7 654.2,741.5 658.2,743.1 661,743.1 663.3,742.8 666.7,743.1 670.8,744.3 674.4,744.9 677.9,746.2 679.8,745.8 681.4,747.8 681.7,749.2 680.4,751.1 681.7,752.1 680.7,753.7 680.1,756.3 676.8,757.3 674.8,758.9 673.9,760.9 671.5,763.2 668.4,764.9 665.8,766 663.3,766.9 661,767.9 659.8,770 656.5,770.4 654.2,769.9 653.1,770.6 649.7,771.5 647.7,770.6 646.2,770.4 642.9,769.7 640.1,770.2 637.9,770 635.6,769.4 632.8,769.5 628.5,770.1 624.2,768.9 621.7,770 616.9,769 612.4,770.5 606.3,770.8 602.1,770.6 596.1,770.1 590.3,771.7 590.3,770.1 590,769 590.3,766.9 589.3,766.4 588.8,764.4 589.9,763.5 590.3,760.7 591.1,758.7 589.9,757 590.9,754.8 589.6,753.8 589.3,751.8 588,751.5 588.1,749.6 586.7,747.9 586.7,746.1 587.5,746.6 589.5,745.8 589.3,744.3 591,743.6 591,743.1 590.9,741.4 592.3,741 592.6,739.8Z" fill="none" stroke="#000" stroke-width="1.5" stroke-linejoin="round"/>
<path d="M684,761 L700,758 L701,760 L685,763Z M697,748 L704,749 L703,751 L697,751Z" fill="none" stroke="#000" stroke-width="1.2"/>
<ellipse cx="550.5" cy="762.8" rx="2.6" ry="1.7" fill="none" stroke="#000" stroke-width="1.2"/>
<circle cx="574" cy="745.5" r="0.9" fill="#000"/><circle cx="629" cy="774" r="0.9" fill="#000"/>
<text x="641" y="760" font-family="Liberation Sans, Arial, sans-serif" font-weight="bold" font-size="19.5" letter-spacing="0.6" text-anchor="middle">SL</text>
</svg>
<div class="a" id="title">U.S. Drought Monitor</div>
<div class="a" id="date">October 21, 2014</div>
<div class="a" id="rel">(Released Thursday, Oct. 23, 2014)</div>
<div class="a" id="valid">Valid 8 a.m. EDT</div>
<div class="a" style="left:30px;top:567px;font-size:16.5px;font-weight:bold;line-height:18px;">Author:</div>
<div class="a" style="left:30px;top:583px;font-size:16.6px;font-style:italic;line-height:18px;">Michael Brewer</div>
<div class="a" style="left:30px;top:602px;font-size:16.4px;font-style:italic;line-height:18px;">NCDC/NOAA</div>

<div class="box" style="left:20px;top:680px;width:241px;height:151px"></div>
<div class="box" style="left:281px;top:680px;width:240px;height:151px"></div>
<div class="box" style="left:539px;top:680px;width:172px;height:151px"></div>

<div class="lg a" style="left:843px;top:423px;font-size:16.5px;font-style:italic;text-decoration:underline;text-underline-offset:3px;">Drought Impact Types:</div>
<div class="lg a" style="left:874px;top:445px;font-size:14px;">Delineates dominant impacts</div>
<div class="lg a" style="left:843px;top:470.5px;"><b>S</b> = Short-Term, typically less than</div>
<div class="lg a" style="left:843px;top:486.5px;">6 months (e.g. agriculture, grasslands)</div>
<div class="lg a" style="left:843px;top:511.5px;"><b>L</b> = Long-Term, typically greater than</div>
<div class="lg a" style="left:843px;top:527.5px;">6 months (e.g. hydrology, ecology)</div>
<div class="lg a" style="left:840px;top:547px;font-size:16.5px;font-style:italic;text-decoration:underline;text-underline-offset:2.5px;">Intensity:</div>
<div class="sw" style="top:569px;background:#ffff00"></div>
<div class="sw" style="top:587px;background:#fcd37f"></div>
<div class="sw" style="top:605px;background:#e69800"></div>
<div class="sw" style="top:624px;background:#e60000"></div>
<div class="sw" style="top:642px;background:#730000"></div>
<div class="lg a it" style="left:869px;top:569px;">D0 Abnormally Dry</div>
<div class="lg a it" style="left:869px;top:587.3px;">D1 Moderate Drought</div>
<div class="lg a it" style="left:869px;top:605.6px;">D2 Severe Drought</div>
<div class="lg a it" style="left:869px;top:623.9px;">D3 Extreme Drought</div>
<div class="lg a it" style="left:869px;top:642.2px;">D4 Exceptional Drought</div>
<div class="lg a pp" style="left:840px;top:673px;">The Drought Monitor focuses on broad-</div>
<div class="lg a pp" style="left:840px;top:687.3px;">scale conditions. Local conditions may</div>
<div class="lg a pp" style="left:840px;top:701.6px;">vary. See accompanying text summary for</div>
<div class="lg a pp" style="left:840px;top:715.9px;">forecast statements.</div>
<svg class="map" width="1100" height="850" viewBox="0 0 1100 850" style="pointer-events:none">
<path d="M844.3,457.5 C843.8,452 846,449 849,449.8 C852,450.6 854,453 857,451.8 C860,450.5 861.5,448.5 862.8,446.2" fill="none" stroke="#000" stroke-width="2.6" stroke-linecap="round"/>
<!-- USDA -->
<text x="728" y="763" font-family="Liberation Serif, serif" font-weight="bold" font-size="29" fill="#1c2a78" textLength="73" lengthAdjust="spacingAndGlyphs">USDA</text>
<rect x="729" y="765" width="71" height="25" fill="#1e7a2e"/>
<path d="M729,768 C750,766 775,765 800,766 L800,768 C775,767 752,769 729,772Z M729,773 C752,770 776,769 800,770 L800,772 C778,772 752,775 729,779Z" fill="#fff"/>
<!-- NDMC -->
<path d="M818,777 C822,774 826,779 830,776 C834,773 838,779 842,776 L846,773 L849,789 L853,771 L857,777 C862,774 866,779 871,776 C876,773 881,779 886,776 C892,773 898,778 904,776 C912,773 920,778 930,776" fill="none" stroke="url(#ndg)" stroke-width="1.6"/>
<defs><linearGradient id="ndg" x1="0" x2="1" y1="0" y2="0"><stop offset="0" stop-color="#f5b21a"/><stop offset="0.3" stop-color="#e2442a"/><stop offset="0.6" stop-color="#e8a020"/><stop offset="1" stop-color="#3aa84a"/></linearGradient>
<linearGradient id="ndt" x1="0" x2="1"><stop offset="0" stop-color="#d6b020"/><stop offset="1" stop-color="#2a9a4a"/></linearGradient></defs>
<g fill="none" stroke="url(#ndt)" stroke-width="1.5">
<path d="M883,761 C878,760 877,753 881,751 C880,745 888,743 891,747 C894,744 900,747 898,752 C901,755 898,761 893,761"/>
<path d="M897,761 C892,760 891,753 895,751 C894,745 902,743 905,747 C908,744 914,747 912,752 C915,755 912,761 907,761"/>
<path d="M911,761 C906,760 905,753 909,751 C908,745 916,743 919,747 C922,744 928,747 926,752 C929,755 926,761 921,761"/>
<path d="M888,776 L888,752 M902,776 L902,752 M916,776 L916,752 M884,755 L888,760 L892,755 M898,755 L902,760 L906,755 M912,755 L916,760 L920,755"/>
</g>
<text x="818" y="786" font-family="Liberation Sans, sans-serif" font-weight="bold" font-size="5.6" fill="#555" textLength="24" lengthAdjust="spacingAndGlyphs">National</text>
<text x="855" y="786" font-family="Liberation Sans, sans-serif" font-weight="bold" font-size="5.6" fill="#555" textLength="75" lengthAdjust="spacingAndGlyphs">Drought Mitigation Center</text>
<!-- Commerce -->
<circle cx="973.7" cy="766.3" r="22.5" fill="#fff" stroke="#3b9ad8" stroke-width="4.5"/>
<path d="M963,762 L984,762 L984,773 L963,773Z" fill="#2e8fd0"/>
<path d="M963,771 L984,771 L984,778 C984,781 978,783 973.5,784 C969,783 963,781 963,778Z" fill="#f2c230"/>
<path d="M967,750 L973.5,758 L980,750 L976,758 L973.5,761 L971,758Z" fill="#c9a030"/>
<path d="M966,766 L981,766" stroke="#fff" stroke-width="1.5"/>
<!-- NOAA -->
<circle cx="1042.5" cy="765" r="23.5" fill="#fff" stroke="#6a6aa8" stroke-width="0.8" stroke-dasharray="1 1"/>
<circle cx="1042.5" cy="765" r="20" fill="#27a0e6"/>
<path d="M1026,753 C1030,746 1036,745 1042.5,745 C1049,745 1055,746 1059,753 C1054,757 1049,762 1044,768 C1039,763 1033,757 1026,753Z" fill="#1b1f7a"/>
<path d="M1026,756 C1032,760 1038,766 1044,771 L1046,772 C1041,774 1038,775 1036,776 C1044,776 1050,773 1057,768 C1054,768 1050,769 1047,769 C1052,764 1056,759 1060,756 C1054,760 1049,764 1044,768 C1039,763 1033,759 1026,756Z" fill="#fff"/>
<text x="1042.5" y="757" font-family="Liberation Sans, sans-serif" font-weight="bold" font-size="7" fill="#fff" text-anchor="middle">NOAA</text>
</svg>
<div class="a" id="url">http://droughtmonitor.unl.edu/</div>
</body></html>
